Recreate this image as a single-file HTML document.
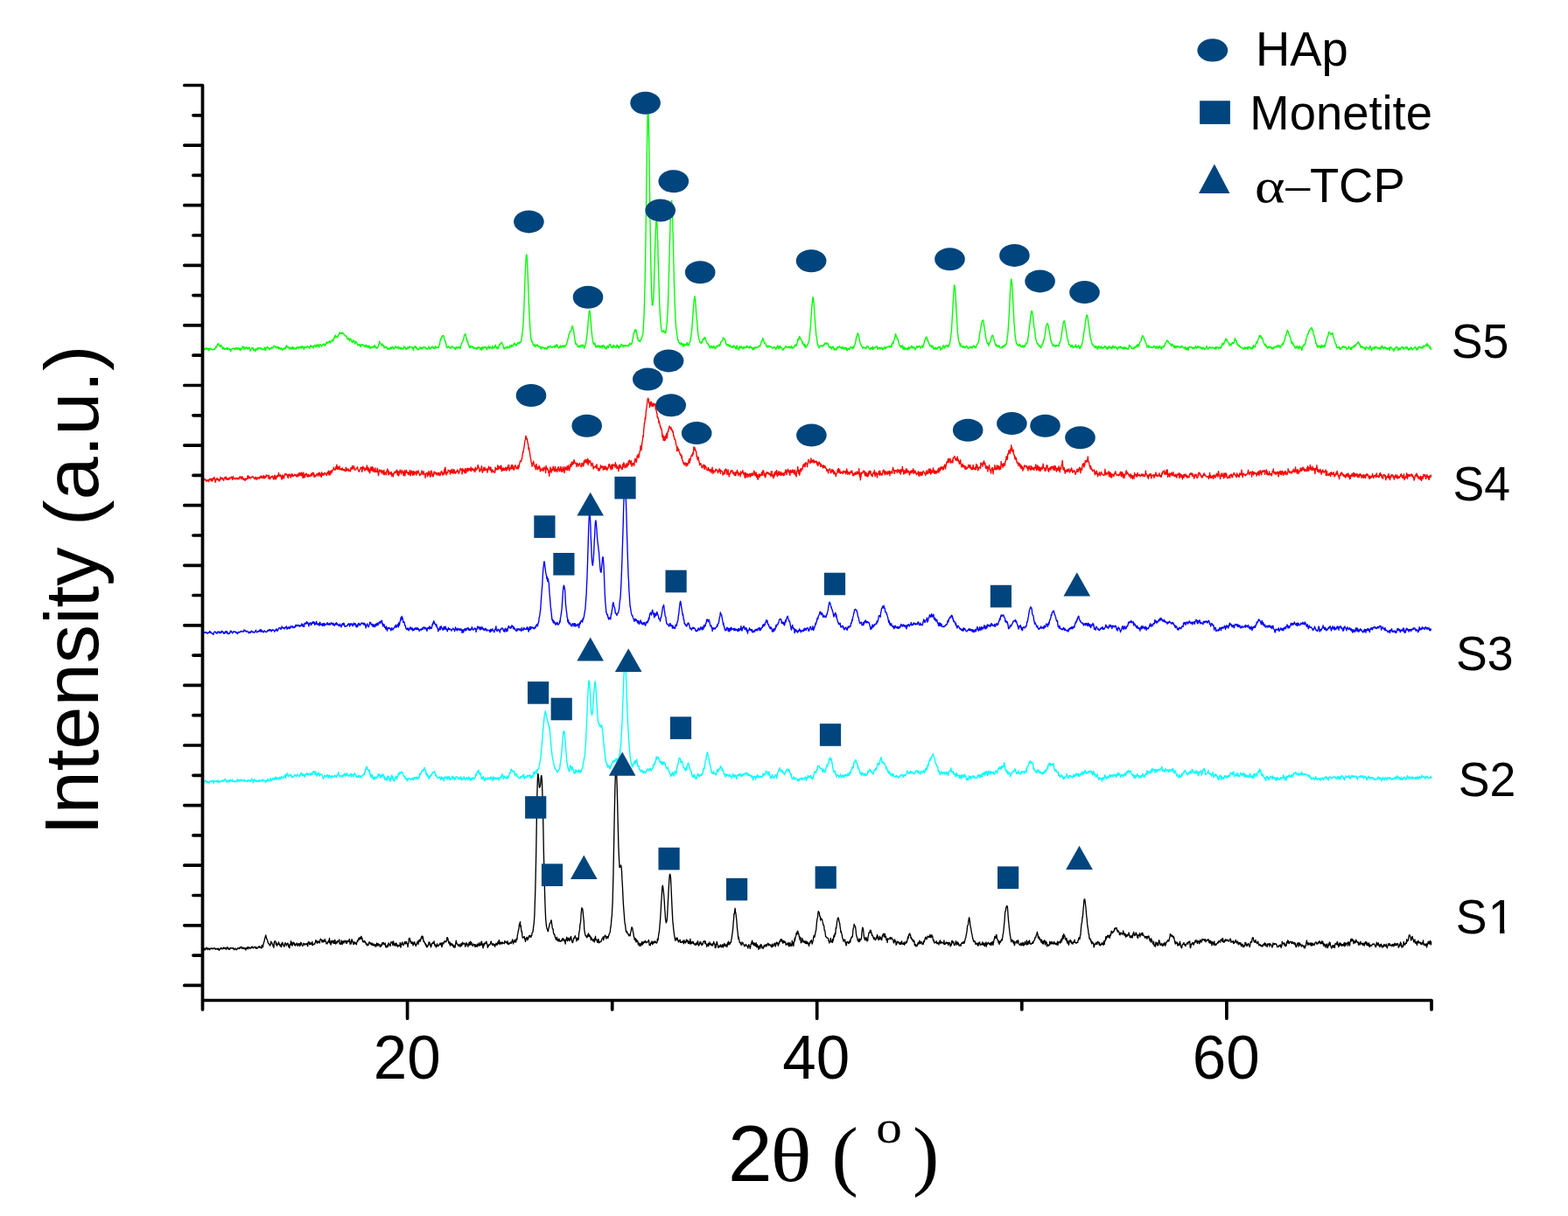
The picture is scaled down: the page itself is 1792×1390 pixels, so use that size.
<!DOCTYPE html>
<html lang="en">
<head>
<meta charset="utf-8">
<title>XRD patterns S1-S5</title>
<style>
html,body{margin:0;padding:0;background:#fff;}
body{width:1792px;height:1390px;overflow:hidden;}
svg{display:block;}
</style>
</head>
<body>
<svg width="1792" height="1390" viewBox="0 0 1792 1390">
<rect width="1792" height="1390" fill="#fff"/>
<path d="M231.7 399.7l.4-.9l.4 1.4l.4-2.3l.4 1l.4 1.2l.4-1.6l.4 .7l.4-.3l.4-.2l.4-1.5l.4 1.6l.4 0l.4 .7l.4-1.1l.4 .1l.4 1l.4 1.1l.4-2.1l.4 1.6l.4-1.1l.4-.8l.4 .2l.4-.5l.4 1.2l.4 .3l.4-.1l.4 .5l.4 0l.4-.2l.4 .3l.4-1.1l.4 .8l.4-.1l.4 0l.4-.6l.4-1.7l.4 .2l.4-1.5l.4 1.2l.4-.9l.4-1.1l.4-1.6l.4-.3l.4-.6l.4 .8l.4 1.4l.4-.1l.4-.3l.4 .9l.4 1.2l.4-1.1l.4-.8l.4 .1l.4 .2l.4 2.1l.4-.3l.4 2.4l.4-1.1l.4-.7l.4-.1l.4 1.4l.4 .7l.4-.6l.4 .5l.4-.5l.4-.2l.4 0l.4-.6l.4 1.5l.4-2.1l.4 2.1l.4-.2l.4-.9l.4 .2l.4-.3l.4 1.7l.4-.9l.4 .1l.4 1l.4 1.7l.4-1.4l.4-1.3l.4 .1l.4-.7l.4-.3l.4-.1l.4 .3l.4 .1l.4 .2l.4 .9l.4-1.6l.4 .5l.4-.1l.4-.4l.4 1.3l.4-1.4l.4-.4l.4 1.5l.4-.2l.4 .5l.4-.8l.4-1.1l.4 1.3l.4 .1l.4 .8l.4-1.4l.4 2.5l.4-2.4l.4 1.6l.4-.9l.4-.7l.4 .4l.4-1.7l.4-1.2l.4 .5l.4 1l.4 1.6l.4-2.5l.4 1l.4 1.8l.4-.8l.4-.4l.4-.7l.4-.5l.4 1.3l.4-.1l.4-.7l.4 .5l.4 1.3l.4-.4l.4-.9l.4-.8l.4-.1l.4 1.3l.4 1.4l.4 1.8l.4-1.2l.4-.7l.4-.9l.4-.7l.4-.5l.4 1l.4-.6l.4 0l.4 2.7l.4-1.3l.4 .4l.4-.3l.4 0l.4 2.4l.4-1.1l.4-1.9l.4 .5l.4-.4l.4 0l.4 1.4l.4-1.6l.4-1.4l.4 1.3l.4-.8l.4 .8l.4-.2l.4-.4l.4 .1l.4 .1l.4-.3l.4 1.2l.4-.8l.4 .3l.4 .9l.4-.3l.4 .9l.4-1.1l.4 .1l.4-.8l.4-.2l.4-.9l.4 3.4l.4-1.2l.4 .9l.4-2.1l.4-.9l.4-.3l.4-.5l.4 1.3l.4 .3l.4-.5l.4-.2l.4 .7l.4 .4l.4 1.3l.4-.4l.4-.8l.4-.6l.4 .4l.4-.8l.4-.5l.4 1.1l.4-.5l.4 .3l.4-1l.4-.2l.4-1.5l.4 .4l.4-.1l.4 .6l.4 .3l.4 .4l.4 1.1l.4-1.7l.4 .3l.4 .3l.4 1.3l.4-1l.4-.3l.4 .3l.4 1.7l.4-1.8l.4 .5l.4 .4l.4 .5l.4 .9l.4 .1l.4-1.6l.4 0l.4 .5l.4 1l.4 1.2l.4-.5l.4-.8l.4-1.2l.4 .3l.4 .4l.4-.7l.4 .8l.4-1.4l.4 .8l.4-2.4l.4-1l.4 .4l.4 1.9l.4-.1l.4-.9l.4 .9l.4-.4l.4 .3l.4 1.9l.4-.8l.4 1l.4-1.5l.4 .6l.4 .1l.4-.9l.4 1.7l.4-1l.4-1.3l.4 1.9l.4-2.3l.4 1.5l.4 1.3l.4-.4l.4-.1l.4-.8l.4 .7l.4 .2l.4 .2l.4 0l.4-1.9l.4 .3l.4 .5l.4-.5l.4-.9l.4 0l.4 2l.4-1.2l.4 .6l.4-.7l.4 .6l.4-1.6l.4 1.6l.4-1.4l.4 .8l.4 1.1l.4-2.7l.4 1.4l.4 .1l.4 0l.4-.5l.4 2.9l.4-2.2l.4 .3l.4-1.2l.4 .4l.4 .9l.4-1l.4 .8l.4-.6l.4-.2l.4-1.1l.4 .5l.4 .8l.4-.1l.4 .5l.4-.4l.4 1.4l.4-.4l.4-2.9l.4 0l.4 1.5l.4-1.3l.4 .5l.4-.1l.4 1.2l.4 .2l.4-.8l.4 2l.4-2.1l.4-.9l.4-.5l.4 .7l.4 .4l.4 .1l.4 .6l.4-2.4l.4 1.6l.4 .6l.4-.6l.4-1l.4-1l.4 1.9l.4-.3l.4 .3l.4 1.5l.4-3.1l.4 .5l.4-.7l.4 .3l.4 .7l.4 .2l.4 1.3l.4-1.5l.4 .1l.4-1.2l.4 .2l.4-.3l.4-.7l.4 1.5l.4-.1l.4 1l.4-1.8l.4 .8l.4-.4l.4-1.7l.4-1.1l.4 1.1l.4 .2l.4-.8l.4 .5l.4-1.1l.4 .1l.4-.5l.4-.9l.4 1.6l.4-.5l.4 1.1l.4-1.3l.4-1l.4-.2l.4 .7l.4-1.2l.4-.6l.4 1.9l.4-2.4l.4 .9l.4-1.3l.4-2.1l.4 .7l.4-1.7l.4-1.1l.4 1.1l.4 1.5l.4-.6l.4 .3l.4 .3l.4-1.4l.4 .7l.4-1.3l.4-1l.4-.2l.4-.4l.4-2.3l.4 1.4l.4-.3l.4-.3l.4 .3l.4 1l.4-1.6l.4 .6l.4 .3l.4-1l.4 .8l.4 .3l.4 0l.4 1.5l.4 0l.4 .4l.4 .3l.4 .7l.4-.1l.4 .8l.4-.8l.4 1.4l.4 1.7l.4 .6l.4-.6l.4 1.1l.4-2l.4 1.7l.4-.2l.4 2l.4-2.4l.4-.2l.4 .9l.4-.1l.4 1.2l.4 1.3l.4 .9l.4 0l.4-1l.4-1.6l.4 .4l.4 .7l.4-.5l.4 2l.4 1.7l.4-1.7l.4 .5l.4-1.7l.4 1.2l.4 .4l.4 .7l.4 1.4l.4 .9l.4 0l.4-.4l.4-.9l.4 .5l.4 .1l.4 1.6l.4 .1l.4-2l.4 2.6l.4-2.3l.4 .4l.4-.5l.4-.2l.4 .7l.4-.7l.4 1.3l.4 .3l.4 0l.4 .9l.4-1.3l.4 1.3l.4-1.7l.4 1.2l.4-1.5l.4 1.6l.4 .7l.4-.1l.4-1.1l.4 1.7l.4-2l.4 2l.4-.9l.4-.9l.4 2.8l.4-1.9l.4 .4l.4 1.5l.4-.5l.4-.8l.4 .5l.4-.7l.4 .1l.4-.5l.4 1.2l.4-.1l.4-1.7l.4 .7l.4-1.9l.4 1.8l.4-.4l.4 2.1l.4-1.5l.4 .9l.4 .8l.4-.3l.4 0l.4-.7l.4-1l.4-.3l.4-1.8l.4-1.1l.4-2.7l.4 1.6l.4 .5l.4 .2l.4 1.1l.4 .3l.4 1.1l.4-.2l.4-1.8l.4 1.7l.4-.1l.4 .7l.4-.7l.4 3l.4-1.3l.4 1.2l.4-.7l.4-.6l.4 1.1l.4-.8l.4 0l.4 1.5l.4 .5l.4 .4l.4 .6l.4-1.6l.4 .4l.4 .7l.4 .1l.4-.2l.4 .2l.4-1.8l.4-.5l.4 1.7l.4-.3l.4-1.2l.4 0l.4-.7l.4 .1l.4 2l.4 .1l.4 .5l.4-.3l.4-.8l.4-1l.4-1.2l.4 .3l.4 1.4l.4-.1l.4 .5l.4-.7l.4 .6l.4-.4l.4-1l.4 2.3l.4-2.3l.4 1.5l.4 0l.4 .5l.4 .6l.4-.8l.4-1.1l.4 2.2l.4-1.2l.4 .5l.4 .2l.4-.1l.4 .4l.4-.6l.4-.8l.4-2l.4 1.9l.4 .3l.4-.3l.4-.4l.4 1.9l.4-.6l.4 .9l.4 0l.4-1.3l.4-1.1l.4 1.5l.4-.5l.4-.7l.4 .8l.4-2l.4 1.5l.4-1.1l.4 .3l.4 0l.4-.2l.4 .1l.4-.2l.4 0l.4 1.9l.4-.8l.4 1l.4 2.2l.4-3.2l.4-1.2l.4 .1l.4 .3l.4-1l.4 1.1l.4 .9l.4-1.1l.4 1.9l.4-.6l.4 .9l.4 0l.4 1.3l.4-.9l.4 .1l.4 0l.4-.3l.4-1l.4-1.4l.4 1.3l.4 .7l.4-1.4l.4 .7l.4 0l.4 1l.4-.3l.4-1.6l.4 .2l.4-.4l.4 .7l.4-.5l.4 .4l.4-.6l.4 0l.4 1.8l.4-.3l.4 0l.4 .3l.4-.3l.4 1.2l.4-1l.4-.2l.4-.4l.4-1.9l.4 1.5l.4-.1l.4 1.6l.4-1l.4 .3l.4 .2l.4-1.7l.4 .5l.4-1.1l.4 1.2l.4-.7l.4-.5l.4 2l.4-1.1l.4 1.3l.4-.3l.4-.8l.4 .7l.4-2.5l.4 2.2l.4-.2l.4 .2l.4-.3l.4-.4l.4-.2l.4 0l.4 .8l.4-.6l.4-.9l.4-2.1l.4-.1l.4-3.1l.4-2.8l.4 .9l.4-1.4l.4-2.2l.4-.3l.4 .2l.4-1.6l.4 .3l.4-.3l.4 .1l.4 .9l.4 2.6l.4 1.6l.4 .1l.4 1.8l.4-.5l.4 2.6l.4 2.4l.4 2l.4-.1l.4 .5l.4-.8l.4-.3l.4-.9l.4 1.4l.4-.6l.4 .3l.4 .5l.4 1l.4 .2l.4 .1l.4-1.3l.4-.7l.4-.6l.4-.2l.4 .8l.4 .5l.4 0l.4 .9l.4 .1l.4-.2l.4 .4l.4-.9l.4 2.2l.4-1.1l.4-1.4l.4 .7l.4-.5l.4-.5l.4 1.4l.4-.4l.4-.5l.4 .3l.4-1l.4 1.4l.4-.2l.4-.9l.4 1.5l.4-2.4l.4-1.8l.4-.6l.4-1.5l.4-.3l.4-1.1l.4-.2l.4-1.3l.4-1.2l.4-1.2l.4-3l.4-.8l.4-.5l.4-.5l.4-.3l.4 3.5l.4 2.1l.4-.5l.4 3.3l.4 1l.4-.7l.4 1.4l.4 2.4l.4 .5l.4 .9l.4 1.9l.4-2l.4 0l.4 1.9l.4-1.8l.4 1.3l.4-.2l.4 0l.4-.4l.4-.5l.4 1.8l.4 .8l.4-.8l.4-.4l.4 .9l.4 0l.4-.2l.4 .2l.4 .5l.4-.7l.4 .6l.4 .7l.4-1.9l.4 1.7l.4-.5l.4-1.2l.4-.3l.4-.3l.4 .8l.4 .5l.4-.2l.4 1.9l.4-2l.4 .8l.4 1.4l.4-2.2l.4 2.3l.4-3.4l.4 .7l.4 1.3l.4-.5l.4-1.1l.4-.4l.4 .7l.4 .1l.4-.2l.4 .4l.4-1.3l.4 1.4l.4 1.1l.4 1.1l.4-1.8l.4-.4l.4-1.2l.4-.4l.4-.1l.4 2.2l.4 .5l.4-1.5l.4-1.2l.4 1l.4 .4l.4 .2l.4 .6l.4 .4l.4-.2l.4-2.7l.4 2l.4-1.2l.4 1.6l.4-.6l.4 .4l.4-1.5l.4-.1l.4-2.1l.4 2.8l.4-.8l.4 .2l.4 .8l.4 1.7l.4-1.4l.4-.5l.4 .8l.4 .6l.4-2.5l.4-1.2l.4-1.5l.4 .2l.4 1l.4-1.6l.4-.3l.4-.6l.4-.8l.4 1.4l.4 .5l.4 .6l.4 .6l.4 3.2l.4 .6l.4 1.1l.4-.2l.4-1.6l.4 .1l.4 .6l.4-.6l.4-.9l.4 1.2l.4 .3l.4-1.7l.4 1.6l.4-1.6l.4 .6l.4 .4l.4-.3l.4 .9l.4-.4l.4-2.8l.4 1.8l.4-.5l.4 .7l.4-2.2l.4 .3l.4 1.2l.4-.1l.4-.1l.4-1.6l.4-.2l.4 0l.4-1.7l.4 .7l.4 .2l.4 .7l.4-.6l.4 1.6l.4 .3l.4-.6l.4-.1l.4-1.6l.4-1.4l.4 .9l.4 .4l.4 .1l.4 0l.4-1.8l.4 .5l.4-.4l.4 .7l.4-.9l.4-1.3l.4-2.8l.4-2.5l.4-3l.4-2.8l.4-4.3l.4-5.9l.4-8.1l.4-9.3l.4-10.8l.4-12.4l.4-11.7l.4-8.8l.4-8.5l.4-5.8l.4-1.9l.4 1.1l.4 5.5l.4 8.4l.4 10.9l.4 10l.4 11.8l.4 10.1l.4 9.2l.4 8.3l.4 7.7l.4 4.4l.4 5.2l.4 4.1l.4 1.3l.4 1.4l.4-.4l.4 1.6l.4 0l.4 2.7l.4 .3l.4 .8l.4-.8l.4 0l.4-1.1l.4 2.7l.4-.4l.4-.1l.4 .1l.4-1.5l.4-.5l.4 .8l.4-.2l.4 1.5l.4 .6l.4-.2l.4-.3l.4 .3l.4 0l.4 1l.4 1.1l.4-1.9l.4 1.5l.4 .9l.4-1.7l.4-.6l.4 .5l.4 .3l.4-.2l.4 .7l.4-.4l.4 1.1l.4-.5l.4 .7l.4-1.3l.4 1.1l.4-1l.4 1.4l.4-.2l.4-.1l.4-1.3l.4-1.5l.4 .4l.4-.2l.4 1.2l.4-.5l.4 .1l.4-.8l.4-1l.4 1.3l.4 0l.4 .9l.4 0l.4 .1l.4-.4l.4-.4l.4-.2l.4-.1l.4-.4l.4 .4l.4 .9l.4 0l.4-2.5l.4 1.5l.4 .3l.4-.4l.4-2.5l.4 .7l.4 .4l.4 1.7l.4 0l.4 1.4l.4 .2l.4-.2l.4-.9l.4-1l.4 1l.4-2l.4 2.5l.4 0l.4-.8l.4-1.2l.4 .3l.4 .1l.4-.7l.4 1.1l.4 .7l.4-.8l.4-1.4l.4 1.1l.4 0l.4 .1l.4-.7l.4-1.2l.4 .1l.4-1.3l.4-1.6l.4-.8l.4-2l.4-2.2l.4 .2l.4-4.4l.4 0l.4-1.1l.4-2l.4-.1l.4 0l.4-.6l.4-1.3l.4-1.6l.4-1.3l.4-1.5l.4 .9l.4 2.6l.4 1.3l.4 1.1l.4 3.4l.4 2.9l.4 3.4l.4 1.4l.4 3.2l.4 1l.4-1l.4 .7l.4 .4l.4 .9l.4 1.5l.4-.7l.4 .5l.4 .9l.4-1.1l.4-.8l.4 1.8l.4-.9l.4 .6l.4-1.3l.4-.3l.4-.7l.4 0l.4 1.8l.4-1.3l.4-.5l.4 1.7l.4-1.1l.4 1.8l.4 1.6l.4-1.4l.4-.5l.4-1.4l.4-2.2l.4-.7l.4-3l.4-3.5l.4-3.2l.4-3l.4-4.4l.4-6.5l.4-3.6l.4-5.5l.4-2.8l.4-1.5l.4 1.3l.4 2.8l.4 5.3l.4 3.6l.4 5.7l.4 5.5l.4 3.1l.4 3.7l.4 2.2l.4 2.7l.4 1.9l.4-.8l.4 1.9l.4-.8l.4-1.1l.4 1.3l.4 2.9l.4-1.1l.4 1.9l.4-.8l.4-.1l.4-1l.4 1.6l.4-.9l.4 .3l.4-1.5l.4 1.4l.4-.6l.4 .8l.4 1.4l.4-1.8l.4 .2l.4 0l.4 .5l.4-1.2l.4 2.7l.4-1.7l.4-1.5l.4 .6l.4-.6l.4 1.4l.4 1l.4-.3l.4-.9l.4 1.1l.4 1.8l.4-.6l.4 .4l.4-.9l.4-1.9l.4 .5l.4-1l.4 1.6l.4 .5l.4-1.2l.4-1.6l.4-.4l.4-1l.4 .5l.4 .1l.4 2.1l.4 .8l.4-.3l.4 .7l.4 .5l.4-2.1l.4 .4l.4-1.4l.4 2.4l.4-2.2l.4 .9l.4 .6l.4-.1l.4 .2l.4 1.2l.4-.1l.4-1.4l.4-1.6l.4 1.3l.4-1.4l.4 1.4l.4 1.4l.4-1.2l.4 2.2l.4-1.6l.4-.3l.4-.5l.4 .7l.4-.7l.4-2.3l.4 1.2l.4-.8l.4 .8l.4 .6l.4-.9l.4 2.1l.4-.6l.4-.5l.4-.6l.4 .8l.4-.7l.4-.2l.4 1.1l.4-.5l.4-.3l.4-.4l.4 .9l.4-.1l.4 .4l.4-.3l.4-.4l.4 .3l.4-1.9l.4 1.4l.4-2.4l.4 .3l.4 .6l.4-.2l.4 .7l.4-1.6l.4 .3l.4-1.7l.4-2.7l.4-1.2l.4-2.3l.4-3.1l.4-1l.4 0l.4-3.3l.4 2l.4-1.6l.4-1l.4 .2l.4 1.7l.4 2.4l.4 2l.4 3.5l.4-.8l.4 3.8l.4-.3l.4 0l.4 .1l.4-.3l.4 1.5l.4-.1l.4-1.5l.4-.5l.4-.7l.4-1.1l.4-.6l.4-2.9l.4-.5l.4-2.1l.4-5.9l.4-7.5l.4-8.3l.4-12.9l.4-15.2l.4-17.5l.4-23.7l.4-25.4l.4-27.1l.4-30.5l.4-28.3l.4-24.4l.4-18.4l.4-8.2l.4 1.9l.4 12.7l.4 19.8l.4 26.8l.4 29.3l.4 29.9l.4 25l.4 24.5l.4 17.3l.4 15.6l.4 11.2l.4 7.4l.4 .4l.4-1.1l.4-3.6l.4-5.8l.4-8.8l.4-13.1l.4-13.7l.4-15.1l.4-11.5l.4-12.3l.4-8.3l.4-5.7l.4 1.6l.4 4.7l.4 10l.4 10.5l.4 16.6l.4 13.9l.4 13.6l.4 11.4l.4 12.8l.4 9.5l.4 7l.4 5.8l.4 4.3l.4 2.5l.4 3.4l.4 1.4l.4 .6l.4-1l.4-.1l.4 .8l.4-1.6l.4 .4l.4 1.8l.4 .2l.4 0l.4 .9l.4-1.2l.4-3l.4-2.8l.4-2.4l.4-7.2l.4-4.7l.4-8.6l.4-12.2l.4-13.3l.4-13.9l.4-14.1l.4-15.5l.4-14.8l.4-13.2l.4-14l.4-6.9l.4-2.8l.4-1l.4 8l.4 8.6l.4 13.7l.4 15.5l.4 17.6l.4 15.4l.4 15.7l.4 14.9l.4 11.4l.4 7.4l.4 9.8l.4 5.2l.4 3.6l.4 3.5l.4 3l.4 2.5l.4 3.1l.4-.2l.4 2l.4 1.3l.4 .1l.4 .2l.4 1.5l.4 0l.4-.9l.4 1.7l.4-2l.4 .6l.4 .9l.4-1l.4 1.9l.4 1.7l.4-2.1l.4-.7l.4 2.5l.4-2.5l.4 1.1l.4-.3l.4 .2l.4 0l.4 .2l.4-1.7l.4-.6l.4-.4l.4 1.8l.4 1.5l.4-2l.4 1.5l.4 .1l.4-1.3l.4-1.6l.4-1l.4-1.3l.4-3.1l.4-.7l.4-5.3l.4-1.7l.4-4.9l.4-5.2l.4-6.2l.4-5.2l.4-5.9l.4-4.8l.4-4.7l.4-1.8l.4-1.2l.4 2.9l.4 4.8l.4 5.8l.4 5.5l.4 5.5l.4 2.9l.4 5.3l.4 5l.4 4.9l.4 2.1l.4 2.9l.4 1.4l.4 .8l.4 1.3l.4 1.6l.4 .4l.4 .1l.4 .4l.4-1.8l.4 1.2l.4-1.2l.4-1.9l.4-1l.4 .5l.4-1.4l.4 .7l.4 .2l.4-2.3l.4 .5l.4 .3l.4 1.6l.4 1.3l.4 1.2l.4 .5l.4 1.7l.4-.1l.4 .7l.4-.2l.4 1.5l.4 0l.4 2l.4 .5l.4-1.1l.4 2l.4-1.4l.4-.1l.4 0l.4-1l.4 2.3l.4 .3l.4-.1l.4-1.2l.4 .3l.4-1.8l.4 2.4l.4 .1l.4-.7l.4 .9l.4 .9l.4-1.9l.4-.9l.4 .3l.4-1.1l.4 1.3l.4-1.2l.4 .2l.4-.4l.4 .2l.4-.7l.4-.8l.4 1.8l.4-.6l.4-1.3l.4-2.6l.4-.2l.4-.4l.4-.4l.4-.8l.4-.5l.4-1.6l.4-1.1l.4 .8l.4-.5l.4 1.8l.4-.4l.4 .2l.4 1l.4 1.7l.4 2.7l.4 0l.4 .2l.4 1.6l.4-.7l.4-.6l.4 .2l.4-.3l.4 1.9l.4-.1l.4 .6l.4-1.4l.4 .2l.4 .7l.4 1.2l.4-.1l.4-.4l.4 .9l.4-1.3l.4 1.1l.4 .4l.4-.9l.4-1.5l.4 .5l.4 .4l.4 .7l.4-.1l.4 1.8l.4 0l.4 .6l.4-2l.4-1.9l.4 1.8l.4 .3l.4 2.2l.4-.7l.4 .5l.4 .7l.4-3.3l.4 .3l.4-1.1l.4 1.7l.4-.4l.4 .6l.4-1.7l.4 .7l.4 1.1l.4 .3l.4 .5l.4 .3l.4-2.3l.4-.2l.4 .1l.4 1.6l.4-.7l.4-.3l.4 .2l.4-1.3l.4 1.5l.4-.2l.4-2l.4 1.5l.4-.3l.4 .9l.4-.4l.4 .4l.4-.8l.4 1.6l.4-2.1l.4-.2l.4 1.2l.4-.6l.4 .5l.4 .8l.4-.4l.4 1.4l.4-.4l.4 1.6l.4-2.4l.4 .4l.4 1.7l.4-2.6l.4 1.6l.4-1.3l.4-.5l.4 0l.4 1.1l.4-.2l.4-.7l.4 .3l.4 0l.4-.4l.4 .2l.4-1.7l.4 .2l.4-.1l.4 .1l.4 .4l.4-.9l.4-2l.4-.1l.4-2.6l.4 .3l.4-1.8l.4 .3l.4-2.7l.4 1.7l.4-.1l.4 2.4l.4 1.1l.4 .7l.4-.5l.4 .5l.4 .6l.4 1.7l.4 .5l.4 .9l.4 .7l.4-1.5l.4 1.7l.4-.1l.4-.8l.4-.8l.4 .7l.4-.1l.4 .5l.4 .5l.4-1l.4 .6l.4 0l.4 .2l.4 .7l.4 .7l.4-.3l.4 .4l.4-.2l.4-1.4l.4 .2l.4 .3l.4-.2l.4 1.1l.4 .7l.4 0l.4 1.1l.4-2.8l.4 .9l.4-1.5l.4-.3l.4-1l.4 2.6l.4 .6l.4-1.3l.4 1.7l.4-2.9l.4-.1l.4 .2l.4 1.5l.4-.2l.4 .2l.4 .6l.4-.2l.4 2l.4 0l.4 .7l.4-1.4l.4-.6l.4 .1l.4-.5l.4-.5l.4-.6l.4-1.2l.4 1l.4-.6l.4 .9l.4-.6l.4 .6l.4 .4l.4 0l.4-1.3l.4 .9l.4-.8l.4-.1l.4 1.7l.4 .2l.4-.6l.4-.2l.4-1.8l.4 1.7l.4 .6l.4-1.2l.4 1l.4 .7l.4-.6l.4 .2l.4-1.5l.4 0l.4-1.2l.4-.8l.4 1.4l.4-1.6l.4 .6l.4-.8l.4 1.1l.4-3.1l.4-.3l.4-3.6l.4 1.2l.4-.7l.4-2.3l.4 1.2l.4-3l.4 1l.4 1.8l.4-.3l.4 .7l.4 .6l.4 .8l.4 .6l.4 2.7l.4-1.5l.4 1.3l.4 1.8l.4 .7l.4 .5l.4-.5l.4-1.5l.4 4l.4-2.2l.4 2.5l.4-1.8l.4 .8l.4-1.4l.4-.3l.4-.1l.4-1.4l.4-.4l.4-2.3l.4-.4l.4-2.7l.4-3.7l.4-4l.4-3.7l.4-5.1l.4-7.5l.4-4.7l.4-7.6l.4-3l.4-4.4l.4-3.6l.4-.4l.4 2.9l.4 4.9l.4 5l.4 7.2l.4 5.5l.4 5.1l.4 4.3l.4 5.4l.4 4.1l.4 1.2l.4 3.3l.4 4.1l.4 .5l.4 2.5l.4 .1l.4 .8l.4 1.3l.4-2.2l.4-.1l.4 .2l.4-.6l.4 .4l.4-.7l.4 .3l.4-.1l.4 .6l.4 .4l.4-1.4l.4 .5l.4-1.2l.4 .4l.4-.4l.4-1.5l.4 .7l.4-1.4l.4 1.3l.4-.3l.4 .2l.4-1l.4 .3l.4 .5l.4 .8l.4-.8l.4 2.9l.4-.3l.4 1.7l.4-.8l.4 .7l.4-.6l.4 1l.4-.9l.4 2.3l.4 .3l.4-2.3l.4-.1l.4-.7l.4 1l.4-.4l.4 2l.4 1.5l.4-1.7l.4 1.1l.4-.2l.4-.1l.4 .9l.4-1.4l.4 .8l.4-2.3l.4-.4l.4 .9l.4-.7l.4-.2l.4 .9l.4-1.2l.4-.8l.4 .3l.4 .6l.4 .6l.4 .4l.4-.6l.4 1.5l.4-.4l.4-1.6l.4 1.5l.4-1.2l.4 .3l.4 1.7l.4-.5l.4 .3l.4 .2l.4-1.6l.4 1l.4 .7l.4-1.5l.4 .4l.4 2.8l.4-.8l.4 .4l.4-1.6l.4-.6l.4 .4l.4 1l.4-.9l.4 .7l.4-1.4l.4-1.2l.4-.2l.4 1l.4 .2l.4 0l.4-.5l.4 1.4l.4-1.6l.4-.4l.4-.3l.4 1.8l.4-2.2l.4-.7l.4-.6l.4-2.1l.4-1.5l.4-2.1l.4-2.7l.4-1.3l.4 .4l.4-3.3l.4-1l.4 .4l.4 1.2l.4 .5l.4 2.5l.4 1.9l.4 1.7l.4 2.2l.4 1.9l.4 .9l.4 .1l.4 .2l.4 1.8l.4 .3l.4 1.7l.4-.4l.4-.2l.4-.8l.4 0l.4 .7l.4 .1l.4 .2l.4 .5l.4 .3l.4-1.7l.4 1.1l.4-1.1l.4-1.1l.4 .4l.4-.6l.4 .4l.4 1.5l.4 .6l.4 .3l.4-.3l.4 .3l.4 1.5l.4-1.2l.4-1.1l.4 .1l.4-.4l.4 .5l.4 1.4l.4-3l.4 3l.4-.1l.4 0l.4-2l.4 .4l.4 0l.4-.4l.4 .3l.4-1.1l.4 0l.4-.5l.4-.1l.4 1.8l.4 1.4l.4 .5l.4-1.7l.4 .3l.4-.9l.4 .7l.4-.4l.4 1.8l.4-.9l.4 .1l.4-.9l.4-.3l.4-.2l.4 1.2l.4 1.6l.4-1.6l.4 .3l.4 .6l.4-.7l.4-1.7l.4 0l.4-.3l.4 2.1l.4-1.3l.4 1.1l.4-1l.4-.2l.4-.5l.4 .2l.4-.3l.4-.5l.4 .3l.4-.5l.4 .6l.4 .7l.4-1.4l.4 .1l.4 .9l.4 .1l.4-1.7l.4 1l.4-3.5l.4 .3l.4 .1l.4-2.2l.4 2.1l.4-2.7l.4-.7l.4-1.9l.4-2.1l.4 .3l.4-4l.4 .3l.4 1.5l.4 1.3l.4 .1l.4 2.4l.4-.8l.4 1.1l.4 1.2l.4 2.2l.4 1.2l.4 1.7l.4 1l.4 .8l.4-.9l.4 .6l.4 1.9l.4-.9l.4 .2l.4-1.4l.4-.6l.4 2.7l.4 1.9l.4-3l.4 2.6l.4-.6l.4-1.4l.4 2.8l.4-.8l.4-.6l.4 .6l.4-.9l.4 .5l.4 1.1l.4-1.4l.4 1.1l.4 .5l.4-2.9l.4 1.2l.4-1.3l.4 1.8l.4-.8l.4 .1l.4-.2l.4-.3l.4-1.1l.4-.9l.4-.1l.4 2.5l.4-.2l.4-.7l.4 .8l.4-1l.4 0l.4 .3l.4 1l.4 1.8l.4-1.5l.4 .4l.4-.6l.4-.5l.4-2l.4 .3l.4 1.4l.4-1.3l.4 .7l.4-.3l.4-.4l.4-.3l.4-.5l.4 1.9l.4 .5l.4-.6l.4 1l.4-1.3l.4-.4l.4-1.5l.4 .8l.4 1.7l.4-1l.4-1.8l.4-.6l.4-2l.4-2.7l.4 .2l.4-1.8l.4 .5l.4-2l.4-1.1l.4 .9l.4-.2l.4 1l.4 2.6l.4 .2l.4 1.5l.4 .4l.4 1.4l.4 .8l.4 .4l.4 1.9l.4-.5l.4-.7l.4 1.1l.4 1.1l.4-.7l.4 .3l.4-1.6l.4 1.2l.4 .9l.4 2.1l.4-1l.4 .6l.4-1l.4 .1l.4-.8l.4 2l.4 .3l.4-1.2l.4-.1l.4 1.1l.4-.9l.4-1l.4-.1l.4-.8l.4 .9l.4-.3l.4 1l.4-1.8l.4 .9l.4 3.2l.4-2l.4 .1l.4 .9l.4-.9l.4 .1l.4-2.4l.4 .3l.4 0l.4-1.6l.4 1.5l.4 2l.4-1.8l.4 .3l.4-.3l.4-.9l.4-1.1l.4 1.2l.4 0l.4-.4l.4 .9l.4-.9l.4-.9l.4 2.1l.4-1.5l.4-1l.4-.9l.4-2.3l.4-2.3l.4-2.7l.4-3.7l.4-2.4l.4-6.7l.4-7l.4-7.2l.4-7.5l.4-7l.4-7.7l.4-5.2l.4-5.3l.4 .5l.4 1.4l.4 5.2l.4 7l.4 6.3l.4 9.4l.4 5.2l.4 7.5l.4 5.7l.4 7.1l.4 1.8l.4 5.3l.4 1.4l.4 1l.4 1.4l.4 1.3l.4 2.3l.4-3.1l.4 1.8l.4 .8l.4 .7l.4 .4l.4-.4l.4 .5l.4-.8l.4 1.8l.4-1.5l.4 .3l.4 1.2l.4-.7l.4 1l.4-.9l.4-.8l.4-.3l.4-.3l.4-.2l.4 1.7l.4 .7l.4-.2l.4 1l.4-.2l.4 0l.4-1.1l.4-.1l.4-.9l.4 1l.4 .1l.4-.6l.4-.5l.4 .5l.4 1.4l.4-1l.4-.7l.4-.7l.4-.7l.4 .6l.4 1l.4-.9l.4 1.4l.4-.4l.4 1.1l.4-.4l.4-1.8l.4-1.1l.4-.6l.4-.2l.4-.8l.4-.9l.4-.6l.4-1.6l.4-2.1l.4-3.6l.4-2.8l.4-2.8l.4-1.4l.4-1.7l.4-3.3l.4-2.5l.4-1.7l.4-1.4l.4 .3l.4-.3l.4-.6l.4 2.8l.4 2.9l.4 2l.4 4.2l.4 .4l.4 4.1l.4 2.6l.4 2.3l.4 1.6l.4 2.2l.4 1l.4-.3l.4 1.5l.4-.9l.4 3.1l.4-1.1l.4-1.1l.4-1.1l.4-1.2l.4-.2l.4-.8l.4-2.4l.4-1.5l.4-.6l.4-1.9l.4-.2l.4 0l.4 1.2l.4 1.3l.4 1.1l.4 1.2l.4 2.5l.4 1l.4 1l.4 1.9l.4-.4l.4 1.3l.4-1.5l.4 2.3l.4-.2l.4 0l.4-.6l.4 1l.4-1.8l.4 1.1l.4-.3l.4 1.4l.4 .7l.4 .3l.4-.1l.4-.2l.4 .1l.4-1.3l.4-.4l.4 1.8l.4-1.3l.4 0l.4-1.4l.4 1l.4-.3l.4-.7l.4 .5l.4-2.4l.4 1.6l.4-1.5l.4 .1l.4-2l.4-2.3l.4-4.2l.4-2.3l.4-4.9l.4-6.3l.4-6.4l.4-5.7l.4-8.8l.4-9.2l.4-7.5l.4-6.4l.4-6.6l.4-1.8l.4 1.5l.4 3.4l.4 6.1l.4 6.7l.4 8l.4 7.1l.4 8.5l.4 8.2l.4 4.4l.4 5.9l.4 4.8l.4 2l.4 3.6l.4 1.7l.4 2.2l.4 .1l.4 .4l.4-.1l.4 1.6l.4 .2l.4 .2l.4-.7l.4 .1l.4-1.6l.4 1.5l.4-.3l.4 1.8l.4 .5l.4-1l.4 0l.4 .7l.4-1.5l.4 1.3l.4 .8l.4-.6l.4-1.1l.4-.5l.4 1.9l.4-.7l.4-1.5l.4-.1l.4-2.4l.4 .9l.4-.3l.4-.4l.4-.5l.4-1.7l.4-3.9l.4-2.3l.4-3.9l.4-2.8l.4-4.7l.4-1.4l.4-3.9l.4-4.5l.4-2.9l.4-2.2l.4-2l.4 .2l.4 .5l.4 3.8l.4 2l.4 2.4l.4 5.5l.4 3.4l.4 2.3l.4 2l.4 3.3l.4 4l.4 2.5l.4 1.5l.4 1.4l.4 1.2l.4 1.4l.4 0l.4-.4l.4 1.6l.4 .6l.4 1l.4-1.3l.4 1.4l.4 0l.4 .5l.4 1.1l.4 .1l.4-2.5l.4 0l.4 0l.4-2.3l.4-.1l.4-.4l.4-3.3l.4 .5l.4-1.7l.4-2l.4-2l.4-3.5l.4-1.5l.4-4.7l.4-1.6l.4-.5l.4-1.5l.4-.9l.4 .7l.4 .8l.4 1.1l.4 4.2l.4 .4l.4 2l.4 2.9l.4 2.4l.4 3.7l.4 1l.4 1.8l.4 .3l.4 1l.4 2l.4 .2l.4 1.7l.4-1.3l.4-.4l.4 1.2l.4 .3l.4-.1l.4-.9l.4 .8l.4 1l.4-1.9l.4 1l.4-1l.4 .8l.4 .4l.4-.5l.4 .4l.4-1.2l.4 1.2l.4-2l.4-1.7l.4-.3l.4-1.5l.4-1.3l.4-2l.4-2l.4-3l.4-3.4l.4-2l.4-3.2l.4-1.9l.4-2.5l.4-1.4l.4-.3l.4-.1l.4 2.3l.4 3.3l.4 1l.4 2.8l.4 2.6l.4 2.2l.4 2.7l.4 2.9l.4 .8l.4 1.8l.4 1.3l.4 2.8l.4 .4l.4 .7l.4-.2l.4 0l.4 1.1l.4 1.4l.4-1l.4-.8l.4-.6l.4 .8l.4 .7l.4 1.5l.4-1l.4 1.2l.4-1.1l.4-.1l.4-.5l.4 .6l.4-.7l.4-1.9l.4 2.8l.4 .4l.4-1.1l.4 1.3l.4-1.1l.4 0l.4-.5l.4-.8l.4 .2l.4 2.2l.4 1l.4-.8l.4 .8l.4-2.7l.4 0l.4 .2l.4-.3l.4-2.2l.4-1.7l.4-1.7l.4-2.1l.4-2.3l.4-3.4l.4-3.6l.4-1.8l.4-1.2l.4-4.3l.4-3.2l.4-3.2l.4-1.8l.4-2.5l.4-.6l.4 .9l.4 1.1l.4 3.6l.4 2.4l.4 3l.4 2.2l.4 2.6l.4 3.9l.4 3.1l.4 2.6l.4 2.3l.4 1l.4 2.1l.4 1.4l.4 1.1l.4 1l.4-.5l.4 .9l.4-.2l.4 1.8l.4 .3l.4 .6l.4 0l.4 .3l.4-2.3l.4 1.8l.4-.8l.4 1.1l.4 1.5l.4-2l.4 2.4l.4-.6l.4-2.7l.4 .4l.4 .3l.4-.5l.4 1.1l.4 1l.4-.3l.4 .3l.4-2.5l.4 1.5l.4 .4l.4 .1l.4 .9l.4-1.6l.4 1l.4-.4l.4-1.1l.4 .5l.4-.9l.4-.6l.4 1.6l.4-.3l.4 1.3l.4-.2l.4-1l.4 2.6l.4-1.4l.4 .4l.4-1.8l.4 1.5l.4-2.4l.4 1.7l.4-1l.4 .7l.4 .6l.4-.1l.4-.6l.4 1.6l.4-2.3l.4 .1l.4 1.6l.4-2.5l.4 .4l.4 .3l.4-.3l.4 2.2l.4-.4l.4-.7l.4-.1l.4-.9l.4 .4l.4 .7l.4 1.3l.4 .7l.4 .3l.4-2.3l.4 .4l.4 .1l.4-.8l.4 1.2l.4-1.6l.4 .7l.4-1l.4 1.8l.4 0l.4-1.7l.4 1.4l.4-.2l.4 .8l.4 .1l.4-1.2l.4 1l.4-1.1l.4 1.9l.4-.6l.4-.1l.4-1.5l.4 1.7l.4-1.1l.4 1.3l.4-1l.4 .7l.4 .3l.4 .5l.4-.3l.4 .4l.4-.5l.4-2.1l.4-2.1l.4 .8l.4-.4l.4 1.5l.4-.5l.4 .2l.4 1.2l.4 .2l.4 1.2l.4 0l.4-.2l.4-.3l.4 .3l.4-1.2l.4 1.2l.4-2l.4 .8l.4-.5l.4 .4l.4-1.4l.4 0l.4-.3l.4-1.4l.4 2.6l.4-1.4l.4-1.6l.4 1.2l.4 1l.4-1l.4-1.1l.4-2.5l.4-.3l.4-.5l.4-.2l.4-.9l.4-2.4l.4-.4l.4-2.5l.4-.4l.4 .7l.4-.1l.4 1.1l.4 1.1l.4 1.8l.4 .3l.4 .1l.4 2.3l.4 .7l.4 .4l.4 2.1l.4 .4l.4 2.5l.4-1.3l.4 .5l.4 .2l.4-1.9l.4 2.7l.4-1l.4-.3l.4 .6l.4 .3l.4-.1l.4-.6l.4 1.3l.4-.1l.4-.1l.4 0l.4-.8l.4 .9l.4-.8l.4-1l.4 .1l.4 .8l.4-.8l.4 .8l.4 1.4l.4-1.5l.4 1.7l.4-1.1l.4-1.1l.4 1.8l.4-1.1l.4-.6l.4 2.4l.4-2l.4-.3l.4 1.3l.4-.4l.4-1.7l.4 1.7l.4 1l.4 .7l.4 .5l.4-2.8l.4 1.2l.4-.2l.4-1.2l.4-.1l.4-.5l.4 1.3l.4-2.4l.4 .1l.4 0l.4-2.2l.4-.6l.4-.4l.4-.3l.4-1.1l.4-1.1l.4 .3l.4 .7l.4-.3l.4 1.9l.4 .2l.4 .5l.4 .1l.4 .5l.4 .8l.4-.4l.4 .2l.4 2.2l.4-2.1l.4 1.7l.4-2l.4 1.6l.4 .2l.4-.3l.4 1l.4 1.6l.4-1.8l.4-.3l.4 2.6l.4-2.1l.4 .9l.4 .9l.4-1.8l.4 .2l.4 .9l.4-1.4l.4 1l.4 .5l.4-.3l.4-.6l.4 .8l.4 0l.4 .7l.4-.9l.4 .8l.4-1.7l.4 .5l.4 .6l.4-1.5l.4 1l.4 .7l.4-.1l.4 .6l.4 .4l.4-.6l.4-.1l.4 1l.4 .8l.4-2.5l.4 2.5l.4 .5l.4-1.4l.4-.2l.4 1.7l.4-.7l.4-2.1l.4 3.6l.4-1.7l.4-1.8l.4 .3l.4-.1l.4-.7l.4 .3l.4-.2l.4 .1l.4 .3l.4 .8l.4-.3l.4 .3l.4 1l.4-1.1l.4-.7l.4 .5l.4 .2l.4 1l.4-1.3l.4-.4l.4-1.2l.4 1.7l.4 .5l.4 .5l.4-1.1l.4-1.3l.4 1.4l.4-1.2l.4-.4l.4 1.4l.4-.1l.4 .2l.4 .3l.4-1.1l.4 1.3l.4-.6l.4 1.4l.4-1l.4 1.5l.4-.1l.4-2.1l.4 0l.4 1l.4 .5l.4 .6l.4 .5l.4-.2l.4 0l.4-1.3l.4-.7l.4-.6l.4-1.2l.4 .9l.4 1.5l.4 1.3l.4-.1l.4-.1l.4-.5l.4-1.6l.4 .2l.4 .4l.4-.3l.4-.6l.4 .9l.4 .5l.4-.4l.4 0l.4-.4l.4-.5l.4 .8l.4 0l.4 .8l.4-.7l.4 .7l.4-.5l.4 .7l.4-1l.4-.8l.4 2.6l.4-2.3l.4 .3l.4-.7l.4 .4l.4 .3l.4-.2l.4 1.7l.4-.9l.4-.5l.4 .5l.4-1.3l.4 1.2l.4-.8l.4 1.1l.4-1.1l.4-1.6l.4-1.7l.4-1.4l.4 1.5l.4 .7l.4-1.7l.4 .4l.4-.3l.4-2.9l.4 .3l.4-.8l.4-1.2l.4-1.1l.4-.2l.4 2.1l.4-.8l.4 2l.4 .3l.4 .5l.4 .1l.4 .5l.4 1.2l.4 1.5l.4-1.2l.4 2.1l.4-.9l.4 0l.4-1.4l.4 1.4l.4-1.8l.4-.1l.4-.9l.4 .6l.4-.6l.4 1.1l.4-.7l.4-1.4l.4-2.2l.4-1.7l.4 2l.4-.3l.4 1.2l.4-.4l.4 2.3l.4 .9l.4 1.4l.4 .6l.4-.5l.4 1.6l.4-.6l.4-.2l.4 .2l.4 1.3l.4-.1l.4 .8l.4 .2l.4 .2l.4-.2l.4 0l.4 .1l.4 1.1l.4 .3l.4 .7l.4-1.2l.4-.6l.4 0l.4 1l.4-1.7l.4 1.7l.4 0l.4-1.1l.4 .5l.4-.4l.4-.7l.4 1.7l.4 1.1l.4-2.9l.4 1.4l.4-1.5l.4-.2l.4 .3l.4 .7l.4-.4l.4 1.6l.4-.4l.4-.3l.4 1l.4 0l.4-.9l.4-2.1l.4 1.7l.4-3.1l.4 .8l.4 .6l.4 .1l.4 1l.4-1.1l.4-1.6l.4-1.2l.4-2.1l.4 .2l.4 1.1l.4-.8l.4-1.8l.4-1.9l.4-.5l.4-.9l.4-1.2l.4-1.9l.4 .7l.4 1.1l.4 .3l.4-1.6l.4 1.5l.4 .1l.4 1.8l.4-.9l.4 .9l.4 1.8l.4 1.3l.4 1.1l.4 .9l.4 .6l.4 1.4l.4-.4l.4-.5l.4 2.7l.4-1.4l.4 .6l.4 1.4l.4 .8l.4 .6l.4-1.1l.4 .2l.4-.7l.4-.7l.4 1.7l.4-1.3l.4 .6l.4-.1l.4-.1l.4-.1l.4 1.7l.4-.8l.4 .1l.4 1.6l.4-.3l.4-1l.4-.9l.4 1.3l.4-1.3l.4 .5l.4-.5l.4-.6l.4-.4l.4 .7l.4 .4l.4 .1l.4-1.5l.4-.8l.4 1.1l.4-.4l.4-.1l.4-1l.4 .7l.4 2l.4-1.4l.4 .6l.4 .7l.4 0l.4-1.9l.4-.6l.4 .2l.4-1.7l.4-.8l.4 2l.4-.8l.4-1.2l.4-1.1l.4-1l.4-2l.4-.3l.4-3.6l.4-.4l.4-.4l.4-2.3l.4-1.2l.4-.7l.4-1.7l.4 1.4l.4 1.2l.4-.8l.4 3.1l.4 .2l.4 .3l.4 1.6l.4 .9l.4 1.2l.4 2l.4 3.4l.4-.5l.4 .9l.4-1.4l.4 1.6l.4 1.4l.4-1.2l.4 1.1l.4 1.7l.4 .3l.4 .3l.4 1.8l.4-.9l.4 .8l.4-1.5l.4 1l.4 .2l.4-2.1l.4 .8l.4-.2l.4 1.2l.4 1.3l.4-1.1l.4 1l.4-3.1l.4 1.6l.4-.3l.4 .7l.4-.5l.4 1.5l.4 2l.4-.9l.4-1.9l.4-2l.4-.1l.4-1.1l.4-.5l.4 1.1l.4-1.9l.4 .1l.4 .2l.4-2l.4-2.6l.4-1.1l.4-2l.4-.8l.4-1.8l.4-1.4l.4-.4l.4 .2l.4-2.6l.4 .1l.4-1.4l.4-1.2l.4 .3l.4 .2l.4-1.6l.4-.1l.4-.8l.4 .7l.4 1.9l.4 .5l.4 0l.4 4.2l.4 .7l.4 .8l.4 .9l.4 2.8l.4 .5l.4 1.7l.4 3.5l.4-.1l.4 .1l.4 2.9l.4-1.2l.4 2l.4 1.2l.4-1.2l.4-.2l.4-1.2l.4 1l.4-.4l.4 .2l.4 1.8l.4-.3l.4 .1l.4-3.1l.4 1.6l.4 1.4l.4-1.8l.4-.3l.4 0l.4 1.1l.4-.2l.4 .6l.4-2.3l.4 1.1l.4 .1l.4-2.8l.4-.8l.4-1.3l.4-2.7l.4-1.2l.4-1.1l.4-.5l.4-1.8l.4-.9l.4-2.6l.4-.5l.4 1.1l.4 .1l.4 .6l.4 .7l.4 .5l.4-.6l.4-.3l.4-.6l.4 1.1l.4-1.2l.4 2.4l.4 1.4l.4 1.2l.4 1l.4 1.9l.4 1.5l.4 1.3l.4 1.3l.4 .7l.4 .1l.4 2.1l.4 1.8l.4 .2l.4 0l.4-.4l.4-.4l.4 .9l.4-.3l.4-1.1l.4 1.5l.4 1.5l.4-1.9l.4 1.6l.4 .2l.4-1.1l.4-.2l.4-.9l.4-1l.4 1.2l.4-.9l.4 .1l.4-.7l.4 1l.4 .9l.4-1.1l.4 0l.4 .3l.4-.2l.4 1.1l.4 1.8l.4-.5l.4-.4l.4-.1l.4-.9l.4-.4l.4-1.4l.4 1.3l.4 .9l.4 .5l.4-.3l.4 1.2l.4-2l.4 .9l.4 1.3l.4-2.9l.4 .9l.4-.4l.4 .1l.4-1.5l.4 .7l.4 .1l.4-2l.4 .1l.4 1.3l.4-1.6l.4 .8l.4-1.7l.4 .2l.4-.9l.4-.4l.4 0l.4-1.2l.4 1.3l.4-1.6l.4 1.3l.4 .5l.4 .5l.4 1.3l.4-.2l.4 2.9l.4-.6l.4-.2l.4-.4l.4 .2l.4 1.6l.4-1.6l.4 .9l.4 .3l.4 .3l.4 .3l.4 .6l.4-1.1l.4 2.3l.4-.6l.4-.5l.4-2.4l.4 .8l.4 .3l.4 .1l.4 .4l.4-.2l.4 .1l.4 .7l.4 .5l.4-1l.4-1.2l.4-1.5l.4 1l.4 1.2l.4 .4l.4 2.9l.4-.3l.4-1.5l.4-.9l.4-.4l.4 .3l.4-.1l.4-.8l.4 1.9l.4-3l.4 1.6l.4 .3l.4-.9l.4-.6l.4 0l.4 .7l.4-.3l.4 1.6l.4-.3l.4 0l.4 .4l.4-1.4l.4 .8l.4 .8l.4-1l.4 1.2l.4 .3l.4-2.9l.4 .5l.4 .4l.4-2.3l.4 1.9l.4 1.3l.4-.8l.4-.2l.4 .5l.4 1.1l.4-2.1l.4 0l.4 .9l.4 .8l.4-1.1l.4 .3l.4 .9l.4 .4l.4 .7l.4-1.5l.4 .6l.4-.2l.4 .6l.4-1.6l.4 2l.4 1.1l.4-3.5l.4 .9l.4-1.6l.4 1.1l.4 .2l.4 .3l.4 .7l.4 .5l.4-.1l.4-.3l.4 2.2l.4 .4l.4-1.6l.4-1l.4 .3l.4-1.3l.4 .2l.4-.8l.4-.6l.4-.3l.4 1.4l.4-.3l.4 .6l.4 2.5l.4 .1l.4-.7l.4-2.3l.4 2.2l.4-.8l.4 .8l.4-1.6l.4 .1l.4-.4l.4-1.1l.4 .6l.4-.5l.4 .7l.4-.8l.4 1.1l.4 1.5l.4-1.2l.4-.3l.4 .2l.4-.2l.4-.5l.4-.7l.4 0l.4 2l.4-.3l.4-1.8l.4 1.6l.4 .7l.4 .1l.4 1.3l.4-1l.4-1.1l.4 1.5l.4-.4l.4 0l.4-.7l.4-1.8l.4 1l.4 .8l.4 .9l.4-.1l.4 .4l.4-1l.4-.6l.4-.1l.4-.6l.4 .2l.4-.6l.4-.3l.4-.2l.4 1.9l.4 .1l.4 1.7l.4-.9l.4-1.4l.4 1.1l.4 .3l.4-1.7l.4-1.2l.4 .4l.4-.7l.4 .1l.4 .4l.4 .8l.4-.8l.4 1.6l.4-.7l.4-.3l.4-.3l.4 .3l.4 1l.4-3l.4 1.1l.4-.3l.4-.5l.4 .4l.4-.8l.4-.1l.4-.2l.4 .3l.4-1.7l.4 2.1l.4-2.8l.4 1.2l.4 1.4l.4 .5l.4-1.5l.4 1.4l.4 .5l.4-.2l.4 1.9l.4-1.8l.4 2.6l.4 .8l.4-1" fill="none" stroke="#00ff00" stroke-width="1.35" stroke-linejoin="round"/>
<path d="M231.7 548.3l.4 .2l.4-1.7l.4 2l.4-.1l.4-1.4l.4 .8l.4 .8l.4-.2l.4-.6l.4 1.9l.4-.3l.4 .3l.4-.3l.4-1.3l.4 1.2l.4-1.2l.4 2.1l.4-1.2l.4-1.2l.4-.8l.4 1l.4 .1l.4-1.2l.4 2.6l.4-2l.4 2l.4-2.7l.4 2.7l.4-3l.4 .2l.4 .6l.4-.5l.4-1.8l.4 2.2l.4 2.5l.4 1.3l.4-1.4l.4-2.1l.4 .7l.4-1.7l.4 1.6l.4-1.6l.4 1.3l.4-.3l.4 1.2l.4-1.1l.4 2.1l.4-1.5l.4 .4l.4-.6l.4-3.2l.4 1.9l.4 .3l.4-.7l.4 .5l.4-1l.4 2l.4-.2l.4 .1l.4 1.3l.4-2.3l.4-.9l.4-.4l.4 .9l.4-1.3l.4 2.5l.4-2.6l.4 1.2l.4 1.8l.4-1l.4-.2l.4 1.2l.4-1.1l.4 1.1l.4-.9l.4-1.4l.4 1.6l.4-.1l.4-1.3l.4-.2l.4 0l.4-.9l.4 1.7l.4-.8l.4 2.5l.4-2.9l.4-1l.4 2.3l.4 .2l.4 .1l.4 .3l.4-.1l.4-1l.4 1.4l.4-.4l.4-.8l.4 .6l.4-1l.4 1.6l.4-.1l.4-.5l.4 .5l.4-1.4l.4 1.5l.4-2.2l.4 .2l.4-1.1l.4 1.3l.4-.2l.4 1.9l.4-.7l.4-2.2l.4 1.3l.4-.6l.4 2.4l.4 .7l.4-1.5l.4 1.1l.4-.8l.4 .9l.4 1.3l.4-2.3l.4-.3l.4 1.2l.4-.2l.4-.4l.4-.7l.4-1.8l.4-1.4l.4 3.6l.4-1.5l.4-.7l.4-.3l.4 2l.4-.6l.4-.1l.4 .9l.4-1.1l.4-.3l.4 0l.4-.4l.4 0l.4-.7l.4 1.3l.4-.3l.4 .9l.4 .4l.4 .6l.4 .5l.4-1.9l.4-.4l.4-.1l.4 1.6l.4 1.3l.4-1.9l.4 .9l.4-1.5l.4 .1l.4 .3l.4 .1l.4 1l.4-2.2l.4 .9l.4-.1l.4-1.4l.4 1.5l.4-2.1l.4 2.3l.4-.9l.4 0l.4 .4l.4 1l.4-2.9l.4 1.1l.4-1.2l.4 3.1l.4-.7l.4 .3l.4-2l.4 .5l.4 .4l.4-2.3l.4 .1l.4 .4l.4 .4l.4 .1l.4 .2l.4 2.8l.4-3.9l.4 1.6l.4 1.7l.4 1.3l.4-.8l.4-1.2l.4-.2l.4-.7l.4 .7l.4-1.1l.4-.4l.4 1.2l.4 .7l.4 1.9l.4 0l.4-2.9l.4-1.3l.4-.4l.4 4.6l.4-3l.4 .6l.4 1.9l.4-3.2l.4 1.1l.4-.6l.4-1.3l.4 1.6l.4-.6l.4-3.8l.4 3.4l.4-.8l.4 .9l.4 .7l.4-2l.4 1.3l.4 .1l.4 2.9l.4 1.2l.4-2.1l.4-3.1l.4 3.6l.4-2.7l.4 2.1l.4 .8l.4-1.9l.4-2.3l.4-.9l.4-.1l.4 .8l.4-1l.4 1.8l.4-.5l.4-.3l.4 .9l.4 2.2l.4 1l.4-4.1l.4 1.7l.4-1.8l.4-.2l.4 .3l.4 .9l.4 2.7l.4-2.2l.4-.8l.4-1.2l.4 2.6l.4-2.5l.4 1.7l.4 1.1l.4-1.1l.4 .2l.4-.8l.4 .5l.4-1.2l.4 .1l.4 1.1l.4-.8l.4 1.7l.4-.6l.4 1.2l.4-.6l.4-2.6l.4 .6l.4 1.9l.4-1.8l.4-1.6l.4 2.8l.4-3.2l.4 1.5l.4 1l.4 .3l.4-2.6l.4-.6l.4 3.9l.4-3.1l.4 2l.4 3.4l.4-3.7l.4-2.6l.4 5.9l.4-1.2l.4-1.7l.4 2.7l.4-3.7l.4 .8l.4-1l.4-.7l.4 1.5l.4 1.5l.4 .7l.4 .1l.4-2.7l.4 .7l.4 1.9l.4-1.5l.4-.2l.4 .9l.4 .6l.4-.6l.4-2.2l.4-.1l.4 1.4l.4 1l.4-3.9l.4 .4l.4 0l.4 2.1l.4-2.2l.4 4.8l.4-2.4l.4 .2l.4 1.8l.4-1.2l.4-.1l.4-.4l.4 .9l.4-2.6l.4 1.1l.4 .1l.4-1.4l.4 2.7l.4-.9l.4-3l.4 2.5l.4-2.2l.4 3.6l.4-2.5l.4 2.1l.4 1l.4 .7l.4-5.5l.4 1.7l.4-.3l.4 2.2l.4-2l.4 .2l.4 1.4l.4-.4l.4-2l.4-.3l.4 .5l.4 1l.4 .2l.4 1.1l.4 .5l.4-2.6l.4-1l.4 .6l.4 1.1l.4-3.1l.4-.4l.4 4.9l.4-2.9l.4-1.2l.4 1.9l.4 1.6l.4-3.4l.4-1.1l.4 .4l.4 1.8l.4-2.6l.4 .6l.4-.5l.4-.5l.4-3l.4 1.8l.4 .3l.4 .7l.4 .3l.4-.6l.4-2.9l.4 2.3l.4-2.1l.4-2.9l.4 3.6l.4 1.6l.4 .1l.4-2.8l.4 2.2l.4-.1l.4 .4l.4-3.1l.4 3.9l.4-.1l.4-.4l.4-.3l.4-.6l.4 1.6l.4 .3l.4-2.5l.4 1.1l.4 1l.4 .7l.4 0l.4-1.2l.4 .8l.4 .9l.4-.2l.4 .8l.4-4.6l.4 1.6l.4-.4l.4 2.7l.4-1l.4-.7l.4 .9l.4-1.4l.4 2.6l.4-.4l.4 0l.4-.9l.4 1.5l.4 .2l.4-4.1l.4 .4l.4 .3l.4 1l.4-3.9l.4 1.6l.4 .5l.4 1.1l.4-3.3l.4 .8l.4 1.3l.4 2.4l.4-.2l.4 .5l.4-.7l.4-.8l.4-.1l.4-.7l.4 .5l.4-1.8l.4 2.7l.4 .5l.4 1.7l.4 .3l.4 .2l.4-1.9l.4-.3l.4-.5l.4-1.8l.4-.4l.4 .3l.4-.1l.4 5l.4-5.3l.4 2.9l.4-3.9l.4 2.1l.4-.9l.4 .4l.4 2.5l.4 1l.4-1.9l.4 .4l.4-1.8l.4 .4l.4 1.5l.4-4.8l.4 3l.4-.4l.4 3.5l.4-3.8l.4 4.6l.4-2.7l.4 .6l.4 4.1l.4-1.3l.4-3.8l.4-1.8l.4 .6l.4 3.2l.4-2.1l.4-2.2l.4 3.9l.4 1.4l.4-4.4l.4 3.6l.4-1.6l.4 3.1l.4-.7l.4-2.3l.4-1.5l.4 4.7l.4-1.6l.4 .6l.4 .8l.4-1.1l.4-3.3l.4 2.6l.4 2.8l.4 3.1l.4-2.8l.4-2l.4-2l.4 1.3l.4 .7l.4-.2l.4 .2l.4-1.5l.4 3.7l.4-3.4l.4 2.2l.4-1.5l.4 1.9l.4 2l.4-3.5l.4-1.2l.4 5.1l.4-1.9l.4-.2l.4 .7l.4-1.2l.4 2.9l.4-2.9l.4-2l.4-.3l.4-1.7l.4 2.4l.4 4.5l.4-4.8l.4 1.8l.4 2.2l.4-1.9l.4 1.3l.4-.5l.4 1.1l.4-2.8l.4 .5l.4 4.5l.4-2.8l.4 .5l.4-.5l.4 3.3l.4-2.7l.4-.1l.4-2.5l.4 1.1l.4-1.1l.4 .5l.4 .3l.4-1.8l.4-.5l.4 1.7l.4-2.5l.4 4.9l.4 .9l.4-4.2l.4 5.1l.4-4.4l.4 3.5l.4-4l.4 .9l.4-2.9l.4 2.3l.4-.1l.4 2.6l.4-1.8l.4-2.5l.4 1.4l.4 0l.4 1.7l.4 2.1l.4 1l.4-3.3l.4-2.8l.4 2.8l.4 3.4l.4-3.1l.4-1.8l.4-1.5l.4 .3l.4 2.7l.4-1l.4 .3l.4 1.5l.4 1.4l.4-1.7l.4-1.3l.4 1.6l.4 1.5l.4-5.2l.4 .7l.4 5.4l.4-2.2l.4-.2l.4-3l.4 .9l.4 1.2l.4 3l.4-1.8l.4-3l.4 4.4l.4-.1l.4-.8l.4-2.9l.4 1.1l.4 .8l.4-.7l.4 2.8l.4-4.8l.4 .9l.4 2.4l.4-1.9l.4-.7l.4-1.1l.4 2l.4 .8l.4 1.4l.4 1.4l.4-1.2l.4-.3l.4 .6l.4-2l.4 .2l.4-3l.4 1.5l.4 2.2l.4 .7l.4 .3l.4-3.8l.4 2.5l.4-.1l.4 .5l.4 2l.4 2.6l.4-4l.4-.7l.4-1.1l.4 .5l.4 .1l.4 3.7l.4-1l.4-3.4l.4-1.1l.4 3.7l.4-4.1l.4 3.3l.4-.5l.4 3.7l.4-1.3l.4-5.9l.4 2.2l.4-2l.4 2.2l.4 3.8l.4-2.4l.4 3l.4-2.4l.4 .8l.4-4.2l.4 2l.4-1.6l.4 1.6l.4-1l.4 .2l.4 1.7l.4 .9l.4-2l.4 .9l.4-1.1l.4 .6l.4 1.9l.4-2.7l.4-.2l.4 2.6l.4-1.7l.4 2.5l.4-1l.4-1.8l.4-1.5l.4-.8l.4 .3l.4 2.2l.4 1.7l.4-2.1l.4 2.1l.4-.4l.4-3.4l.4-2.3l.4 4.9l.4-6l.4-1.5l.4 2.1l.4 4.3l.4 2.5l.4-3.1l.4 .3l.4-.4l.4 1.1l.4-3.7l.4 1.2l.4-.3l.4 .2l.4-.7l.4 2l.4 2.4l.4-3.8l.4 2.4l.4-2.9l.4-1.2l.4 3.7l.4-1.4l.4-.4l.4 2.7l.4-4.8l.4 2.2l.4 2.2l.4-3.4l.4 1.8l.4 1.5l.4 .6l.4-1.4l.4 .6l.4-1.9l.4 0l.4 .4l.4-2.1l.4 1.5l.4 1.1l.4 1.9l.4-.6l.4-.6l.4-2.6l.4 .5l.4-2.7l.4 1.7l.4-.7l.4 .8l.4-1l.4 5.8l.4-2.7l.4-3.6l.4 1.6l.4 1.3l.4-1.3l.4 2.1l.4-.9l.4 2.5l.4-5.5l.4 5.2l.4-1.2l.4 .8l.4-4l.4-.2l.4-.8l.4 3.2l.4 .2l.4-3.2l.4 1.8l.4 .1l.4-1.6l.4 .8l.4 1l.4-1.1l.4-2.4l.4 4.7l.4-2.2l.4-.2l.4-1l.4 1.7l.4-1l.4 1.3l.4 .5l.4 .4l.4-2l.4 .2l.4 3.2l.4-5.4l.4 2.1l.4-.1l.4 1.2l.4-1l.4-1.6l.4 .9l.4-4.1l.4 .4l.4 2.7l.4 .5l.4-.3l.4 4.3l.4-2.4l.4 1.6l.4-1.6l.4-1.1l.4-1.3l.4-1.8l.4 5.7l.4 1.9l.4-1.3l.4-.5l.4-2.4l.4-1.7l.4 1.2l.4 2.4l.4-3.7l.4 2.6l.4 .4l.4-.8l.4 .7l.4 .4l.4-1.7l.4 4.2l.4-.5l.4-2.8l.4-.9l.4-2.6l.4 1.7l.4 1.6l.4-2l.4 1.5l.4 1.6l.4-3.7l.4 3.3l.4 2.7l.4-.1l.4-2.3l.4-.7l.4 1l.4 .7l.4 1.6l.4-1l.4 .4l.4-.9l.4 1.6l.4-6.1l.4 3.4l.4-1.6l.4 0l.4-.3l.4 1.2l.4-1.5l.4-3.6l.4 5l.4-3.5l.4 2.5l.4-1.8l.4 .3l.4 1.1l.4-2.6l.4 3.4l.4-.8l.4-3.2l.4 6.5l.4-1.8l.4-.1l.4-1.4l.4 2.4l.4-2.7l.4 1.3l.4 1.5l.4-2.1l.4 .9l.4 .5l.4-2.8l.4 1.8l.4-1.2l.4 3.2l.4-3l.4-.9l.4 2.3l.4-2.9l.4-1.9l.4 3.1l.4-3.1l.4 6.3l.4-2.1l.4 .2l.4-.1l.4-1.9l.4 1.7l.4-4.1l.4 3.8l.4-.6l.4-3.4l.4 3.5l.4 1.6l.4-2.7l.4 3.3l.4-.6l.4-3.1l.4-1.5l.4 1.6l.4-1.6l.4 1.5l.4 1.9l.4-.9l.4 1.5l.4-1.4l.4-.5l.4-2.3l.4 4.1l.4-1.6l.4-1.4l.4-2.5l.4-1.7l.4-1.7l.4-.1l.4 .1l.4 .7l.4-2.6l.4-.4l.4-3.3l.4-2.3l.4-2.9l.4 .5l.4-3.2l.4-1.7l.4-3.2l.4-3.7l.4-1.6l.4-1l.4-4l.4 .7l.4 1.4l.4 2l.4-.7l.4 3.6l.4 1.4l.4 1.3l.4 5.9l.4-2.4l.4 2.6l.4 2.7l.4 2.1l.4 3.7l.4 1.4l.4 3l.4 2.1l.4 0l.4 4.1l.4-.8l.4-2l.4-1.5l.4-1.8l.4 2.5l.4 1.5l.4 2l.4 .9l.4-1.3l.4 4.1l.4-5.2l.4-1.1l.4 2.8l.4 .9l.4 2.7l.4-2.9l.4 1.3l.4 .6l.4-.2l.4-3.6l.4 3.4l.4-1.8l.4 5.1l.4-2.7l.4-.2l.4 2l.4-.6l.4-.3l.4 .5l.4-2l.4-.5l.4 3.5l.4-2.4l.4 0l.4-2.3l.4 1.8l.4-.5l.4 2l.4 3.4l.4-8l.4 2.3l.4 1.1l.4 .3l.4-1.1l.4 2.4l.4-.6l.4 3.5l.4-2.1l.4 5.9l.4-4.4l.4-.9l.4-4.9l.4 1.6l.4 1l.4 3.6l.4-4.1l.4 2.2l.4-1.4l.4 .3l.4-4.1l.4 .9l.4 2.3l.4 1.7l.4 .5l.4-2.5l.4-2.6l.4 5.7l.4-2.2l.4-.5l.4 1l.4-.9l.4 3l.4-3.5l.4-1.8l.4 .8l.4-1.3l.4 4.3l.4-2.4l.4 3.2l.4-2l.4-.5l.4-3l.4 1.8l.4 4.1l.4 .2l.4-2.6l.4 1.9l.4-4.5l.4-.4l.4 4.2l.4-2.1l.4 4.7l.4-1.7l.4-5.3l.4 1.4l.4-.2l.4 2l.4-.2l.4-.4l.4-3.4l.4 4.6l.4-2l.4-1.4l.4-2l.4 2.9l.4 2.9l.4-2.7l.4 .9l.4-5.4l.4 2.5l.4-1.9l.4 2.2l.4-5.4l.4 2.2l.4 1.2l.4-2.7l.4-.4l.4 2l.4-3.6l.4-1.1l.4 1.2l.4 2.7l.4-.5l.4 .9l.4-.6l.4 .1l.4 4.1l.4-3.7l.4-.4l.4 1.3l.4 0l.4 2.5l.4-2l.4-.6l.4 .3l.4-1.7l.4 1.9l.4 1.2l.4 .7l.4 .7l.4-.2l.4-4l.4 2.1l.4-.2l.4-1.6l.4 3l.4-.7l.4-5.3l.4 3l.4-1.7l.4-.8l.4-2.2l.4 3.5l.4-1.5l.4 1l.4-2.7l.4 4.1l.4-1.2l.4-4l.4 7.2l.4-5.6l.4 3.2l.4-2.3l.4 0l.4 1.5l.4-1.5l.4 2.4l.4 .3l.4 3.3l.4-1.4l.4-.6l.4-1.5l.4 .7l.4 3.2l.4 2.8l.4-.6l.4-2.3l.4 1.1l.4-.2l.4-.1l.4 .1l.4-1.6l.4-.4l.4 3.2l.4-4.5l.4 3.9l.4 .6l.4 .2l.4 2.4l.4-2.6l.4 .6l.4 2.2l.4-.4l.4-2.4l.4-.2l.4-3.2l.4 3.3l.4-1.9l.4-.2l.4 1l.4 0l.4-1.1l.4 4.2l.4-3.6l.4 .8l.4 2.4l.4-1.7l.4-2.4l.4 3.5l.4 .4l.4-2.9l.4 .5l.4 1.4l.4 1.8l.4-.6l.4-2.1l.4 .7l.4-1.7l.4-2.6l.4 .8l.4-1.3l.4 2.7l.4 1.7l.4-1.1l.4 3l.4-4.9l.4 .6l.4-1.3l.4 5.1l.4-1.2l.4-4.3l.4 1l.4 .5l.4-.7l.4 .2l.4-.7l.4 3.3l.4-5.7l.4 4.1l.4-1.9l.4 .5l.4 4.3l.4-2.6l.4 2l.4-.8l.4 .1l.4 4.4l.4-7l.4 3.5l.4-.2l.4-4l.4 2.4l.4-1.1l.4 1.1l.4 1.9l.4-.2l.4 1.5l.4-.6l.4-5.4l.4 3.4l.4-3.1l.4-2.2l.4 1.4l.4 1.4l.4 3.2l.4-.8l.4 .4l.4-3.1l.4 1.6l.4-3.3l.4 4.3l.4-2.5l.4 .9l.4-.7l.4-4.1l.4 3.8l.4-4.4l.4-.9l.4 .5l.4 1.4l.4 2l.4 .8l.4-4.1l.4 2.7l.4 3.9l.4-1.6l.4-.7l.4-1.4l.4-.2l.4 .8l.4 2.2l.4-1l.4-4.8l.4-2.2l.4 2.1l.4-2l.4 3.4l.4 .6l.4-3.1l.4-4.3l.4 0l.4 1.6l.4-3.5l.4 4l.4-.3l.4-2.3l.4-2.6l.4-2.6l.4-.6l.4-5.3l.4 3.9l.4 1.4l.4-2.4l.4-5.9l.4-2.1l.4-1.8l.4-4.5l.4 1.2l.4-8.3l.4-3.1l.4-4.7l.4 .3l.4-6.1l.4 1.8l.4-5.2l.4-6l.4-.4l.4-5.2l.4-.9l.4-4.5l.4-1.8l.4 1l.4 .1l.4 4.3l.4-.5l.4 5.6l.4-3.1l.4 .7l.4-4l.4 3.6l.4-3l.4 4.7l.4-1.3l.4 1l.4-3l.4 0l.4 3.1l.4-1l.4-2l.4 1.4l.4-.5l.4-.2l.4 6l.4-5.6l.4 6.4l.4 3.4l.4 .3l.4 4.8l.4-.9l.4 2.2l.4 0l.4 4.8l.4-1.9l.4 2.1l.4 1.5l.4 3.4l.4-1l.4 2.3l.4 1.1l.4-.5l.4 3.1l.4 6.2l.4-3.4l.4 1.5l.4 5.5l.4-4.6l.4 3.2l.4 1.8l.4-4.3l.4 3.8l.4-1.3l.4-4.5l.4 1.6l.4-3.5l.4 5.6l.4-1l.4-5.2l.4-2.1l.4 .9l.4-3.8l.4 .1l.4-2.9l.4 .6l.4 .6l.4 0l.4 2.1l.4-2l.4 3.1l.4 0l.4-.5l.4 2.9l.4-.3l.4-.4l.4 4.9l.4-.2l.4 3l.4 1.3l.4-.4l.4 1l.4 1.3l.4 3.5l.4 1.7l.4 .7l.4 5.7l.4-1l.4-3.9l.4 4l.4-1.7l.4 .6l.4 2.2l.4 1.1l.4 1l.4 1.8l.4 .8l.4-1.4l.4 1.5l.4 2.8l.4-2.4l.4 4.9l.4 .9l.4-.3l.4 3l.4-.5l.4 .7l.4 1.7l.4-1.3l.4-1.4l.4 1.5l.4-.9l.4 3.5l.4-3l.4-.1l.4-.2l.4 2.6l.4-2.2l.4 .1l.4-2.1l.4-2.3l.4-1.3l.4 4.8l.4-3l.4 .4l.4-3.3l.4-1.4l.4-.9l.4-1.1l.4 .4l.4 1l.4-3.6l.4 1.8l.4-3.7l.4-4.8l.4 3.2l.4-2.8l.4 .6l.4 1.6l.4 1.9l.4-.3l.4 .9l.4 5.6l.4-.6l.4 2.9l.4 1.5l.4-2.6l.4-.5l.4 4.2l.4 .2l.4 2.3l.4 2.6l.4-1.9l.4-.2l.4 .3l.4 2l.4 .5l.4 2l.4 .5l.4-.2l.4-2.2l.4-1.2l.4 1l.4-.8l.4 4.6l.4 .1l.4-4.4l.4 2.5l.4-1l.4 .2l.4 2.6l.4 .2l.4 1.4l.4 0l.4-.6l.4-2.7l.4 3l.4-1.7l.4 2.6l.4-.2l.4-.9l.4 1.6l.4-2.1l.4-.3l.4 4.1l.4-3.2l.4-.2l.4-3l.4 4.3l.4 3.1l.4-3.7l.4 .4l.4 1.3l.4-.9l.4 1.3l.4-1.3l.4-1.6l.4-.7l.4 .8l.4 .8l.4-.5l.4-.2l.4 .7l.4 2.8l.4-2.1l.4 .4l.4 0l.4-3.4l.4 3l.4-1.7l.4 4.4l.4-3l.4-.3l.4-.1l.4 .6l.4 .1l.4 1l.4 3.5l.4-1.7l.4 .9l.4-2.2l.4 .3l.4-3l.4 4l.4-3.4l.4-2l.4 .5l.4 .5l.4 1.8l.4 3.7l.4-4l.4 1.7l.4-3.4l.4 5.4l.4-.7l.4 3.3l.4-3.6l.4 .6l.4-.6l.4-2.4l.4 .8l.4-2l.4 .2l.4-.1l.4-.1l.4 3.6l.4-1.9l.4 0l.4 1.3l.4 2l.4-1.3l.4 2l.4-3.3l.4 .1l.4 3.7l.4-4.3l.4 1.5l.4-.5l.4-3.2l.4 1.6l.4 2.1l.4 2.6l.4-3.1l.4 1.9l.4-1l.4 .5l.4-.4l.4 3.2l.4-5.7l.4 2.8l.4-1l.4-.2l.4-.3l.4-2.1l.4-.4l.4 2l.4 1.7l.4 1.2l.4-2.2l.4 3.1l.4 2.6l.4-5.2l.4-.8l.4 2.5l.4 3.1l.4-4.2l.4 .2l.4-.2l.4 1.1l.4 2.7l.4-2l.4-.9l.4 .1l.4-1.2l.4 3.2l.4-1.8l.4 2.3l.4-3.8l.4 2.1l.4 .1l.4-.3l.4-2.5l.4 2.7l.4-1l.4 .4l.4-1.1l.4-3.5l.4 2.1l.4-.5l.4 4.2l.4-1.2l.4-1.3l.4-1.6l.4 5.5l.4-.4l.4-2.7l.4 5.5l.4-3.7l.4 3.9l.4-5.1l.4 .8l.4-2l.4 3.8l.4-1.4l.4-.4l.4-1.3l.4 .8l.4 .2l.4-3.6l.4 3.5l.4-.1l.4-4.4l.4-1.1l.4 .4l.4 1.5l.4 4.1l.4 .3l.4-2.9l.4 4.7l.4-2.3l.4 .6l.4-2.8l.4-1.6l.4 1.1l.4-1l.4 1.5l.4 0l.4-1.2l.4 2.1l.4-1.2l.4 .9l.4 .7l.4-.8l.4 1.4l.4 1.5l.4-5.7l.4 1l.4-1.3l.4 5l.4-.8l.4 2.2l.4 1.5l.4-4.1l.4 3l.4-4.7l.4 3l.4-2.3l.4-2.6l.4 1.4l.4 1.8l.4-2.9l.4-1.6l.4 5.6l.4 1.4l.4-3.6l.4 2.1l.4-3.4l.4-1l.4 3.7l.4-1.4l.4 2l.4-1.8l.4-1.9l.4 4l.4-3.1l.4 .8l.4 1.8l.4-1l.4 .5l.4-1.7l.4 3.1l.4-.9l.4-1.9l.4 2.2l.4-3.1l.4 .4l.4-3.1l.4 2l.4-2.1l.4 5.4l.4-1.8l.4-1.9l.4-1l.4-1.7l.4 1.9l.4 .7l.4 1.8l.4-2.4l.4 1.6l.4 3.5l.4-5.8l.4 2.4l.4-1.9l.4 2.4l.4-.4l.4-1.1l.4-2l.4 1.3l.4 2.1l.4-2.5l.4 1.7l.4 2.5l.4-4.2l.4-.7l.4 3.6l.4 2.3l.4 .9l.4 1.1l.4-6.2l.4-.3l.4 0l.4-5l.4 3l.4 4.8l.4-.4l.4-3.3l.4 5.5l.4-2.1l.4-3.3l.4-2l.4 2.4l.4 .5l.4-1.4l.4-2.1l.4 1.3l.4-1l.4-3.7l.4 .3l.4-1.4l.4 2.5l.4-3.2l.4 1.2l.4 2.5l.4-3.4l.4-1.8l.4 1.1l.4 .3l.4 .2l.4 3.7l.4-3.3l.4-.6l.4-4.3l.4 .9l.4-.4l.4 .6l.4 2.3l.4 .8l.4-.9l.4 0l.4-5l.4 2.5l.4 2.2l.4-.2l.4-1.9l.4 1.2l.4-2l.4 1.1l.4 2.5l.4-3l.4 1.5l.4 .7l.4-.6l.4-.2l.4 .9l.4-1.5l.4 1.4l.4 2.6l.4-2.5l.4 1l.4 3l.4-3.3l.4 1.7l.4-3l.4 1.3l.4 .7l.4-.2l.4 3.8l.4-1.9l.4-1l.4 2l.4-.2l.4 .7l.4-1l.4 2.9l.4-2.9l.4-.1l.4 2l.4 .4l.4-1.2l.4-.6l.4 2.3l.4 .4l.4 0l.4 .6l.4 2.7l.4-1.7l.4 .1l.4 .2l.4 3.7l.4-3.7l.4 0l.4-.8l.4-.3l.4-.1l.4 1.3l.4 3.4l.4-2.4l.4 1.6l.4-.7l.4-2.8l.4 1.2l.4 1.6l.4 .6l.4-2.4l.4 4.5l.4-2.9l.4 1.6l.4 .7l.4-1.1l.4 2.3l.4 2.1l.4-2.8l.4-.4l.4-.6l.4-.7l.4-3.8l.4 3.1l.4-2.6l.4-1.3l.4 4.8l.4-.8l.4-2.6l.4 3.9l.4-1.1l.4 1.5l.4-1.6l.4-.3l.4 1.2l.4 .3l.4-1.2l.4 1.7l.4-3.2l.4 1.5l.4-.6l.4 1l.4-.6l.4-.9l.4 1.4l.4 1l.4 1l.4-3.7l.4-2.3l.4 4.1l.4-1.5l.4 3.9l.4-1.5l.4-1.1l.4 .5l.4-.4l.4 2.6l.4-2.6l.4 .7l.4-1.1l.4-1.1l.4 2l.4-.9l.4-1.5l.4 2.3l.4 2.8l.4 .6l.4-2.2l.4 2.2l.4-1.4l.4-1.3l.4 .8l.4-1.9l.4 2.7l.4-.9l.4 .5l.4-2.2l.4-1.1l.4 1.8l.4 1.2l.4-1.9l.4 .3l.4 .9l.4-5.6l.4 6.5l.4 2.7l.4-4.4l.4 8.3l.4-2.5l.4-2.4l.4-3.6l.4 1.3l.4-1.4l.4 .6l.4-.9l.4-1.6l.4 .1l.4 1.3l.4-1.5l.4 3.5l.4 2.1l.4-4.1l.4 1.7l.4 2.8l.4-3.5l.4 3.1l.4-2.2l.4 3.2l.4 .2l.4-.7l.4-5.1l.4 3.7l.4-2.9l.4-1.8l.4 2.9l.4-1.9l.4-.6l.4 2.9l.4 1.8l.4-1.1l.4 1.5l.4 1.3l.4-2l.4-2.1l.4-.8l.4 .9l.4 .5l.4-3.9l.4 5l.4 2.1l.4-3.2l.4-.2l.4-1.4l.4 3l.4-1.7l.4 4.9l.4-3.7l.4-.9l.4 .2l.4-1l.4-2.2l.4 3.6l.4 1.3l.4-5.2l.4 2.9l.4 .2l.4 1.4l.4-1.3l.4 2l.4-1.7l.4 1.2l.4-3.7l.4-1.5l.4-.6l.4 .8l.4 2.8l.4 0l.4 2.1l.4-4.3l.4 2l.4-.7l.4 2.1l.4 .1l.4-.9l.4-1.8l.4 2.9l.4-3.1l.4 2.2l.4 .1l.4-.2l.4-2.9l.4 5.5l.4-3.4l.4 1.1l.4-2.2l.4-.3l.4 1.2l.4 .4l.4 .5l.4-4.2l.4-2.5l.4 2.7l.4-.5l.4 1.3l.4 3.6l.4-1.1l.4-2.7l.4 .3l.4 .4l.4-.1l.4-.4l.4 .6l.4 2.1l.4-2l.4-2.1l.4 2.3l.4-.7l.4-.2l.4 2.8l.4-3.6l.4 1.4l.4-.1l.4 3.9l.4-5.4l.4 .5l.4 1.8l.4-1.8l.4-3.8l.4 4.6l.4-1.5l.4 3l.4 2.5l.4-1.4l.4-1l.4-2.3l.4 2.1l.4 1.6l.4-1.5l.4-3.9l.4 3.7l.4-3.2l.4 4.1l.4-2.3l.4 1.5l.4 .1l.4-1.3l.4 1l.4 3.7l.4-.9l.4-1.3l.4-2.1l.4-.2l.4 2.1l.4-2.5l.4-.5l.4 2.4l.4-1.3l.4-1l.4-1.9l.4 5.6l.4-.9l.4-2.6l.4 2.1l.4 .1l.4-1.9l.4 2.6l.4 .5l.4 1.6l.4-2.1l.4 .9l.4-.6l.4-.6l.4-1.7l.4 4.5l.4-3.3l.4 4.3l.4-3.5l.4-.4l.4-1l.4 2.8l.4 1.5l.4-2.6l.4-1.2l.4 1.2l.4 2l.4-3.6l.4 .4l.4-1.6l.4 1.5l.4-.1l.4 .8l.4 1.1l.4-.5l.4 2.4l.4-1.3l.4-3.8l.4 3.4l.4-3.8l.4 2.8l.4-1l.4 1.7l.4-1.3l.4-3.9l.4 3.5l.4-3.6l.4 3.9l.4 .3l.4-4.2l.4 5.8l.4-.8l.4-3.5l.4 2.7l.4-.9l.4-.1l.4-2.1l.4-2.4l.4 5.3l.4-2.1l.4 2.7l.4-3.1l.4 3.7l.4-1.1l.4-1.6l.4 .3l.4 2.1l.4-.4l.4-2.6l.4 .5l.4 1.3l.4-3.2l.4-1.4l.4 4.8l.4-3.4l.4 1.1l.4-3l.4 3.2l.4-1.4l.4-2.9l.4 2l.4-.5l.4-.2l.4-1.4l.4 3.4l.4-2.5l.4 2.2l.4-1.1l.4-2.9l.4 .7l.4-2.4l.4 1.6l.4 3.4l.4-2.7l.4-1.4l.4-3.4l.4 .2l.4-1.1l.4 1.1l.4-3l.4-1.5l.4 4.5l.4-.4l.4-2.1l.4-1.8l.4-.2l.4 .9l.4 4.1l.4-.4l.4-1.5l.4 .8l.4 .2l.4-2.5l.4 3.2l.4-5.6l.4-.3l.4-.1l.4 .2l.4-1.9l.4 2.1l.4 1.5l.4 1l.4-2l.4 2.6l.4-1.6l.4 .4l.4-3.4l.4 4.7l.4-2.1l.4 2.7l.4-.6l.4 2.8l.4 1l.4-2.9l.4 1.2l.4-3l.4 4.7l.4 .8l.4 2.8l.4-1.2l.4-1.3l.4-1.4l.4 3.7l.4-1.8l.4 .9l.4 .9l.4-1.6l.4 1.7l.4 2.1l.4-2.9l.4 2.8l.4 .5l.4-2.2l.4 1.9l.4-1.5l.4 .2l.4-.3l.4-1.9l.4-1.3l.4 2.6l.4-.9l.4 1.6l.4-3.2l.4 .7l.4 3.6l.4-1.4l.4 .2l.4 2.3l.4-1.5l.4 1.2l.4-2.6l.4-2.5l.4 2.9l.4 1.9l.4-.8l.4 1.2l.4-1.5l.4 1.6l.4-3.2l.4 3.1l.4-6.2l.4 3.7l.4 .2l.4-2.5l.4 4.5l.4 1.5l.4-3.4l.4 2.3l.4-2.2l.4 0l.4-.8l.4-.3l.4 2l.4-6.5l.4 .9l.4 1.2l.4-.2l.4-.7l.4 3.2l.4-4.6l.4-.3l.4 2l.4-3.6l.4 4.1l.4-.2l.4-1.6l.4 3.2l.4 2.6l.4 .8l.4-.4l.4-2.6l.4 1.4l.4-.8l.4 5.8l.4-4.7l.4 1.3l.4-.2l.4-3.9l.4 3.8l.4 1.7l.4 1.1l.4 .4l.4 2.5l.4-3.1l.4-2.9l.4 1.9l.4-2.6l.4 .4l.4 7l.4-3.5l.4-1.8l.4 .1l.4-.7l.4-4.3l.4 4.7l.4-1.1l.4 .9l.4 1l.4-1.9l.4-3.2l.4 .2l.4 4.1l.4-2.1l.4-.6l.4-1l.4 2.6l.4 1.7l.4-.1l.4-3.1l.4-.8l.4 3.1l.4-8.5l.4 4.5l.4-.3l.4-1.3l.4 1.8l.4 2.2l.4-1.4l.4-3.4l.4 .2l.4 2.4l.4-.2l.4 0l.4-4.9l.4 .3l.4-2.8l.4-2.9l.4 3.5l.4-2.3l.4 2.3l.4-6.3l.4 .6l.4-1.2l.4-3.1l.4-.7l.4 3.3l.4-1.9l.4 2.3l.4-5.6l.4 2.4l.4-6.2l.4 5.9l.4-3.2l.4 2.6l.4 2.4l.4 .3l.4-2.5l.4 5.3l.4 .3l.4 .7l.4 3.6l.4-2.3l.4 3.1l.4 .4l.4-2.1l.4 2.8l.4 2.8l.4-.1l.4 .9l.4-1.4l.4 3.8l.4-.9l.4 .2l.4-1.9l.4 3.6l.4-1l.4-1.1l.4 4.1l.4-2.1l.4-.8l.4 3.4l.4-2.1l.4 .1l.4 4.6l.4-2.6l.4 .8l.4-.9l.4-3.5l.4 1.1l.4-.2l.4-.7l.4 .7l.4 1l.4-1l.4-.4l.4 1.3l.4 2l.4-1.1l.4 3.3l.4-4.4l.4-.2l.4-.7l.4 3l.4 0l.4 1.2l.4 .4l.4-4.9l.4 3.1l.4 1.3l.4-3.1l.4 1.7l.4 1.2l.4-1.2l.4-.8l.4 .3l.4 2.4l.4-2.4l.4-.1l.4-1.2l.4 1.7l.4-4.4l.4 2.7l.4 4l.4-2.1l.4-.7l.4-2.9l.4 4.9l.4-3.8l.4 1.5l.4 3.4l.4-3.4l.4-.6l.4 1.6l.4 3.1l.4-3.8l.4 .4l.4 1.5l.4-.3l.4-2.6l.4 2.3l.4-2.6l.4-3.4l.4 4.2l.4 0l.4 1l.4 .8l.4 2.2l.4-3.2l.4 .1l.4 2.6l.4-3.8l.4-2.1l.4 1l.4-1l.4 4l.4 2l.4-2.5l.4 3.8l.4-3.4l.4 .8l.4 .2l.4-2.6l.4 1.2l.4 1.8l.4-3.4l.4 1.7l.4-2.4l.4 .2l.4 1.4l.4-1.2l.4 3.6l.4-.6l.4-2l.4-2.1l.4 5.2l.4-3l.4-1.8l.4 2.8l.4-.7l.4 4.2l.4-1.9l.4-2.1l.4 0l.4 2.5l.4-.7l.4-2.9l.4-1.1l.4 5.4l.4-2.8l.4 4.3l.4-5.2l.4-.1l.4 1.7l.4-3.2l.4-1.7l.4-.6l.4-4.3l.4 4l.4 5.1l.4 1.6l.4-2.7l.4 0l.4 3l.4 1.9l.4 1.9l.4-3.8l.4 0l.4 1.9l.4-.8l.4-.5l.4-1.5l.4 2.8l.4-.6l.4-2.3l.4 .5l.4-1l.4 2.5l.4 1.6l.4-1.1l.4-.2l.4-2l.4 1.2l.4-2.9l.4 1l.4 2.4l.4 1.8l.4-2.2l.4 1.6l.4-.3l.4-.7l.4-.8l.4 .9l.4 1.1l.4 2.6l.4-.5l.4-2.5l.4 .1l.4-.3l.4-3l.4 3l.4-.3l.4-2.5l.4 2.6l.4-.8l.4-2.6l.4-1.3l.4 .9l.4-.2l.4 5.8l.4-5.4l.4 .7l.4 1.2l.4-.2l.4-4.7l.4-1.7l.4 1.4l.4-2.4l.4-.1l.4 4.6l.4-2.7l.4 .3l.4-4.6l.4-.8l.4 .9l.4 1l.4-1.2l.4-.3l.4-2.2l.4 3.2l.4-5.9l.4 5.3l.4 .4l.4 1l.4 2l.4 2.6l.4 .4l.4 2.3l.4-3.4l.4 3.5l.4-.9l.4 1.7l.4-.3l.4 2.1l.4-1l.4 0l.4 0l.4 .8l.4-1.4l.4 3.7l.4 1.8l.4-3.3l.4 2.8l.4-2.5l.4 1.4l.4-2.8l.4 3.8l.4-1l.4 3.9l.4-1.5l.4-1.2l.4 .4l.4-1.9l.4-.8l.4 3.2l.4 .8l.4-1.5l.4-.4l.4-2.6l.4 2.3l.4-.5l.4 .6l.4 1.1l.4 .1l.4 0l.4 .5l.4 .2l.4-.9l.4-2.5l.4-4l.4 6.4l.4-2.8l.4 1.6l.4-.8l.4 2l.4-1l.4-1.2l.4 .1l.4 1l.4-2.9l.4 5.7l.4-3.5l.4-.3l.4-.7l.4 5.9l.4-5.1l.4 2.5l.4-1.5l.4 4.4l.4-3.3l.4-.4l.4-.2l.4 .8l.4 1.3l.4 .1l.4-1.5l.4-1.9l.4 .9l.4-2.5l.4-.4l.4 1.9l.4 1.6l.4 .9l.4 .1l.4-.4l.4 0l.4-.3l.4-.4l.4 1.4l.4-.8l.4-.6l.4 .6l.4-2.8l.4-.5l.4-.4l.4 5.4l.4-2.1l.4 .8l.4-3.6l.4 1.7l.4 4.6l.4-2.3l.4-1.8l.4 2.9l.4 1.6l.4-3.8l.4 1.1l.4-2.2l.4-.3l.4-2.5l.4-.8l.4 4.2l.4-1.7l.4-.4l.4 1.2l.4-.1l.4 1.3l.4 .8l.4 1.5l.4-2.3l.4 .6l.4 1.8l.4-3l.4 4.8l.4-3.3l.4 1.9l.4-1.9l.4 1.8l.4 2.3l.4-3.6l.4 .5l.4 .3l.4 2.4l.4-6.6l.4 1.6l.4 .2l.4 .2l.4 2l.4 0l.4-2.3l.4 3l.4-2l.4-2.6l.4 3.2l.4-.1l.4-.3l.4-.5l.4-.6l.4 .9l.4 1.6l.4-.6l.4-.4l.4-.4l.4-1.4l.4 1.9l.4-1.6l.4 .2l.4 1.7l.4-1.9l.4 1.6l.4 .6l.4 .1l.4-1.9l.4 1.8l.4-1.7l.4-4.6l.4 3.3l.4 .6l.4 0l.4 1.2l.4 2.5l.4-1.8l.4 0l.4 3.3l.4-4.2l.4 1.3l.4-1.7l.4-1l.4 2.1l.4 .2l.4-2.2l.4 5.1l.4-2.4l.4-.5l.4 .1l.4-.9l.4 .7l.4-1l.4 1.3l.4 2.3l.4-3.7l.4 1.7l.4-.8l.4-.2l.4-3.5l.4 3.2l.4 .8l.4-1.1l.4 .7l.4 1.1l.4-.6l.4 .1l.4-1.3l.4 .2l.4-2.2l.4 3.6l.4-1.3l.4 .4l.4 1.7l.4-1.3l.4 1.2l.4-3.5l.4-1.4l.4 1.7l.4-2.9l.4 .4l.4 .2l.4-1.2l.4-.6l.4 4.2l.4-1.6l.4 2l.4-2.5l.4 1.9l.4-4.3l.4 4.5l.4-.5l.4-4.7l.4 8.6l.4-1.3l.4-1.1l.4-.6l.4-1.4l.4 4l.4-.1l.4-3.5l.4 1.7l.4-.6l.4-.4l.4-2.1l.4 2.6l.4 1.1l.4-2.1l.4 1.5l.4-3.5l.4 3.6l.4 1l.4-.1l.4 .2l.4-1.3l.4-.9l.4 2.7l.4-1.6l.4 0l.4 2.9l.4-4.2l.4 1.4l.4-.6l.4-.8l.4 .7l.4-1.8l.4 5.6l.4-5.2l.4 1.1l.4-.6l.4 3.5l.4-.9l.4 .9l.4-2.5l.4 1.2l.4 3.8l.4-3.3l.4-.1l.4-1.4l.4 3.2l.4-3.7l.4 2l.4-.4l.4 0l.4-2.2l.4 2.5l.4-.7l.4 1.8l.4-2.1l.4 2.9l.4-1.3l.4-.4l.4 1.1l.4-.4l.4 .7l.4-3.3l.4-.2l.4-1.1l.4 1.2l.4-1.7l.4 1.3l.4 .4l.4-1.5l.4 3.4l.4-2.7l.4 1l.4 0l.4 1.9l.4 2.4l.4-1l.4-.9l.4-3l.4 1.7l.4-.3l.4-1.3l.4 1.8l.4 1.8l.4 .6l.4-.7l.4 .1l.4-4.3l.4 2.3l.4-3.9l.4 1.2l.4 .6l.4-.8l.4 .8l.4 1.3l.4 1.7l.4 0l.4 .7l.4 .7l.4-2.8l.4 1.9l.4-2l.4 .2l.4-1.5l.4-1.1l.4 2.6l.4-.9l.4 .5l.4 .7l.4 .2l.4 1.1l.4-.4l.4 .5l.4 0l.4 .1l.4 .2l.4-1.1l.4 3.1l.4-3.3l.4 .6l.4-4.2l.4 5.4l.4-2.4l.4 1.5l.4 1.2l.4 .2l.4-2.2l.4 .8l.4 .6l.4-1.8l.4 3.4l.4-1.2l.4-3.1l.4 1.7l.4-1.5l.4 1.5l.4 1.5l.4-1.3l.4-.6l.4-2l.4-1.1l.4 1.8l.4 1.2l.4 1l.4-2.8l.4-3.7l.4 3.2l.4 1.4l.4 1.2l.4 0l.4 2.9l.4-2.7l.4-2.8l.4 1.7l.4 .8l.4-3.3l.4 .9l.4 2.3l.4-1.1l.4 1.1l.4 2.4l.4-5.8l.4 2.8l.4 2l.4-4.2l.4-.5l.4-.1l.4 3.5l.4-2.5l.4 4.2l.4-.4l.4 .3l.4 .8l.4-1.6l.4 .9l.4-2.1l.4 .4l.4-.5l.4 2.7l.4-3.7l.4 .4l.4-1.2l.4 .3l.4 2.5l.4-.6l.4 1.5l.4-2.8l.4-.3l.4-.1l.4-2l.4 .7l.4 1.2l.4 .4l.4 .6l.4-.1l.4 1.7l.4-2.2l.4 2.8l.4-4.8l.4 2.9l.4-.6l.4 .9l.4 .8l.4-1.9l.4 2.6l.4-3.3l.4-1.4l.4 .9l.4 .6l.4 .8l.4-1.1l.4-4.8l.4 3.3l.4 .6l.4 4.6l.4-2.8l.4-1l.4-.9l.4 .9l.4 .8l.4 .4l.4-.5l.4 1.3l.4-.5l.4-.7l.4-.7l.4 .4l.4-.5l.4-.8l.4-.8l.4-3.1l.4 3.6l.4-.1l.4 1.9l.4-.6l.4-2.3l.4 .3l.4-.8l.4 .9l.4 .8l.4 4.1l.4-4l.4-2.3l.4 .8l.4 2.3l.4 1.1l.4-3.3l.4 1.2l.4-.6l.4 1.4l.4-.8l.4 .6l.4-.6l.4 .7l.4 2.6l.4-1.3l.4-.9l.4-2.3l.4 .3l.4 2.3l.4-3.4l.4 4.7l.4-3.9l.4 1.9l.4-3.9l.4 3.3l.4-.6l.4-.6l.4 3.1l.4-4.7l.4 .9l.4-1.1l.4 1.8l.4-.3l.4-1.3l.4 0l.4-.7l.4 1.4l.4 3.5l.4-3.7l.4 .9l.4-.1l.4-2.6l.4 5.3l.4-3.4l.4 2.2l.4 1.6l.4-.7l.4 1l.4-.5l.4-3.4l.4 3.6l.4-1l.4 .1l.4 1.3l.4-1.5l.4 .2l.4 2.3l.4-1.9l.4-3.2l.4-.7l.4 .9l.4-3.1l.4 4.8l.4-.2l.4-.6l.4 1.7l.4-1.4l.4-.7l.4 2.9l.4-.1l.4-1.4l.4-1l.4 .8l.4-1.5l.4 1.6l.4 4l.4-.7l.4-4.5l.4 1.4l.4-.5l.4-2.2l.4 3.9l.4-3.7l.4 1.6l.4 2.4l.4-3.2l.4 .6l.4-1.6l.4 2.6l.4 2.4l.4-1l.4-2.4l.4 .4l.4 .6l.4-2.2l.4 3.7l.4-4l.4 1.5l.4 .3l.4 1.2l.4 1.3l.4-1.5l.4-.7l.4-4.7l.4 2.6l.4-.1l.4 .4l.4 1.7l.4-1.6l.4 .5l.4 .3l.4 .9l.4 .7l.4-.2l.4-2.6l.4 .4l.4 .8l.4 .1l.4-3.6l.4 2.6l.4 .1l.4-1.3l.4 2.4l.4-1.1l.4-4.9l.4 4.6l.4 0l.4-1.1l.4 3.8l.4-3.7l.4-.8l.4 .2l.4 4.6l.4-2.7l.4 1.5l.4-.6l.4-2.2l.4 .5l.4-3.1l.4 2.7l.4 1l.4-2.3l.4 1.9l.4-3.4l.4 2l.4-2.9l.4 3.2l.4-1.4l.4-.5l.4 1.8l.4 1.6l.4-2.1l.4 2.1l.4-.9l.4-.2l.4-.7l.4 1.5l.4-3.5l.4 3.4l.4-5.3l.4 .8l.4 1.1l.4 3.5l.4-3.1l.4-.5l.4 .8l.4-4l.4 5.2l.4-3.1l.4 1.7l.4 1.7l.4 .4l.4 .2l.4-4.5l.4 2l.4 1.5l.4 .6l.4-1l.4-.8l.4 4l.4 2.1l.4-5.3l.4-1.1l.4 1.6l.4-.3l.4-4.6l.4 4.8l.4 2.3l.4-2.6l.4 3l.4-2.2l.4 .9l.4 2l.4-2.9l.4 1.1l.4-1.9l.4 2.3l.4 2.7l.4 .8l.4-3.8l.4 1.6l.4 0l.4-2.9l.4 2.4l.4-1.1l.4 1.8l.4 0l.4-.9l.4 .2l.4-1.3l.4-1.2l.4 6.4l.4-1.5l.4 1.7l.4-4.8l.4 3.4l.4 .9l.4 .1l.4-.4l.4 .9l.4-2.5l.4 1.5l.4-.2l.4-1.8l.4 4l.4-3.9l.4-1.1l.4 1.8l.4 .8l.4 .5l.4-2l.4-.1l.4 1.6l.4-2.6l.4 2.9l.4 2.3l.4-1.6l.4 1.3l.4-2.6l.4 .7l.4-2.2l.4-.3l.4 2l.4-3.7l.4 2.6l.4 .1l.4 2.7l.4 .8l.4 .1l.4 2.8l.4-4.4l.4 .8l.4-2.2l.4 1.6l.4-2.6l.4-.4l.4-.4l.4 1.1l.4 1.7l.4-1.2l.4 2.4l.4 0l.4-1.2l.4 2.1l.4-1.3l.4-.4l.4 1.1l.4 1.8l.4-1.5l.4-2.3l.4 .2l.4-.4l.4 2.7l.4-3l.4-.6l.4 .1l.4 4.1l.4-1.8l.4 .5l.4 3.7l.4-4.5l.4 3.8l.4-3.5l.4 1l.4-.1l.4-2.8l.4 .9l.4 1.6l.4-1.3l.4-2.1l.4 4.1l.4-4.4l.4 1.4l.4 3.2l.4-1.6l.4-1.8l.4 2.3l.4-.4l.4 .2l.4-1.7l.4-.4l.4 3.8l.4-2.4l.4 .6l.4 1.9l.4-2.9l.4 2.7l.4-3.4l.4 1l.4-1.1l.4 1.9l.4-1.6l.4 2.7l.4 1.4l.4-2.6l.4 1.1l.4-.6l.4-1.3l.4 3.5l.4 0l.4-3.6l.4 3l.4-1.3l.4-.5l.4 2.5l.4-3.6l.4 1.2l.4-2.3l.4 .7l.4 .8l.4-1.2l.4 .7l.4 2.5l.4-.7l.4 .2l.4 2.6l.4-3.5l.4 .5l.4 2.4l.4-2l.4 1.3l.4-1.6l.4 1l.4-1l.4-2.9l.4 2.2l.4 0l.4 2.7l.4-1l.4-1.4l.4-.3l.4 0l.4 .5l.4-1.7l.4 3.1l.4-1.1l.4-3.6l.4 3.8l.4 0l.4-.6l.4 .2l.4 1.4l.4-1.9l.4 1.6l.4-3.8l.4 1.6l.4-2.7l.4 3l.4-.9l.4 1.8l.4-2.1l.4 3.9l.4-1.2l.4 1.3l.4 .8l.4-3.7l.4-1l.4 .9l.4-.6l.4 1.3l.4 .9l.4-1.5l.4 5.3l.4-1.6l.4-2l.4 .5l.4-.6l.4-.9l.4 1.7l.4-3.3l.4-1l.4 5.1l.4-2.1l.4 1.6l.4 2.4l.4-4.1l.4-.3l.4 1.4l.4-3l.4 1.5l.4-.1l.4-.9l.4-.2l.4 2.5l.4 .4l.4-1.2l.4 3.7l.4-2.7l.4-.8l.4-.5l.4-1.6l.4 3.1l.4-1.4l.4 1.9l.4-2.3l.4-.7l.4 3.9l.4-1.6l.4 .6l.4-1.1l.4 1.3l.4-.1l.4-1.8l.4 .3l.4-1.9l.4 1.1l.4-2.2l.4 2.8l.4 .1l.4 1.5l.4-2.4l.4 2.8l.4-1.2l.4 .1l.4-3.4l.4 6.5l.4-2.1l.4-.5l.4 .7l.4-2.3l.4 .7l.4 .3l.4-4.5l.4 5.3l.4 1.1l.4-4.8l.4 2.3l.4-2l.4 1.6l.4-1.9l.4 2l.4-1l.4 .7l.4-.9l.4-.8l.4-.6l.4 .7l.4 2.1l.4-2l.4 2.8l.4-.7l.4 .7l.4 1.4l.4 2.3l.4-1.7l.4-2l.4-2.2l.4 1.3l.4-.1l.4-2.8l.4-.6l.4 1.7l.4 2.2l.4-1.5l.4 1.5l.4 2.3l.4-2.2l.4 1.4l.4 .5l.4 .3l.4-2.2l.4 3.3l.4-4l.4 1.4l.4 3.7l.4-3.5l.4 .4l.4-1.5l.4 2.5l.4-1.5l.4-3.6l.4 .1l.4 1.9l.4 .2l.4-1l.4-.8l.4 4.7l.4 0l.4-2.2l.4-.3l.4-2.2l.4 3l.4-1.1l.4 1.5l.4-1.3l.4 3.7l.4-.4l.4-4.1l.4 .3l.4 .9l.4 .5l.4-2.5l.4-.4" fill="none" stroke="#ff0000" stroke-width="1.35" stroke-linejoin="round"/>
<path d="M231.7 724.5l.4-.6l.4-.6l.4-1l.4 .7l.4-.1l.4 .4l.4-.4l.4 .2l.4-.5l.4-.2l.4 1l.4 0l.4 .9l.4-.6l.4-.5l.4 .2l.4-.5l.4 .5l.4-1.2l.4-.8l.4 .7l.4 1.1l.4-.3l.4 .1l.4 .2l.4 .9l.4 .2l.4-.1l.4 .9l.4 .1l.4 0l.4-2.2l.4-.6l.4 0l.4-.4l.4 .3l.4 .1l.4 1.4l.4-.4l.4-.1l.4 .9l.4-.5l.4-1.7l.4 .2l.4 0l.4 .3l.4 1l.4-1.5l.4 1.6l.4-.2l.4-.1l.4 .3l.4-1.7l.4 .7l.4-1.5l.4 1.5l.4-.5l.4 .6l.4-.1l.4 1.5l.4 .3l.4-1.2l.4 .6l.4-1.9l.4 .5l.4 .3l.4-1l.4 .7l.4 1.3l.4-1.7l.4 2l.4 0l.4 .6l.4-.6l.4 .1l.4 .2l.4-.5l.4-1.5l.4 .6l.4-1.9l.4 .5l.4 1l.4-.3l.4 .7l.4 1l.4-.8l.4-.4l.4-.9l.4 .2l.4 .1l.4-.1l.4 0l.4 .9l.4-.8l.4 .9l.4 .3l.4-.3l.4 1.1l.4 .6l.4-.6l.4-1.5l.4-.2l.4 .5l.4 .1l.4-.5l.4-.1l.4-.3l.4 .3l.4-.1l.4-1l.4 .3l.4 0l.4 .2l.4 0l.4 .5l.4-.2l.4-.8l.4-1.4l.4 1.1l.4-.7l.4 1.1l.4 0l.4-.3l.4 1.1l.4-.3l.4-.4l.4-.1l.4 .2l.4 .7l.4 .2l.4 1.3l.4-.7l.4-1l.4 1.2l.4-.5l.4-.3l.4 .9l.4-1.3l.4-1l.4 .2l.4 .7l.4 .4l.4 .4l.4-.7l.4 .7l.4 0l.4 .2l.4 .2l.4-1l.4-1l.4 .4l.4-1.5l.4 2l.4 0l.4 .9l.4-.7l.4-.2l.4-.6l.4 .5l.4-.8l.4 .3l.4-.1l.4-1.4l.4 1.8l.4-1.6l.4-.7l.4 2.7l.4-1.9l.4 1.4l.4 0l.4-.2l.4 1.1l.4-.1l.4 .4l.4-1.7l.4-.3l.4 .2l.4 .8l.4 0l.4 .5l.4 .2l.4-.1l.4-.3l.4-1l.4 0l.4-1l.4 .9l.4-.3l.4-.4l.4 .7l.4-1.7l.4 1.2l.4-.7l.4 .2l.4 0l.4 1.7l.4 .1l.4-1.8l.4-.3l.4 .4l.4-.2l.4 .4l.4 .1l.4 .5l.4 1.2l.4-.4l.4-.8l.4-.4l.4-1.3l.4-.3l.4 1.4l.4-1.1l.4 2.3l.4-1.3l.4-.1l.4-.6l.4-1.4l.4-.4l.4-.1l.4 .3l.4-.2l.4 .4l.4 1.1l.4-1.2l.4 .9l.4-3.1l.4 1.2l.4 .1l.4 .2l.4 .5l.4 .4l.4-.6l.4 0l.4 1.3l.4-1.3l.4-.3l.4-.6l.4 .7l.4-1.5l.4 1.3l.4 2l.4-1l.4-.9l.4 .6l.4-.4l.4-1l.4 1.9l.4-.7l.4-.2l.4 .6l.4-2.6l.4 1.1l.4 .1l.4-.3l.4 .2l.4-1l.4 .2l.4 1.8l.4-.9l.4 .3l.4 .3l.4-.6l.4 .5l.4-1.8l.4 .9l.4-2.2l.4 .7l.4 .6l.4-.9l.4 1.1l.4-1.1l.4 .3l.4-.5l.4 .7l.4-.1l.4 1.2l.4-1.3l.4 1l.4-1l.4 .6l.4-.7l.4-.2l.4-1.6l.4 2l.4 .6l.4-1.9l.4 2.4l.4-.7l.4 .2l.4 .7l.4-4.1l.4 .8l.4 .4l.4-.7l.4-1l.4 1.1l.4-2.2l.4 2.1l.4 0l.4-1.2l.4 1.3l.4 .5l.4 2.6l.4-1.7l.4-1.7l.4 .2l.4-.6l.4-.4l.4 3l.4-.9l.4-.2l.4-1.3l.4-.7l.4 .7l.4-1.6l.4 2l.4-1.8l.4 .9l.4-.6l.4 3.2l.4-1.1l.4 0l.4-.2l.4-2.2l.4-.5l.4 2.9l.4 .7l.4-.7l.4 .3l.4 .3l.4-1.2l.4 1.4l.4 1.2l.4-2.3l.4-1.8l.4 2l.4 .7l.4 .6l.4-.3l.4 .3l.4-1.9l.4 2.1l.4 .9l.4-.9l.4-1.9l.4 1.5l.4-1.9l.4 2.9l.4-1.1l.4-.7l.4 .2l.4 .1l.4 .2l.4-1.2l.4 .8l.4-1.9l.4 .9l.4 1.5l.4-.4l.4-.4l.4 1l.4-1.8l.4 1.1l.4 .5l.4-.7l.4-.3l.4-1.5l.4 1.3l.4-.4l.4 .8l.4-.4l.4 1.4l.4-2.2l.4 2.3l.4-.4l.4 1.2l.4-.2l.4-1.3l.4-.9l.4-.4l.4 1.5l.4-2.2l.4 2.1l.4-.5l.4-.3l.4 1l.4 1l.4-.8l.4 .6l.4 .5l.4-.3l.4-1.9l.4 1.9l.4 0l.4 1.4l.4 .4l.4-2.2l.4-.7l.4-1.2l.4 .6l.4 1.3l.4-.4l.4-2l.4 .7l.4 1.2l.4 2.2l.4-.7l.4 .5l.4 0l.4-.2l.4-.2l.4-.4l.4-.9l.4 .5l.4-1l.4-.9l.4 .9l.4-1.1l.4 1.3l.4 1.9l.4-1l.4-2.1l.4 1.1l.4-.9l.4-.1l.4 0l.4 1.8l.4 .9l.4-2.2l.4 1.7l.4-1.6l.4-1.5l.4 .7l.4 .3l.4 1.3l.4-1.8l.4 1.3l.4 2.3l.4 .6l.4-.2l.4-2.2l.4 2.3l.4-1.9l.4-1.8l.4 1.6l.4-2.3l.4 1.2l.4 .3l.4 1.3l.4-1.7l.4 .5l.4-1l.4-.2l.4-.8l.4 .9l.4-.5l.4 .1l.4 .8l.4-1l.4 .6l.4 1.8l.4-2.2l.4 .8l.4 .2l.4 1l.4 3.4l.4-1.4l.4-1.7l.4 .1l.4-1.9l.4 1.6l.4 .9l.4 .9l.4 .4l.4-1l.4-1.7l.4-1.4l.4-1.4l.4 1.6l.4-1.1l.4 1.6l.4 .5l.4 1l.4-.1l.4-1.3l.4 3l.4-.9l.4-1.7l.4 1.7l.4 .9l.4-1.8l.4 2l.4-2.2l.4-1.3l.4 2.3l.4-.7l.4-1.7l.4 1.6l.4-2.5l.4 2.6l.4-1.5l.4 .9l.4-2.4l.4 .1l.4 .1l.4-1.6l.4 2.2l.4-.4l.4-2l.4 .3l.4-1.2l.4 .7l.4 3.5l.4-.5l.4 3l.4-.1l.4-1.6l.4-.7l.4 1.7l.4 2.1l.4 0l.4-.1l.4 2l.4-3.3l.4 1l.4 1.9l.4 2.4l.4-1.8l.4-1.6l.4 .1l.4-.4l.4 .9l.4-.8l.4 .5l.4 .4l.4 .7l.4 .8l.4 .9l.4-2.8l.4-.5l.4 1.3l.4 .1l.4 1l.4-.8l.4-.8l.4-.2l.4-.8l.4-.4l.4-1.2l.4 1.1l.4-.9l.4-1.8l.4 3l.4-.8l.4-.9l.4 0l.4-1.5l.4-.5l.4 3.4l.4-4.9l.4 2.2l.4 .5l.4-2.9l.4-2.1l.4-.1l.4-3.8l.4 1.6l.4 .9l.4-3.8l.4 1.5l.4 .3l.4 2.4l.4 2.8l.4-.4l.4-.4l.4 .7l.4 2.4l.4 1.5l.4-.2l.4 2.5l.4 .7l.4 1.1l.4-.2l.4 .6l.4-1.8l.4 .3l.4-.4l.4 2.4l.4 .6l.4-2.1l.4 .1l.4-.2l.4-1.9l.4 2.2l.4-1.8l.4 2.3l.4 .1l.4-.1l.4-1.5l.4 2.8l.4-1.4l.4 .8l.4 .4l.4-2.1l.4 1.3l.4-.4l.4-1.2l.4-.5l.4 .2l.4 1.5l.4 .2l.4-.3l.4-1.9l.4 1.7l.4 .3l.4-1l.4 1.8l.4 .6l.4 .5l.4-1.3l.4-.8l.4 .2l.4 0l.4 .9l.4-.3l.4-1.7l.4 .8l.4-1.2l.4 1.7l.4-2.5l.4 .7l.4-.9l.4 .6l.4-.4l.4 2.1l.4-1.5l.4-.1l.4 .4l.4 1l.4 2.1l.4 0l.4-2.7l.4-.7l.4 .2l.4 .4l.4-1.4l.4 1.6l.4 .6l.4-3.3l.4 1.7l.4 .3l.4 .5l.4-1.1l.4 1.1l.4-1.9l.4-3l.4 1.1l.4-2.8l.4 .9l.4-2.8l.4 2.5l.4-1.3l.4 2.5l.4 .1l.4-.2l.4 1l.4 1.8l.4-2.4l.4 3.2l.4 .2l.4 .6l.4 2.5l.4 1.4l.4-2.6l.4 1.3l.4-2.3l.4 1.1l.4-2.7l.4 3.2l.4-2.6l.4-1.4l.4 1l.4 .8l.4 1.4l.4 .1l.4 1.3l.4-1.7l.4-.8l.4-1.3l.4 2.1l.4 1.1l.4-1.1l.4-2.5l.4 .1l.4 3l.4-.6l.4 .6l.4 1.5l.4 1l.4-2.3l.4 .1l.4-2l.4 1.4l.4 .8l.4-1l.4 .3l.4 0l.4 .8l.4-.1l.4 1.2l.4 .2l.4-1.1l.4-1l.4-.3l.4-.5l.4 .4l.4 .8l.4 .7l.4-.2l.4 1.6l.4-2.1l.4-2.4l.4 1.8l.4 .2l.4 .9l.4-1.2l.4 2.2l.4-2.7l.4 1.2l.4 .3l.4-.5l.4 .1l.4-.9l.4 2.1l.4-.3l.4-.1l.4 .2l.4-1.7l.4 1.6l.4-.1l.4 3.3l.4-.8l.4-2.9l.4 1.1l.4 2l.4-2.8l.4 .7l.4-1.1l.4-1.2l.4 2.1l.4 .4l.4-1.9l.4 1.5l.4-2.2l.4-.2l.4 .6l.4-.3l.4-.7l.4 2.3l.4-1.5l.4 1.8l.4-1l.4 1l.4 .3l.4-1l.4-1l.4 1.1l.4-.2l.4-2.9l.4 1l.4 1.3l.4 .4l.4 .9l.4-.3l.4-.7l.4-.4l.4-.9l.4 0l.4 1.3l.4-.7l.4 3.9l.4-2.5l.4-.4l.4-.4l.4-2.4l.4-.8l.4 .8l.4-.1l.4 2l.4-1.2l.4 .3l.4 2l.4-2.9l.4 2.1l.4 .8l.4-2.5l.4 .5l.4-1.1l.4 2.4l.4-1l.4 1.1l.4 .6l.4-1.1l.4 2.1l.4-1.3l.4 .6l.4-1l.4-.6l.4 .1l.4 2.4l.4-1l.4 .3l.4 .8l.4-.8l.4 0l.4 .1l.4 .3l.4 0l.4 .2l.4 1.2l.4 .7l.4-3.4l.4 .3l.4 2.1l.4-.9l.4-1l.4 1.1l.4-2.3l.4 1.5l.4 .4l.4 .8l.4 .5l.4 .9l.4-1.4l.4-2.1l.4 .4l.4-1.7l.4-2l.4 4.4l.4 .4l.4 1l.4-1.5l.4-.3l.4-.8l.4 .9l.4 .6l.4 .7l.4-.6l.4 2.1l.4-3.3l.4-.1l.4-.5l.4 .8l.4-1.5l.4-.2l.4-.1l.4 .4l.4 .3l.4 2.3l.4 .4l.4 .6l.4-2l.4 2.3l.4-3.6l.4-.4l.4 1.4l.4 1.4l.4 .9l.4-2.9l.4 1.9l.4 .2l.4-3.6l.4-.4l.4-1.7l.4 1.5l.4 .7l.4-.2l.4-.5l.4 1.4l.4-1.7l.4 1.2l.4-1.3l.4-1.5l.4 1.2l.4-.9l.4 .6l.4 2.8l.4-.8l.4-1.2l.4 1.3l.4 1.5l.4-1.1l.4 1.5l.4 .5l.4 .4l.4 .7l.4-1.2l.4-1.8l.4 2.3l.4-.9l.4-.2l.4-.9l.4 .9l.4 .2l.4 .3l.4-1.5l.4 .7l.4 .6l.4 .4l.4 1l.4-2.6l.4-1.3l.4 2.3l.4 .6l.4-.5l.4 .1l.4-.4l.4-2.3l.4 1.5l.4 0l.4 .6l.4 .1l.4-.4l.4-.1l.4 .3l.4-2.3l.4 2.2l.4-2.2l.4 1.5l.4 1.9l.4 1.7l.4-2.9l.4-.5l.4-2l.4 3.3l.4-2.8l.4 2.2l.4-3.3l.4 1.3l.4 .6l.4-.3l.4-.4l.4-.4l.4 .3l.4 1.3l.4 .2l.4-.4l.4 .2l.4-1.9l.4 1.3l.4-.5l.4-2.5l.4 .6l.4-.4l.4-1.4l.4 2.2l.4-.8l.4-2.3l.4-1.1l.4-.8l.4-4.7l.4-.9l.4-2.4l.4-3.6l.4-2.2l.4-5.5l.4-6.9l.4-5.2l.4-5.2l.4-5.3l.4-6.9l.4-7.7l.4-5.1l.4-3l.4-4.1l.4-.3l.4 1.8l.4 4.8l.4 2.4l.4 3.5l.4 1.8l.4 1.8l.4 3.5l.4-2l.4 5l.4-2.8l.4-.2l.4 3.8l.4 .9l.4 7.4l.4 5.6l.4 3.9l.4 5.8l.4 5.1l.4 2.5l.4 4.1l.4 3.6l.4 4.4l.4-.5l.4 1.5l.4 1.6l.4-2.2l.4 3.2l.4-1.8l.4 .3l.4 1.9l.4-.7l.4 2.3l.4-.9l.4 .6l.4-1.7l.4-.7l.4-.1l.4 2.1l.4 .7l.4-.5l.4 .1l.4-1.2l.4 0l.4-3l.4 1.6l.4-5.1l.4-1.2l.4-3l.4-2.8l.4-3.1l.4-6.3l.4-5.7l.4-6.4l.4-4.6l.4-2.9l.4-1l.4 1.7l.4 1.9l.4 2.6l.4 8.8l.4 7.1l.4 2.5l.4 4.4l.4 2.2l.4 5.3l.4 .5l.4 4.8l.4-2.6l.4 1.9l.4 2.8l.4-1.1l.4-.2l.4 1.9l.4-1l.4 .8l.4 1.7l.4 .3l.4-.3l.4 1l.4-2.8l.4-.4l.4-.3l.4 1.8l.4-.8l.4 2.2l.4-3.2l.4 1l.4-.7l.4 3.1l.4-.8l.4-.9l.4-.2l.4 1.4l.4-1.5l.4-.3l.4-.1l.4-.3l.4 2.6l.4 1.6l.4-4.7l.4 1.5l.4-3l.4 1.5l.4-1.6l.4-1.7l.4-.3l.4 .9l.4 .3l.4 .7l.4-4l.4 1.3l.4-1.9l.4-1l.4-2.6l.4-2.3l.4-2.9l.4-1.3l.4-6.7l.4-5.3l.4-4.9l.4-10.3l.4-7.2l.4-11.7l.4-13.1l.4-12.7l.4-14.4l.4-12.5l.4-6.7l.4-4.5l.4 .3l.4 6.3l.4 8.1l.4 13.7l.4 6.9l.4 11.1l.4 7.8l.4 3.7l.4 2l.4-2.3l.4-3.8l.4-5.7l.4-8.5l.4-8.6l.4-5.9l.4-10.4l.4-4.8l.4-1.4l.4 2.4l.4 5l.4 4.7l.4 7.5l.4 3.7l.4 3.4l.4 2.6l.4 4.3l.4 2.7l.4 5.6l.4 4.5l.4 5.9l.4 4.5l.4 2.1l.4 .5l.4-2.6l.4-4.5l.4-3.6l.4-5.3l.4-1.7l.4 1l.4 4.7l.4 5.7l.4 11.3l.4 10.5l.4 10l.4 7l.4 4.7l.4 4l.4 5l.4 0l.4 2.1l.4 .5l.4-.1l.4 3.1l.4 0l.4 2l.4-2.1l.4 .5l.4 .4l.4-1l.4 2l.4-3.2l.4-3.3l.4 .4l.4-4.2l.4-.9l.4-4.8l.4-2.3l.4-1l.4 1.6l.4 3.2l.4 .3l.4 1.2l.4 2.4l.4 3.5l.4 .3l.4 .8l.4-.4l.4 2l.4-1.3l.4-1.1l.4-.2l.4 0l.4-2l.4-1.6l.4-2l.4-6.1l.4-2.7l.4-2.7l.4-4.9l.4-8.6l.4-8.3l.4-10.6l.4-10.9l.4-12.6l.4-12.4l.4-13.2l.4-15.1l.4-13.2l.4-11.8l.4-8.3l.4-2.8l.4 2.8l.4 6.2l.4 9.8l.4 11.7l.4 12.4l.4 15.5l.4 13.1l.4 13.1l.4 11.9l.4 10.9l.4 6.3l.4 10.4l.4 5.8l.4 6.2l.4 5.8l.4 1.5l.4 2.8l.4 2.6l.4 1.8l.4 1.1l.4 1.3l.4-.2l.4 1.5l.4 1.2l.4 1.2l.4 .6l.4 1.9l.4-2.5l.4 1.7l.4-.7l.4-1.4l.4 1.9l.4-.9l.4 1.1l.4 .6l.4 1.7l.4-.6l.4-1.8l.4 1.8l.4 1.9l.4-1l.4 1.2l.4-3.6l.4 .8l.4-1.5l.4 1.5l.4 2l.4-1.4l.4 2.3l.4 .2l.4 .2l.4-1.7l.4-.1l.4 1.6l.4-2.2l.4 1.9l.4 .6l.4 .1l.4 1.3l.4-4.1l.4 1.6l.4-1.8l.4-.2l.4 .6l.4 .4l.4-2.6l.4 .8l.4-3.5l.4 1.5l.4-1.8l.4-3.7l.4-1.3l.4-.4l.4-.6l.4 2.4l.4 .5l.4-2.5l.4-2.2l.4-1.2l.4 2.4l.4 .7l.4 2.2l.4 .2l.4 3.1l.4-4.9l.4 2.3l.4 1.5l.4-2.2l.4-.7l.4 1.5l.4-3.7l.4 .1l.4 1.4l.4 1.5l.4 1l.4 .9l.4 2.9l.4-.2l.4 .4l.4 .7l.4 1.8l.4-2.9l.4-1.7l.4 .1l.4-2.4l.4-2.5l.4-3.1l.4-3.1l.4-1.4l.4 .2l.4-1.9l.4 2.2l.4 4.9l.4 .7l.4 4.5l.4 1l.4 .6l.4 3.5l.4 3l.4 1.5l.4 .3l.4-.2l.4 .6l.4 .3l.4 .1l.4 1.6l.4-1l.4-1.3l.4-1.1l.4 .3l.4 2.5l.4-1.3l.4 1.1l.4-.1l.4 1.6l.4 1.5l.4-3.2l.4 2.7l.4-1.3l.4 1.1l.4 .7l.4-.9l.4 1l.4-.2l.4-4l.4 .7l.4 0l.4 .4l.4-2.7l.4-1.6l.4-.5l.4-2l.4-4.6l.4-1.3l.4-4.6l.4-3.6l.4-3.4l.4-2.9l.4-.7l.4 1.7l.4 3.3l.4 2.4l.4 2.7l.4 1.9l.4 3.7l.4-1l.4 3.2l.4 3l.4 0l.4 4.4l.4 .6l.4-.3l.4 1.6l.4-.7l.4 1.4l.4 .9l.4-1.5l.4 .9l.4-2.5l.4 .4l.4-1.5l.4 1.5l.4-.6l.4 1.5l.4 2.1l.4 1.3l.4 1.3l.4-.9l.4 .2l.4 .5l.4 1.2l.4-1.4l.4-1.2l.4-.1l.4 .8l.4 .3l.4-1.1l.4 .2l.4 .9l.4 .1l.4 .6l.4 1.9l.4 .1l.4 .3l.4 .3l.4-1.6l.4 1l.4-.1l.4-1.1l.4-2l.4 .5l.4 .7l.4 1.2l.4-1.2l.4 .6l.4-2.5l.4-.4l.4 .8l.4 .7l.4 1.4l.4 .2l.4-3.1l.4 2.1l.4 .6l.4-2.7l.4-2.1l.4 2.5l.4-2.7l.4 .7l.4 .4l.4-2.3l.4-.9l.4-1.8l.4-2.3l.4-.4l.4 1l.4 .3l.4 1.7l.4-1.8l.4-.9l.4 1.5l.4 .9l.4 2.6l.4 2l.4 .6l.4 0l.4-.9l.4 2.9l.4-.2l.4 3.9l.4-3.7l.4 .3l.4 1.1l.4-1.6l.4 1.2l.4-.6l.4 .1l.4 .7l.4-1l.4-.8l.4-.3l.4-.7l.4 .4l.4-2.7l.4 1.8l.4-2.6l.4-.3l.4-.5l.4-2.2l.4-3.3l.4-1.6l.4-.9l.4-4.4l.4 2.2l.4 0l.4 .4l.4 1.9l.4 2.4l.4 2.4l.4 1.5l.4 3.5l.4-1.8l.4 3.2l.4 .8l.4 2.8l.4 0l.4 1.6l.4-1.4l.4 1.1l.4-.1l.4-2.8l.4-.4l.4 1.1l.4-.7l.4 3.5l.4-.1l.4-2.3l.4 3.3l.4-1.4l.4-2.6l.4 2.6l.4 .1l.4-2.4l.4-1.1l.4 2.5l.4-1.5l.4 1.1l.4-.2l.4 0l.4-.1l.4-.6l.4 2.3l.4-2.2l.4 1.4l.4 .7l.4 .1l.4-1.9l.4 .6l.4 .7l.4-.5l.4 .8l.4 1.1l.4-1.6l.4-1.3l.4 2.8l.4-1.3l.4-1.4l.4 1.8l.4-1.2l.4 .6l.4-.8l.4-3.5l.4 3.2l.4 2.1l.4 0l.4-2.3l.4-1.3l.4 .5l.4-1.8l.4 .8l.4-.9l.4 2.3l.4 1.3l.4-.1l.4-1.4l.4 .2l.4-.5l.4 3.7l.4-1.9l.4 2.7l.4 1.8l.4-3.2l.4-.2l.4-.1l.4-1.1l.4-1.6l.4 1l.4 1.5l.4-.6l.4 .2l.4 .3l.4 1l.4-1.8l.4 3.3l.4 .2l.4-1.7l.4 .3l.4 1l.4-1l.4-.8l.4 1.3l.4-1.6l.4-.8l.4 1l.4-1.5l.4 1.4l.4-.1l.4-1.1l.4 1.6l.4-1.8l.4-.8l.4-.3l.4-.2l.4 1l.4 1.8l.4-2.9l.4 2.9l.4-1.2l.4 .3l.4-1.5l.4-.4l.4-.9l.4 .5l.4-2.9l.4 1.5l.4-.7l.4-1.9l.4 2.2l.4-1.6l.4 .3l.4-1.9l.4-.9l.4-.7l.4-2l.4 1.5l.4 .8l.4-2l.4 3.4l.4 1.2l.4 .5l.4-.5l.4 2.8l.4-.3l.4 .8l.4 1.7l.4-.9l.4-1l.4 1.7l.4-.8l.4 1.9l.4 2.4l.4-1.4l.4 1.4l.4-2.7l.4 2.1l.4 .1l.4-3.2l.4 1.9l.4-.2l.4-1.4l.4-1.5l.4-2.6l.4 2.2l.4-2.3l.4-.2l.4-.6l.4 .4l.4-2l.4 0l.4-1l.4-2.1l.4-.9l.4 0l.4-.5l.4 .8l.4-.5l.4 1l.4 3.6l.4-.8l.4-.6l.4 1.1l.4 1l.4-1.4l.4-.3l.4 3l.4 .5l.4-1.9l.4-2.5l.4-1.8l.4 2.3l.4-2l.4-1.7l.4-1.9l.4 .5l.4-1.7l.4 1.1l.4 1.9l.4 1l.4 1.6l.4 .5l.4-.1l.4 2.1l.4 2.7l.4 1.2l.4 3l.4 .9l.4-1.9l.4-2.3l.4-1.5l.4 3l.4-.1l.4 1.5l.4-.4l.4 0l.4 5.2l.4-2.8l.4-.6l.4-.8l.4 2.1l.4-1.1l.4 1.6l.4 .2l.4-.3l.4 1.2l.4-2.3l.4 1l.4-1.4l.4 0l.4-1.6l.4 2.4l.4-1.1l.4 .8l.4 1.9l.4-1.5l.4-.4l.4 .5l.4-.6l.4-.3l.4 .7l.4-1.2l.4 1.5l.4-2l.4-1.3l.4 2.2l.4-1.6l.4-.3l.4 1.1l.4 .8l.4-2.3l.4 .4l.4-.5l.4 0l.4-.2l.4 1.3l.4 2.3l.4-.9l.4 .1l.4-1.7l.4-1.6l.4-.7l.4-.3l.4 1.2l.4 2.4l.4 0l.4-1.2l.4 .7l.4-3.7l.4 4.3l.4 .6l.4-3.1l.4 1l.4-1.9l.4-.6l.4-2.2l.4-1.4l.4 1.3l.4-3l.4 0l.4-2.6l.4-1.7l.4 1.4l.4-.8l.4-2.8l.4-.6l.4-.8l.4-.8l.4-2.4l.4 1l.4-1.5l.4 2.6l.4 1l.4-.2l.4-1.9l.4 .8l.4 1l.4 2.8l.4-.4l.4 .4l.4-1.7l.4 1.3l.4 .2l.4-.5l.4 1l.4-1.3l.4 1.3l.4-2.9l.4 .1l.4-1.4l.4-1.6l.4-1.5l.4-1.8l.4-4l.4-1.3l.4-2.6l.4-.3l.4 1.8l.4-.3l.4 2.7l.4 1.4l.4-.2l.4 2.6l.4 .2l.4 1.7l.4 1.1l.4 1.7l.4 2.5l.4 1.7l.4-2.3l.4-.7l.4 .4l.4-2l.4 .2l.4 4.3l.4-2.5l.4 2.5l.4 2.6l.4 .5l.4 1.8l.4 2l.4 .1l.4 1.5l.4-1.2l.4 1.1l.4 .4l.4-1.7l.4 2.2l.4 2.7l.4-.5l.4 0l.4 .2l.4-1.4l.4 .7l.4 .9l.4-1.1l.4 2.6l.4 1.1l.4 .4l.4-2l.4 .3l.4-.5l.4-.4l.4 0l.4 2.3l.4-.2l.4 .9l.4-2.5l.4 .7l.4-2.5l.4 .3l.4 1l.4-.4l.4-.9l.4-.3l.4 .7l.4-1.4l.4-2.8l.4 .4l.4-1.5l.4-2.8l.4 1.2l.4-2.9l.4-1.7l.4-1.5l.4-2.7l.4-.3l.4-3l.4-.1l.4-.9l.4-.1l.4 1l.4 .2l.4-.1l.4 2.1l.4 .3l.4 2.7l.4 2.3l.4 .8l.4 1l.4 2.3l.4 1.9l.4 .5l.4 1.5l.4-1.1l.4-.3l.4 .3l.4-.4l.4 3.2l.4 .1l.4-.2l.4 .4l.4-3.1l.4 2.6l.4-3l.4 1.4l.4-2.1l.4-.8l.4 1.2l.4-2l.4 2.3l.4 .7l.4-1.4l.4-.2l.4 1.1l.4-.5l.4-.1l.4 1l.4-.1l.4 .3l.4 1.5l.4 1.9l.4 .9l.4 3.1l.4-2.2l.4 .1l.4 1.5l.4-2.7l.4-1.9l.4 2.7l.4-2.8l.4 2.4l.4-.8l.4-.5l.4-.3l.4-1.5l.4 0l.4 .2l.4-.3l.4-.8l.4 .8l.4-3.4l.4-.2l.4 1.7l.4-2.4l.4-.4l.4-3.8l.4-1.2l.4 0l.4 .2l.4 1l.4 .5l.4-4.2l.4-1.9l.4-2.5l.4-1.5l.4-.5l.4-1.4l.4-.4l.4 2l.4-2l.4-.8l.4 1.6l.4 1.7l.4 .2l.4 3.7l.4 .6l.4-.2l.4 .1l.4 2.5l.4-.3l.4 1.8l.4 1.5l.4 1.6l.4 2.7l.4 1.8l.4-2.2l.4 1.8l.4 2.8l.4 .6l.4 .4l.4-2.5l.4 1.9l.4-.9l.4 2.1l.4 .5l.4-.2l.4 .6l.4 .9l.4-1.5l.4 2.8l.4-2.8l.4 .5l.4 1.4l.4-2.5l.4 1.3l.4 .1l.4 .7l.4 .4l.4 .2l.4-1.7l.4 2.2l.4-1l.4 1l.4-1.8l.4 1.2l.4-1.9l.4 1.7l.4-1.7l.4 0l.4-2.4l.4 1l.4-.2l.4 .5l.4 1.4l.4-.7l.4-1.5l.4 .1l.4 .3l.4 1.7l.4-.7l.4-.6l.4 1.3l.4-.9l.4 2.3l.4-2.1l.4 3.5l.4-3.9l.4-.5l.4 1.3l.4-1.5l.4-.5l.4-.1l.4 .5l.4 1.8l.4-1.4l.4-.2l.4-.6l.4-.6l.4-1.7l.4 2.4l.4 1.2l.4-1.4l.4 .6l.4-.2l.4-.7l.4-1.6l.4 .7l.4 1.4l.4-1.5l.4 .7l.4-.3l.4 1.2l.4-.9l.4 .4l.4-.6l.4 .4l.4 .4l.4-1.9l.4-1l.4 .9l.4 .5l.4 2.2l.4 .3l.4-1.1l.4 .8l.4-2.3l.4 1.9l.4 .6l.4-.3l.4-.1l.4 .4l.4-1.4l.4-2.4l.4-.5l.4-2.3l.4 .9l.4 2.5l.4-.3l.4 .1l.4-2l.4-.3l.4-.4l.4-.1l.4-2.2l.4 4.9l.4-.7l.4-.2l.4-2l.4-2.3l.4 .4l.4-2.2l.4-1.3l.4 .8l.4 .2l.4 1.7l.4-1.6l.4-2.1l.4 .2l.4 3l.4-1.7l.4 1.4l.4-1.2l.4-1.2l.4 4.9l.4-.4l.4 1.5l.4-2.2l.4 1.6l.4 2.2l.4-1.8l.4 1.7l.4-1.4l.4 .4l.4 3l.4 .4l.4-.3l.4 3.4l.4-.3l.4 0l.4-3.1l.4 1.6l.4 2l.4-3l.4 1.5l.4 .8l.4-1.1l.4 2.7l.4-.1l.4 0l.4 .1l.4-.5l.4 .8l.4-.6l.4-.3l.4 .1l.4-.7l.4 .2l.4-1.2l.4-.6l.4 .5l.4 0l.4-1.5l.4-2.2l.4-1.2l.4 2l.4-1.5l.4-2.4l.4-.1l.4-.8l.4-1.2l.4-.1l.4 .7l.4 .2l.4-2.7l.4 .5l.4-.1l.4 1l.4 2.9l.4-.4l.4 3.2l.4 .2l.4-.1l.4-.3l.4 2l.4-.3l.4 2.3l.4-1.9l.4 3.4l.4-.4l.4 2.6l.4-.4l.4-1.8l.4-.5l.4 .6l.4 .7l.4 .7l.4 1l.4-.2l.4 1.2l.4-.6l.4 .3l.4 .8l.4 1l.4 0l.4-1.4l.4 1.5l.4-1.8l.4 2.3l.4-3.6l.4 1.2l.4 .5l.4-.9l.4 .4l.4 1.8l.4 .2l.4 .5l.4 .3l.4 .3l.4-.9l.4-.8l.4-.1l.4 .1l.4-1.2l.4 1.4l.4-2.1l.4 2l.4-1l.4 1l.4 .5l.4-1.6l.4 1.6l.4-.7l.4-.3l.4 2.3l.4-2.4l.4 .3l.4 .8l.4 1.8l.4-1.9l.4 1.4l.4-.8l.4-1.9l.4 1.7l.4 .6l.4-1.9l.4-.1l.4-2l.4-1.4l.4 3l.4-1.7l.4 3.5l.4-1.2l.4 .1l.4 0l.4-3.5l.4 2.7l.4-.4l.4 1.8l.4-2.6l.4-1.5l.4 .7l.4 1.8l.4-1.8l.4 1.4l.4 .1l.4-2.1l.4 .2l.4-2.3l.4 1.4l.4 2.5l.4-.5l.4-1.8l.4 2.6l.4-3.6l.4 .2l.4 2.1l.4-2.6l.4-1.1l.4 1.9l.4-1.1l.4 .6l.4 .5l.4-.4l.4-1l.4 2l.4-1.8l.4 .4l.4-2.1l.4 0l.4 2.1l.4-1.1l.4 .9l.4 .6l.4 .1l.4-.1l.4 .3l.4-2.2l.4 2l.4 1l.4-1.3l.4-1.4l.4-.5l.4-.6l.4 1.4l.4 .7l.4-1.5l.4 .9l.4-1.7l.4-1.2l.4-1.2l.4-1.1l.4-2l.4 1.8l.4-2.5l.4-2.4l.4-.2l.4-.6l.4 1.5l.4-1.3l.4 .5l.4-.1l.4-.5l.4-.1l.4 2.3l.4-.1l.4 1.1l.4 .8l.4 3.5l.4 .4l.4-1.5l.4 .9l.4 .6l.4 1l.4-1.1l.4 2.6l.4 1.3l.4 4l.4-1.4l.4 .3l.4 .4l.4-2.1l.4-1.4l.4 .9l.4 .5l.4-1.2l.4-.4l.4-1.1l.4-.2l.4-1.4l.4-.3l.4-1.6l.4 .4l.4 0l.4-.7l.4-.2l.4 .7l.4-1.6l.4 2.6l.4-1.2l.4 1l.4 1.9l.4 .5l.4 1.8l.4-.1l.4 3.5l.4 .7l.4-1.5l.4-1.9l.4 .7l.4 .1l.4-2l.4 2.9l.4-1.2l.4 3.6l.4-2.2l.4 0l.4 3.1l.4-2.8l.4-.4l.4-.9l.4 .4l.4 .4l.4 .4l.4 0l.4-1.5l.4 .2l.4-.9l.4 .5l.4-2.8l.4-2.5l.4 .3l.4-1.8l.4-2.9l.4-.7l.4-4.2l.4-1.7l.4-2.7l.4-.4l.4-1.6l.4-1.3l.4 1.2l.4-.7l.4 1l.4 1.8l.4 4.6l.4 1.2l.4 .2l.4 .7l.4 2.6l.4 3.5l.4 .4l.4 3.1l.4-1.8l.4 .7l.4 1.4l.4 .5l.4 1.8l.4 .2l.4 .9l.4-1.5l.4 1.9l.4 1.4l.4-.3l.4 .8l.4-.3l.4-1.1l.4-.6l.4 .9l.4-.8l.4-1.5l.4 1l.4 .9l.4 .4l.4-1.1l.4 .3l.4-.7l.4 .1l.4 1.6l.4-3.4l.4 2.4l.4-1.3l.4 0l.4 .6l.4-2.6l.4-.9l.4-.3l.4 .9l.4 1l.4 1.4l.4-2.8l.4 1.2l.4-3.3l.4 2l.4-3.1l.4-1.7l.4 .1l.4-1.6l.4-1.1l.4-3.4l.4 1.1l.4-1.9l.4-2.2l.4-.5l.4 .5l.4 .1l.4-1.7l.4 1.1l.4 2.7l.4 .5l.4 .6l.4 1.5l.4 1.2l.4 2l.4 1.5l.4 .8l.4 .5l.4-.8l.4 4.9l.4 2.1l.4 .1l.4-.3l.4 1.8l.4-3.1l.4 2.9l.4-.1l.4 .7l.4 .6l.4-.5l.4 .1l.4 .1l.4 1.2l.4-.9l.4 .2l.4-2l.4 0l.4 1.4l.4 1.6l.4-1.2l.4-.3l.4 1.3l.4-.1l.4 .2l.4 .8l.4-.5l.4 0l.4 .7l.4-1.4l.4 2.1l.4-2.8l.4 1.2l.4-2.3l.4 .3l.4 .7l.4-1.4l.4 .5l.4-1.1l.4 1.4l.4-2.1l.4 1.2l.4 1.2l.4-2l.4 1l.4-1.6l.4 0l.4 1.2l.4-2.2l.4-1.3l.4-1.9l.4 .7l.4-2.5l.4 .8l.4-.3l.4-3.1l.4 .9l.4-2.6l.4-.2l.4-1.5l.4 .4l.4 2.3l.4 1.1l.4 1l.4 1.3l.4-.4l.4 1.6l.4 .3l.4 .1l.4 .4l.4-.3l.4 1.1l.4-.8l.4 1.9l.4 .8l.4-1.8l.4 .6l.4-.6l.4-.6l.4 2.3l.4-1.3l.4-1.2l.4 .5l.4 1.3l.4-1.3l.4 2.7l.4-1.3l.4-2.2l.4 1.2l.4 1.8l.4-1.4l.4 2.4l.4-2.4l.4 1.3l.4 2.5l.4-.5l.4-2.6l.4 .8l.4-1.6l.4 .5l.4-1.7l.4 2.7l.4-1.5l.4 1.8l.4 3.8l.4 .1l.4-.2l.4-1l.4 2.1l.4-3.9l.4 .6l.4-.4l.4 .6l.4 1.3l.4 1l.4 .1l.4-.7l.4 .4l.4 1.5l.4-.6l.4 0l.4-.3l.4-1.6l.4 .3l.4-.9l.4 1l.4-.8l.4-.8l.4-.4l.4 2.7l.4 .1l.4-.9l.4 .1l.4 .4l.4-1.2l.4-.6l.4-1.3l.4-1.8l.4 .7l.4 1.5l.4 1l.4-.5l.4-.5l.4 1.2l.4 1.1l.4-1.8l.4-.9l.4-1.3l.4 1l.4 1.1l.4-2.4l.4 1.5l.4-1l.4 1.3l.4 .9l.4 1.5l.4-2.9l.4-.5l.4 1.3l.4-.9l.4 .9l.4 .1l.4-1.1l.4 1.4l.4-1.5l.4-.1l.4 .5l.4 1.3l.4 3l.4-1.4l.4 .8l.4 1.6l.4-2.6l.4-1.4l.4 .8l.4 .4l.4-.1l.4 2l.4 .5l.4 2l.4-1.3l.4-.9l.4-1.1l.4-1.1l.4-2l.4 2.2l.4-2.8l.4 2l.4 1.9l.4-2.9l.4 1.3l.4-2l.4 .1l.4 3l.4-1l.4 .5l.4-1.2l.4-1.1l.4-.8l.4 .5l.4-.9l.4-2l.4-1.8l.4 .8l.4 0l.4-1.1l.4-.3l.4 .6l.4 .3l.4-2l.4 .7l.4-.1l.4 1.8l.4-.1l.4-.4l.4-.4l.4-.2l.4 4.3l.4-1l.4-1.3l.4 .7l.4 .5l.4 1.5l.4 .8l.4-.5l.4 1.7l.4-2.3l.4 .5l.4 2.7l.4-1.2l.4 .9l.4-.4l.4 .1l.4 1.4l.4-.2l.4 2.2l.4-3.7l.4 .9l.4-1.3l.4-1.4l.4 3.2l.4-.7l.4-1l.4-1.6l.4 2.1l.4-.4l.4 .3l.4-.6l.4 2.1l.4-2.6l.4 1.8l.4-2l.4 .9l.4 3.3l.4-3l.4 .7l.4 0l.4 .6l.4 0l.4-.3l.4-1.5l.4-.2l.4-2.1l.4 .6l.4-2.5l.4 2.9l.4 .3l.4-2l.4 0l.4 .8l.4 1.1l.4-1.7l.4-.1l.4-1.4l.4 .6l.4-.9l.4 .6l.4-4.4l.4 3l.4-1.9l.4-.3l.4 2.1l.4 .5l.4 0l.4-1.5l.4 .7l.4-1.1l.4-.8l.4 .4l.4-1.5l.4 1.6l.4-2.3l.4 .5l.4-1.5l.4 2.4l.4-.8l.4-1.2l.4 1.7l.4-.5l.4 1.8l.4 .1l.4 .1l.4-.2l.4-1.7l.4 1.7l.4 1.1l.4-1.3l.4 .8l.4 .8l.4-.7l.4 1l.4 .5l.4-.3l.4 1.5l.4-1.5l.4-.8l.4 1.3l.4-.9l.4-.6l.4-.6l.4 1.2l.4 .2l.4-.2l.4 .5l.4 1.2l.4-1.2l.4 1l.4-.3l.4-1.2l.4 .6l.4 1.2l.4-.2l.4 1.5l.4 .2l.4 1.3l.4-.8l.4 2.4l.4-2.1l.4 .6l.4 .2l.4 .3l.4 2.4l.4 .5l.4-1.2l.4 1.7l.4-1.2l.4 .4l.4-2l.4 .6l.4-.3l.4 .5l.4 .8l.4-.1l.4-.7l.4-1.8l.4-.3l.4 .3l.4-.7l.4 1l.4-4.2l.4 1.3l.4-1.9l.4 .8l.4-.4l.4-.6l.4 3l.4-1.9l.4-.6l.4-.2l.4-.9l.4 .7l.4 1.4l.4-.1l.4-1l.4-1.1l.4-.1l.4-.9l.4 1.7l.4-.4l.4 1.1l.4 .7l.4-.3l.4 0l.4-1.6l.4 1.4l.4 1.5l.4-1.8l.4-.3l.4-.8l.4 1l.4-1.6l.4 3l.4-2.1l.4-1l.4-.1l.4-1.9l.4 .3l.4 .8l.4 2.3l.4 1.2l.4-3.6l.4 3l.4-2.2l.4 .8l.4 .2l.4-2.5l.4 1.4l.4 3l.4-1.2l.4 .5l.4-.7l.4 .3l.4 .9l.4 0l.4 .4l.4 .5l.4-3.4l.4 1l.4-.9l.4 1.3l.4-1.3l.4 .9l.4-1.2l.4 .9l.4-1.1l.4 1.2l.4-.7l.4 1.7l.4-.7l.4-1.1l.4 .4l.4-1.5l.4 1.7l.4-.2l.4 3l.4-.7l.4 .3l.4 2.7l.4-2.4l.4-.9l.4 .1l.4 .3l.4 1.1l.4 .9l.4-.7l.4 .3l.4 2.9l.4 2.6l.4-1.5l.4-1l.4 0l.4-.2l.4 4l.4-1.2l.4 .1l.4 .7l.4-.7l.4-.1l.4-.6l.4 1.3l.4-1.2l.4 .6l.4-2.7l.4 .5l.4-.2l.4-.2l.4 2.9l.4-1.4l.4-2.2l.4 1l.4-1.1l.4 0l.4 1.3l.4-.6l.4-.2l.4-.3l.4-2l.4 1.1l.4 1.1l.4 2l.4-1.8l.4-2.4l.4 2.2l.4-2.4l.4 .3l.4 1l.4 .3l.4 1.5l.4-2.3l.4-1.5l.4 1.3l.4-3.5l.4 1.3l.4 .7l.4-.9l.4 .1l.4 1.5l.4 .8l.4 1.2l.4-2l.4 .7l.4 0l.4-.7l.4 2.8l.4 0l.4-2.3l.4-1.7l.4-.2l.4 .7l.4-.5l.4 1.2l.4-.8l.4 1.4l.4-1.7l.4 2.6l.4-1.9l.4 .3l.4 1.6l.4-1.5l.4 1.6l.4-1.5l.4 2.8l.4-.1l.4-.4l.4 .5l.4-.9l.4-1.3l.4 1.6l.4-.3l.4 .3l.4 .1l.4-.5l.4 0l.4-1.2l.4 .1l.4-.1l.4 1.7l.4-2.7l.4 .7l.4 .4l.4 .1l.4 1l.4-1.3l.4-.5l.4-.4l.4 2.7l.4-.6l.4 1l.4 .8l.4-2.2l.4 3.2l.4-1.8l.4 .6l.4 .2l.4-2.3l.4 4.5l.4-2.5l.4 .8l.4-1.3l.4-1.3l.4 .5l.4 .6l.4-.9l.4-1.2l.4 2.1l.4-2.3l.4-.8l.4 0l.4-2.9l.4-.4l.4 1l.4-.8l.4-.4l.4-1.9l.4-1l.4 1.3l.4-.7l.4 .9l.4 .3l.4 1.4l.4 1l.4 1.3l.4 .3l.4-4.2l.4 1.1l.4 .7l.4 2.9l.4-2.3l.4 1.5l.4 1.6l.4 .7l.4-1l.4-.7l.4 2.9l.4 .1l.4-.6l.4-.1l.4-.7l.4-.3l.4 1.1l.4 .9l.4-.8l.4-1.3l.4 .6l.4-.1l.4-.8l.4 2.1l.4-1.2l.4 .1l.4 1.3l.4-.9l.4 2.2l.4-.7l.4-2.5l.4 .8l.4-.7l.4 3.6l.4 .2l.4 .5l.4 .1l.4 2.9l.4 .2l.4-2.2l.4-1.5l.4-.2l.4 .7l.4 .5l.4 .1l.4-.7l.4-.6l.4 0l.4-1.2l.4 3.7l.4-1l.4 .3l.4-1.1l.4-.6l.4-1.3l.4 1.3l.4 .6l.4-1l.4 1.8l.4-.2l.4-1.8l.4 .8l.4 1.4l.4-3.1l.4 .7l.4 .1l.4-.9l.4-1l.4 2.5l.4-2.1l.4-.7l.4-.4l.4-1.9l.4 2.1l.4 1l.4 1.2l.4-2.7l.4 1.2l.4 .1l.4 .8l.4-1.9l.4-.5l.4-.6l.4-2.1l.4 0l.4 2l.4-.5l.4-1.6l.4 1.9l.4-1l.4 .7l.4-1.6l.4 .4l.4-1.8l.4 1.5l.4 .8l.4 .5l.4-.7l.4 1.8l.4-2.4l.4-.3l.4 .9l.4 2.5l.4-1.9l.4-1.6l.4 .8l.4 1.3l.4 .3l.4 .3l.4-.4l.4-.1l.4-2.1l.4 .3l.4 .5l.4-.1l.4 .6l.4-1.5l.4-.7l.4 1.5l.4 .5l.4-.9l.4 1.5l.4-.3l.4-2.7l.4 2.1l.4-.7l.4 1.9l.4 1.1l.4 1l.4-.6l.4-2.1l.4 2.8l.4 .4l.4 2l.4-1.9l.4-1.9l.4 1.3l.4 .9l.4 0l.4 .1l.4-.8l.4 1l.4 .3l.4 .1l.4 1.1l.4-.2l.4 1.9l.4-.6l.4-.9l.4-.1l.4-1.9l.4-1.1l.4 1.8l.4 .6l.4 1l.4 1.2l.4-.1l.4-.1l.4 1.1l.4-.2l.4-1.3l.4-1.7l.4-2.3l.4 .1l.4 2l.4 3.8l.4-2l.4-.6l.4 1l.4 .5l.4-1l.4-.6l.4-.9l.4-1.3l.4-.5l.4-1.8l.4 2.9l.4 .4l.4 .5l.4 .9l.4-2.6l.4 1l.4 2l.4-1.7l.4 2.6l.4-1.5l.4 .8l.4-.8l.4 .4l.4-1.8l.4 .7l.4-1.1l.4-.8l.4 .5l.4 .9l.4-2.4l.4 2l.4 0l.4 3.3l.4-.8l.4-2.7l.4 .2l.4-1.9l.4 2.1l.4 1.2l.4-1.3l.4 .1l.4-1.8l.4 4l.4-2.5l.4 1.7l.4-.4l.4 .4l.4-1.9l.4 .5l.4-1.9l.4 2.1l.4-2l.4 2.1l.4 .8l.4 1.2l.4-3.6l.4-.1l.4-.6l.4 .9l.4-1l.4 2.2l.4-1.1l.4 .9l.4 .8l.4 .6l.4 .7l.4 1.5l.4-3.9l.4 2.8l.4-2.1l.4-1.7l.4-.5l.4 1.1l.4 .8l.4 .6l.4 .4l.4 2l.4-3.3l.4-.2l.4-.5l.4 1.5l.4 .2l.4 1l.4-.6l.4 .4l.4-2l.4 1.2l.4 .2l.4 1.7l.4-1.3l.4-.3l.4 2.6l.4-1.2l.4 2.8l.4-3.3l.4 .7l.4 1.3l.4-1.9l.4 2l.4 .6l.4-1.1l.4 .3l.4-3.8l.4 2.9l.4-.3l.4-2.6l.4 3.2l.4-2.8l.4 .4l.4 3.6l.4-1l.4-1.1l.4 1.7l.4-1.9l.4 .4l.4-1.6l.4 1.7l.4 .2l.4-1.4l.4 1.1l.4 1.3l.4 .2l.4 .2l.4 .9l.4-.9l.4-1.4l.4-.7l.4 2.1l.4-2.8l.4 1.8l.4-1.1l.4 3.1l.4-3.3l.4 .8l.4-.2l.4-1.5l.4 1.6l.4 0l.4-2l.4 2.1l.4-.9l.4 1.6l.4 1.3l.4-3.5l.4 .6l.4-.4l.4-1.7l.4 .3l.4 1.5l.4-1.4l.4 1.8l.4-2.2l.4 .2l.4-.9l.4 .3l.4 .5l.4-.9l.4-.3l.4 1.4l.4 .1l.4 .6l.4-.9l.4-.3l.4 1.1l.4-1.7l.4-.5l.4 .5l.4 .1l.4 1.2l.4-1.5l.4-1l.4 .4l.4-.7l.4 1.1l.4-.7l.4 4.4l.4-1.9l.4 .3l.4-1.4l.4-.3l.4 .3l.4 1.3l.4 .3l.4 .7l.4-1.1l.4 2l.4-2.6l.4 1.6l.4 1.4l.4-.5l.4 .4l.4-.3l.4 1.1l.4 0l.4 1.5l.4-.6l.4-.6l.4 .3l.4-1.5l.4 2l.4 1l.4-2.3l.4-1.3l.4 .2l.4 1.3l.4-2.7l.4 2.8l.4-.5l.4 1.4l.4-1.1l.4 1.2l.4-1.4l.4 .5l.4 .5l.4-1.1l.4 2l.4-1.1l.4 .5l.4 1l.4-1.8l.4-.9l.4-2.2l.4 1.3l.4 .7l.4-1.7l.4 .2l.4 1.6l.4-.9l.4 1l.4 1.6l.4 .3l.4-2.7l.4 .6l.4 .3l.4-.2l.4-.7l.4 1.1l.4-2.7l.4-.2l.4 3.2l.4-3.1l.4 4.7l.4 .4l.4-2.1l.4 1.8l.4-.9l.4-3l.4-.3l.4-.7l.4 1.9l.4-1l.4 .7l.4 1.1l.4-1.1l.4 2.4l.4-2.5l.4-.1l.4 1l.4 .1l.4-1.1l.4 2l.4-1.8l.4-.3l.4 .5l.4-1l.4 .7l.4-1.5l.4 1.2l.4-1.5l.4 .1l.4 0l.4 0l.4 2l.4-.7l.4 2l.4-1.3l.4 .7l.4-.2l.4-.4l.4 .9l.4 1.8l.4-2.2l.4 1.3l.4-3.2l.4-1.9l.4 3.3l.4-.3l.4-1.4l.4 .5l.4 .8l.4-1.5l.4 1.4l.4-2.6l.4-.2l.4 .8l.4 .6l.4 .5l.4 .4l.4-1l.4-.4l.4 1.6l.4-2.3l.4-.3l.4 .6l.4 .5l.4 1.2l.4 .5l.4-1.1l.4-1l.4 1l.4 .3l.4 .7l.4-1.4l.4 2.7l.4 0l.4-1.3l.4 1.4l.4-1.6l.4-.4" fill="none" stroke="#0000ff" stroke-width="1.35" stroke-linejoin="round"/>
<path d="M231.7 893.3l.4 .2l.4-.5l.4 2.4l.4-2.2l.4 .3l.4-.5l.4-.6l.4-.2l.4-.1l.4 1.5l.4 1.3l.4-1.2l.4-.3l.4 .9l.4-1.2l.4 1.4l.4 .3l.4-.5l.4 .4l.4-1.6l.4 .3l.4-.4l.4-.4l.4 .7l.4 .6l.4-.4l.4-.9l.4-.3l.4 .7l.4 .2l.4 2l.4-3l.4 .9l.4 .2l.4 0l.4 .1l.4-.6l.4 .1l.4 .8l.4-1.1l.4 1.2l.4-2l.4 1.8l.4 .5l.4-1.6l.4 1.8l.4-.3l.4-1l.4 .5l.4 .4l.4-.6l.4-.3l.4 .2l.4-.6l.4 .1l.4-.8l.4 1.1l.4 .6l.4-1.7l.4 .6l.4-.5l.4-.4l.4 .2l.4-1.5l.4 1.6l.4 .1l.4-.2l.4 1.6l.4 .8l.4-1.5l.4 .9l.4-1.3l.4-.4l.4 .3l.4 1.6l.4-1.8l.4 1.2l.4-.1l.4-1.7l.4 1l.4-.1l.4 .4l.4 .2l.4-1.2l.4-.6l.4 2.2l.4 .1l.4-.8l.4 .3l.4 .1l.4 .7l.4-.1l.4 .3l.4-1.3l.4 .8l.4-1l.4 .4l.4-.5l.4-1.7l.4 2.9l.4-.7l.4-1.1l.4 .6l.4-.6l.4 1.3l.4 .2l.4-1.1l.4-1.2l.4 1.2l.4-.1l.4 .4l.4-.3l.4-.8l.4 .9l.4-.3l.4 .4l.4-.3l.4 1.3l.4-2.2l.4 0l.4 1.7l.4 0l.4-.1l.4 .4l.4 .3l.4-.5l.4-.6l.4 1.2l.4-1.8l.4 1l.4-.2l.4-.6l.4 .9l.4-.7l.4 .9l.4-1l.4 1.3l.4-1.1l.4-.9l.4-1.2l.4 .6l.4 .7l.4 .7l.4 2.7l.4-1l.4-.5l.4-2.3l.4 .1l.4 .5l.4 .8l.4 .3l.4 .6l.4-1.7l.4 2l.4-.4l.4 0l.4-.6l.4 .6l.4-1l.4-.4l.4 1.9l.4-1.1l.4-.6l.4 .9l.4-.5l.4-.1l.4-.3l.4 1l.4-.3l.4 .3l.4-2.3l.4 1.2l.4 .5l.4-.4l.4 0l.4 1.1l.4-.7l.4-.2l.4 1.3l.4 .5l.4 0l.4-1.3l.4-.5l.4 .4l.4-1.5l.4-.8l.4 1.8l.4-.2l.4 .8l.4 .1l.4-.9l.4-1.7l.4 .1l.4-.4l.4 2.5l.4-.7l.4-.2l.4 .3l.4-1.2l.4-1.1l.4 .9l.4-.5l.4 1.3l.4 0l.4-1.7l.4 1.6l.4-1.2l.4-1.8l.4 1.6l.4-1.1l.4 2.6l.4-.1l.4-2.1l.4 .8l.4 .2l.4-.4l.4 1.5l.4-.5l.4-2.2l.4 .2l.4 1.8l.4-1l.4 .6l.4-.2l.4-2.3l.4 1.3l.4-.8l.4 .9l.4 .5l.4-.2l.4-.3l.4-.5l.4-1.1l.4-.8l.4 .6l.4-1.7l.4 4l.4-3.4l.4 1.1l.4-.9l.4-2.5l.4 2.2l.4 .1l.4 0l.4 1.7l.4-1.5l.4 .6l.4-1l.4-.8l.4 .3l.4 .5l.4 1.4l.4-.2l.4-.6l.4 2.4l.4-.9l.4 .5l.4-.6l.4 .2l.4-.7l.4-.1l.4-1.4l.4 .6l.4-.3l.4-.3l.4 1.5l.4-.7l.4 .8l.4-1.5l.4-.7l.4-.1l.4 .4l.4 .8l.4 .6l.4 .3l.4 .3l.4-.5l.4-1.3l.4-.6l.4 .9l.4-2.8l.4 .1l.4 2l.4 .2l.4 .9l.4-.1l.4-1.8l.4 .6l.4 1.9l.4 .1l.4-1.1l.4 2.2l.4-3.1l.4 .3l.4 .2l.4-1.4l.4 .5l.4-.9l.4-.1l.4 2l.4 .1l.4-.8l.4 .3l.4-.1l.4-.7l.4-.4l.4 1.9l.4-.7l.4-1l.4 1.4l.4-2.4l.4 .2l.4 1.9l.4-2l.4-.9l.4 .4l.4-1.3l.4 1.3l.4-1.1l.4 .4l.4 3.2l.4-2.3l.4-.9l.4 3.6l.4 .1l.4 1.5l.4-2.3l.4-1.2l.4 1.3l.4-1.5l.4-.7l.4 2.5l.4-.8l.4 2.4l.4-2.3l.4 .6l.4-.2l.4-.1l.4 .4l.4 .1l.4 .4l.4 1.2l.4 1.2l.4 1.8l.4-1.3l.4-.3l.4 .1l.4-2.2l.4 .6l.4-.1l.4 .1l.4 .6l.4-.8l.4 .4l.4-1.6l.4 .5l.4 1.3l.4-1.7l.4 3.6l.4-.6l.4-2.3l.4 1.5l.4-1l.4 .6l.4-.3l.4 1.4l.4 .5l.4-2.1l.4-.5l.4 1.4l.4-.7l.4 .5l.4-.1l.4 .4l.4-.5l.4-.1l.4-1.3l.4 .6l.4 .8l.4-.6l.4 0l.4 1.4l.4-.8l.4-1.8l.4-.4l.4-.1l.4-1.2l.4-1.3l.4 2.9l.4 1.4l.4-.5l.4 .4l.4 .9l.4-.6l.4-.4l.4-.2l.4 .3l.4 .9l.4-.2l.4-1.6l.4 1.8l.4-2.1l.4-.5l.4 .9l.4-2.2l.4 1l.4 1.1l.4 1l.4-2.1l.4 1.7l.4-3l.4 1.6l.4-.9l.4 2.1l.4 .1l.4 1l.4-.5l.4-.7l.4-.3l.4 .1l.4-1.6l.4 .5l.4 1.1l.4 1.8l.4-3.2l.4-.3l.4 1.6l.4 0l.4 1.2l.4 .6l.4-1.5l.4-2.1l.4 1.4l.4-1.1l.4-.6l.4 1.4l.4-.3l.4 3l.4-1.2l.4 .4l.4 1.1l.4-1.2l.4 1.6l.4-.6l.4-1.5l.4 1.7l.4-1.8l.4 .6l.4 .3l.4 1.6l.4-2.1l.4 .5l.4 .8l.4-.3l.4-.9l.4-.6l.4-.3l.4 .5l.4-1l.4-.6l.4-1.2l.4 1.5l.4-3.4l.4 .9l.4-3.2l.4-1l.4-2.2l.4 2.7l.4-.1l.4-2.4l.4 2.6l.4 .1l.4 .6l.4 1.1l.4 .9l.4-1.8l.4 .8l.4 4l.4 1.6l.4 1.5l.4-3l.4 .3l.4 3.3l.4-3.1l.4 3.7l.4 .6l.4-.2l.4-.8l.4 2.1l.4-3.1l.4 .3l.4 .8l.4 1.1l.4-1.9l.4 1.4l.4-1.1l.4-.2l.4 .1l.4 .7l.4-1.1l.4-2.8l.4 1.8l.4-1.2l.4-1.2l.4 2l.4-.1l.4 2.7l.4-1.6l.4-1.6l.4 1.9l.4-1.6l.4 1.4l.4-.7l.4-2.1l.4 1.4l.4-.8l.4 1.7l.4 1.7l.4-1.1l.4 3.3l.4-1.5l.4-.1l.4 2l.4 .1l.4-1.6l.4 1.8l.4-3.3l.4 2.1l.4-3.4l.4 .7l.4-.6l.4 1.3l.4 2.5l.4-.2l.4 .1l.4 2.5l.4-4.3l.4 1l.4-1.8l.4-2.3l.4 4.1l.4-2.8l.4 1.3l.4 2l.4 1.2l.4-.4l.4 1.6l.4-2l.4-2l.4 1.2l.4-1.2l.4-1.5l.4-.6l.4 1.1l.4 2.5l.4-2.6l.4-.3l.4-.9l.4-2.9l.4 1l.4 .6l.4-1.6l.4-1.2l.4 .5l.4 1.1l.4-.6l.4-.6l.4-.8l.4 .3l.4 .6l.4-.2l.4 1.9l.4 .8l.4 1.4l.4 .4l.4 0l.4 .5l.4-.3l.4 2.6l.4 .3l.4-.9l.4 .4l.4-.1l.4 2.8l.4-2.7l.4 1.8l.4-1.3l.4-1l.4 .6l.4-.5l.4 .2l.4 .2l.4 1l.4-.4l.4 .7l.4 0l.4 .1l.4-.1l.4-2.5l.4 1.9l.4-.5l.4 .9l.4-1.3l.4-.5l.4-.9l.4 .9l.4 .9l.4-.4l.4-1.1l.4-.7l.4 1l.4-.1l.4 1.5l.4-.7l.4-1.5l.4 1.5l.4-.2l.4-.7l.4-.7l.4-3.6l.4 .4l.4 .5l.4-1.8l.4 .4l.4-2.2l.4-.2l.4 .2l.4-.5l.4-1.5l.4 1.1l.4-.6l.4-.5l.4-2.4l.4 .2l.4 1.7l.4 .6l.4 1l.4 3.9l.4-1.5l.4 2.7l.4-1.8l.4 2.9l.4 0l.4-.7l.4 1.8l.4 2.2l.4-2.6l.4-.8l.4 1.8l.4-1.6l.4-.8l.4-1l.4 1.4l.4-1.3l.4 0l.4-2.5l.4-.4l.4-.1l.4 .5l.4 .4l.4-.2l.4-1.6l.4 1.1l.4 1.3l.4 2.6l.4-1.2l.4 .4l.4 1.3l.4 .3l.4 1.7l.4 0l.4-.5l.4 0l.4 .2l.4 .2l.4-.3l.4-.8l.4 1.3l.4 1l.4 1.1l.4-1.3l.4-2.1l.4 2.1l.4-1.5l.4 1.9l.4-1.4l.4 .6l.4-.3l.4 3.2l.4-2.8l.4-.2l.4-1.7l.4 0l.4 1.5l.4-.5l.4-.3l.4 1.3l.4-2.1l.4 2.2l.4 .9l.4-3l.4 1.3l.4-1.2l.4-.3l.4 2.6l.4 .7l.4 .6l.4-1.7l.4-.6l.4 1.1l.4-.5l.4-.1l.4-2.7l.4 1.3l.4-.7l.4 2.4l.4-1.3l.4 0l.4 1l.4 1.6l.4-.3l.4-2.2l.4-.5l.4-.5l.4-.1l.4 0l.4 1.1l.4-.1l.4 .1l.4 1.4l.4-1.3l.4 1.7l.4-1.7l.4 .7l.4 .7l.4-2.4l.4 2l.4 .5l.4-1.8l.4 3.2l.4-1.8l.4 1.1l.4-1l.4-.1l.4 .2l.4-2.3l.4 .3l.4 .8l.4 1.6l.4 0l.4 .8l.4-1.1l.4-1.2l.4-.1l.4-.2l.4 .6l.4 2.2l.4-1.3l.4-.2l.4-2l.4 1.8l.4-.2l.4-.9l.4 3.5l.4-.6l.4-.5l.4-1.9l.4 2.2l.4-1.3l.4 .2l.4-1.3l.4-.3l.4 1.7l.4-1.3l.4 1.5l.4-.5l.4-1.1l.4-.4l.4-.6l.4-2.8l.4-.3l.4 1.2l.4-3.2l.4-.1l.4-1l.4 1.3l.4-2.8l.4 0l.4 .7l.4 3l.4 .7l.4-1.2l.4 1.6l.4-1.5l.4 2.4l.4 3.9l.4 .3l.4-.2l.4-1.3l.4 .9l.4-1.9l.4-.3l.4 3.3l.4 1l.4-.3l.4 1.1l.4-3.6l.4 1.9l.4-1.9l.4 .9l.4 .6l.4 .2l.4 .1l.4-1.6l.4-.4l.4 .4l.4 .9l.4-.7l.4-.1l.4-.2l.4 1.4l.4-.9l.4-1.7l.4 1.9l.4-.6l.4-.3l.4 3.1l.4-1.9l.4 1.7l.4-3.9l.4 2l.4-.4l.4 1.3l.4-2.3l.4 .9l.4 .5l.4-.3l.4-.7l.4 1.7l.4-.8l.4 .8l.4 0l.4-2.1l.4 .9l.4 1.7l.4-1.1l.4 1.6l.4-2.1l.4-1.3l.4 .5l.4-.4l.4 .7l.4-2.3l.4 1.9l.4-2.5l.4-1.6l.4 1.2l.4 .8l.4 2.5l.4 1.5l.4-1.9l.4-1.5l.4 1.5l.4-.5l.4 .1l.4 .3l.4 1.1l.4-.5l.4 1l.4-1.3l.4-1.7l.4 0l.4 2.1l.4-1.2l.4-1.7l.4-1.3l.4-1.8l.4 .8l.4-1l.4-1.2l.4-2.8l.4 .4l.4 1l.4 1.1l.4 .9l.4-1.4l.4 .1l.4 .5l.4-.5l.4 2l.4 1.6l.4-.9l.4 2.9l.4-1.7l.4 .2l.4-.1l.4-.4l.4 2.7l.4-.3l.4 .6l.4 .7l.4 .4l.4 .6l.4 .2l.4 .1l.4 0l.4-.4l.4-2l.4 1.4l.4-.1l.4-.1l.4-1l.4-.3l.4-1.2l.4 .9l.4 1.1l.4-2.9l.4 3.6l.4 1.6l.4-1.6l.4-1.1l.4 .2l.4 .9l.4-.1l.4 .3l.4-.7l.4-1.9l.4 .5l.4 .2l.4-.6l.4 .6l.4-.2l.4-.4l.4-.4l.4-.2l.4 3.5l.4-2.4l.4 1.6l.4-1.3l.4 1.9l.4-2.5l.4 .3l.4-.6l.4 1.7l.4-5.1l.4 1.4l.4-1.9l.4 2.6l.4-1.8l.4-.1l.4-2l.4 .3l.4 1.4l.4 1.2l.4-4.3l.4 1.8l.4-2l.4-.6l.4 0l.4-.4l.4-2.3l.4-1.9l.4-2.9l.4-1.3l.4-1.6l.4-5.2l.4-3.8l.4-3.4l.4-5.2l.4-3.7l.4-4.8l.4-8l.4-1.9l.4-5.5l.4-4l.4-4.3l.4-2l.4-2.3l.4-1.7l.4 1.7l.4 1.5l.4 3l.4 1.9l.4 .8l.4 1.8l.4 1.7l.4 1.3l.4 2.3l.4-.4l.4 3.8l.4-.7l.4 4.9l.4 6.3l.4 3l.4 4.7l.4 5.1l.4 3.1l.4 3.7l.4 3.9l.4 1l.4 2.4l.4 1.4l.4 2.6l.4 1.2l.4 2.3l.4 .5l.4 1.1l.4 1.2l.4-.4l.4 .7l.4 .7l.4 .5l.4 1.6l.4-1.4l.4-.7l.4 .5l.4-1.2l.4-.6l.4-.6l.4-.4l.4-5.1l.4-1.4l.4-3.3l.4-3.2l.4-3.6l.4-4.3l.4-4.1l.4-6.1l.4-4.8l.4-3.9l.4-3.2l.4 2.3l.4-1.4l.4 3.1l.4 5.4l.4 2l.4 7.2l.4 4.8l.4 6.1l.4 5.2l.4 1.4l.4 1.8l.4 3.4l.4 2.8l.4-.3l.4 1.4l.4 1.2l.4-3.1l.4-3.3l.4-.2l.4-.5l.4 2.2l.4 1l.4 2.2l.4-3.7l.4 .2l.4 1.3l.4 1.3l.4-.1l.4 2.5l.4 2.2l.4-.4l.4 .2l.4-.5l.4-3.2l.4 2.6l.4-1.1l.4-1l.4 1.4l.4-.4l.4 .6l.4-.1l.4-1.1l.4-1l.4 2.9l.4-1.5l.4 1.8l.4-1.9l.4 1.7l.4-2.5l.4 1.9l.4-1.5l.4-1l.4-1.8l.4-1l.4-.1l.4-5.4l.4 .3l.4-3.3l.4-2.1l.4-1.3l.4-3.7l.4-5.3l.4-4.5l.4-8.6l.4-8.4l.4-7.6l.4-9.1l.4-9.8l.4-10.3l.4-8.3l.4-5.5l.4-5.9l.4 .3l.4 1.9l.4 7.1l.4 5.2l.4 8.2l.4 8.3l.4 4l.4 2.5l.4 1.8l.4-2.2l.4-1.4l.4-5.6l.4-6.4l.4-6.4l.4-6.7l.4-1.9l.4-5.5l.4-2.6l.4 2.7l.4 4l.4 5.9l.4 7.5l.4 6.8l.4 5.1l.4 7.1l.4 5.2l.4 2l.4 1.8l.4-.2l.4 2l.4 1.6l.4-.4l.4-.5l.4 1.6l.4-2l.4-.3l.4 1.1l.4 1.5l.4 2.9l.4 3.9l.4 3.3l.4 6.5l.4 2l.4 5.4l.4 2.9l.4 3.6l.4 3l.4 4.8l.4 1.8l.4 .2l.4 .4l.4 1.8l.4 2.1l.4-1.6l.4 3l.4-2.1l.4-.1l.4 .9l.4 .5l.4 2l.4 0l.4-1.4l.4-1.8l.4 .6l.4-2.1l.4-1.2l.4-.2l.4-2.3l.4 .5l.4-.6l.4 1.4l.4-2.3l.4 1l.4 .1l.4-.7l.4 .1l.4-1.9l.4 2.7l.4-3l.4 1.4l.4-1.5l.4 1.3l.4 .7l.4-.1l.4-2.4l.4 .1l.4-1.9l.4-2.4l.4-.3l.4-6.7l.4-3l.4-3.4l.4-8.3l.4-6.7l.4-6.3l.4-11.1l.4-11.4l.4-9.2l.4-10.6l.4-12.1l.4-7.4l.4-5.4l.4-2.8l.4 1.6l.4 4l.4 6.3l.4 8.5l.4 9.8l.4 12.3l.4 12l.4 9.1l.4 8.4l.4 6.5l.4 8.9l.4 3.1l.4 7.4l.4 4.5l.4 3.8l.4 3.4l.4 2.6l.4 2.1l.4 .3l.4 2.3l.4 2.1l.4-.7l.4-2.4l.4-.1l.4-.7l.4 .9l.4-3.1l.4 1.4l.4-2.4l.4 2.8l.4-.3l.4-2.9l.4-.5l.4-.7l.4 3l.4 2.1l.4 2.5l.4 .5l.4-1l.4 .6l.4 3.6l.4-.3l.4 .2l.4 1.5l.4-.2l.4 1.3l.4-1.4l.4 .8l.4-1.2l.4 2.5l.4-1.1l.4 .3l.4 1.6l.4-1.4l.4-.5l.4 1l.4 .5l.4 .4l.4-.2l.4-1.5l.4 .7l.4-1.1l.4-1.1l.4-1.1l.4 .5l.4-.2l.4-.4l.4 2l.4-1.1l.4 .4l.4-1.6l.4 1.2l.4-1.7l.4 1.7l.4 1.1l.4-2l.4 .4l.4-.3l.4-.6l.4-.6l.4-3.7l.4 .3l.4 .3l.4-2.6l.4 1.4l.4 .1l.4-3.5l.4 .9l.4-2.9l.4-3.4l.4 .9l.4 1.7l.4-1.7l.4 .2l.4 .5l.4-1l.4 2l.4 .7l.4 1.8l.4 .5l.4 1.2l.4-1.1l.4-.6l.4 1.9l.4 1.1l.4 1.1l.4-3.4l.4 1.5l.4-.2l.4 1.6l.4-2.1l.4-.7l.4 1.2l.4 .9l.4-.1l.4 2.1l.4 .7l.4 1.9l.4 .6l.4-1.1l.4 2.2l.4-1.8l.4-.2l.4 2.2l.4 .8l.4 1.3l.4 .5l.4 2.1l.4 .3l.4 .4l.4 2.9l.4-1.9l.4 .7l.4-1.9l.4-.7l.4 1.5l.4-2.8l.4 3.1l.4 .2l.4 1.3l.4-2.6l.4-.5l.4-1.6l.4-1.2l.4 1.3l.4 1.9l.4-1.1l.4-3l.4-2.5l.4-1.6l.4-1.4l.4-2.4l.4-.2l.4-4.5l.4-.8l.4-.5l.4 0l.4 1l.4 1.2l.4 2.9l.4-1l.4 1.1l.4-1.8l.4 1.4l.4 .9l.4 1.6l.4 3.3l.4 0l.4-.3l.4 2.4l.4 0l.4-.7l.4 .6l.4 1.9l.4-2.2l.4-2.4l.4 3.5l.4-4.3l.4-.9l.4-2.1l.4-.5l.4 1l.4 1l.4 2.8l.4 1.3l.4 1.2l.4 .2l.4 1.9l.4 .2l.4 0l.4 2.3l.4 2l.4 2l.4-.8l.4 .1l.4 1.2l.4-3l.4 0l.4 2.7l.4-1.8l.4 3.5l.4-.3l.4-.8l.4 1.5l.4-.8l.4-2.7l.4-.1l.4-.4l.4-2l.4 2l.4 .7l.4-.4l.4 1.2l.4-.6l.4-1.7l.4 .4l.4 .1l.4-.7l.4 1.3l.4-1.8l.4 .6l.4-.9l.4-1.7l.4-2.6l.4-1.9l.4-.7l.4 1.4l.4-3.3l.4-2.5l.4-2.7l.4-1.5l.4-.5l.4-4.6l.4-1.7l.4-.3l.4-2.1l.4 1l.4 4.1l.4 .1l.4 1.4l.4 3.5l.4 2.3l.4 1.1l.4 2.8l.4 .4l.4 3.3l.4 1.2l.4 2.5l.4-1l.4 1.4l.4 .4l.4-.1l.4 .5l.4-2.9l.4 1.1l.4 .5l.4 .4l.4 .5l.4 1l.4 .4l.4-.4l.4-2.1l.4-1.1l.4-2.8l.4 1.6l.4 1.4l.4-2.4l.4 .3l.4-1.5l.4-.1l.4-.1l.4 .3l.4-3.3l.4 1.7l.4-.5l.4 .6l.4 .8l.4 2.7l.4-1.8l.4 1.9l.4-.1l.4 2.2l.4 1.3l.4 .7l.4-.4l.4 2.7l.4-.4l.4 1.3l.4-3.2l.4 1.7l.4-.8l.4 .6l.4-1.4l.4 .8l.4 .7l.4 0l.4 .9l.4-.6l.4-1.5l.4-.1l.4 2.1l.4-.2l.4-.2l.4 .7l.4 1.8l.4-1.9l.4-.3l.4-2l.4-.7l.4 2.7l.4-.3l.4 1.1l.4-1.9l.4 1.6l.4-2l.4 .4l.4 .4l.4 1.6l.4 2.2l.4-2.6l.4-.8l.4-.6l.4-.9l.4 .8l.4-.1l.4 0l.4-1.4l.4 1.1l.4-.4l.4 1.4l.4-2.6l.4 2.5l.4 .8l.4 0l.4-2.2l.4 1.1l.4 .3l.4-2l.4 1l.4 .1l.4-1.2l.4 .3l.4-.8l.4-.7l.4 1.2l.4 .1l.4-.9l.4 1.1l.4-1.8l.4 2.6l.4-.6l.4 .9l.4-1.1l.4-.4l.4 1.9l.4 .3l.4-.5l.4 .3l.4-.8l.4 .5l.4 2l.4 .1l.4-1.6l.4 2.1l.4-1.3l.4 4.2l.4-3.5l.4 .1l.4-.4l.4-.8l.4 .8l.4 .2l.4-.5l.4 3.2l.4-3.2l.4 .3l.4 .4l.4-2.8l.4 1.7l.4 .4l.4 1.4l.4-2.5l.4 1.8l.4-1l.4 .9l.4 .4l.4-1.4l.4-.1l.4 .9l.4-.2l.4-.2l.4 1.1l.4-1.8l.4-.6l.4-2.2l.4 1.4l.4 1.2l.4-1.2l.4-.8l.4-.3l.4 .7l.4-1.8l.4-1.9l.4 .6l.4 .4l.4-.9l.4 1.2l.4 2l.4 .7l.4-1.5l.4-.3l.4-1.7l.4 4.5l.4-1.1l.4 1.6l.4 2.6l.4-1.4l.4 1.2l.4-1.8l.4-.5l.4-1.6l.4 1.6l.4 1.8l.4 .4l.4-.6l.4-.7l.4 1l.4-1.3l.4-.4l.4-1.3l.4-.6l.4 .3l.4 1.2l.4 2.9l.4-1.9l.4-3.2l.4-1.7l.4-.8l.4-1.6l.4 .3l.4-1.1l.4-2.2l.4 1.2l.4 .2l.4 2.7l.4-.8l.4 .6l.4 .6l.4-2l.4 2.8l.4 .4l.4-1l.4 1.5l.4 0l.4 .2l.4 1.7l.4-1.8l.4-.4l.4-.1l.4-1.5l.4-.8l.4-1.2l.4-.5l.4 .7l.4-1.1l.4 2l.4-.3l.4-1.5l.4 2.4l.4-1l.4 1.6l.4 1.3l.4 1.4l.4 1.5l.4-1.9l.4 4.2l.4 1.1l.4 .3l.4 .5l.4-.8l.4-.2l.4-1.7l.4 1.6l.4 1.4l.4 0l.4-1.7l.4 .1l.4 0l.4 .3l.4 .7l.4 .5l.4 .4l.4-.4l.4 1.8l.4-.9l.4 .6l.4-1.9l.4 2l.4-1.7l.4 .3l.4-1.3l.4 .7l.4-.3l.4-.2l.4 .7l.4-1.6l.4 2.4l.4-.2l.4-.8l.4 .2l.4-.7l.4-.4l.4 1.3l.4-1.6l.4-.1l.4-1l.4 1.1l.4 2.9l.4-.5l.4-2.5l.4-.5l.4 1l.4-3.2l.4 2l.4-1l.4 1.1l.4 .2l.4-1.5l.4 1.4l.4-1.3l.4-.3l.4-.6l.4 2.7l.4 .9l.4-1.4l.4 2.1l.4-1l.4-.3l.4-2.6l.4-.5l.4-2.6l.4-1.9l.4 0l.4 1.1l.4-.7l.4 1.1l.4-1.2l.4-2.3l.4 .3l.4-1.3l.4-2.8l.4-.4l.4 .1l.4 .1l.4-.6l.4 2.3l.4 0l.4 .6l.4-.1l.4 .8l.4-.5l.4 .2l.4 1.4l.4 1.3l.4 1.3l.4-.2l.4-3.5l.4 3.4l.4-.4l.4-.8l.4 1.7l.4 .1l.4-1.8l.4-1.2l.4-2.6l.4-.2l.4-1.3l.4-1.8l.4 2.4l.4-2.4l.4-.9l.4-.9l.4-2.9l.4-1.6l.4-.8l.4 1.8l.4-2.1l.4-.5l.4 3.3l.4-1.6l.4 1.9l.4 2.7l.4 1.4l.4 3.8l.4 1.3l.4 2l.4 1.8l.4-.5l.4 .3l.4-1.4l.4 3l.4-.3l.4 1.8l.4 .4l.4 2.1l.4-1.6l.4-.4l.4-.5l.4 .3l.4 .5l.4 .5l.4 2l.4-1.8l.4-.2l.4 .3l.4-2.2l.4 2.2l.4 .6l.4 .9l.4-1.4l.4-.2l.4-.5l.4-.6l.4 1.9l.4 .4l.4 .6l.4-2l.4-1.2l.4 .1l.4 1.1l.4-1.6l.4 .1l.4 .5l.4 1l.4 .5l.4-.8l.4-2.5l.4 2.2l.4-.1l.4 .5l.4-.5l.4-3.2l.4 0l.4-.7l.4 1.8l.4-3.4l.4-.3l.4-1.2l.4-1l.4-1.9l.4 2.1l.4-1l.4-.2l.4-4.5l.4-1.5l.4 .6l.4-.9l.4-.7l.4-1.4l.4-.1l.4 2.9l.4 .9l.4 .1l.4 .9l.4 .7l.4 4.8l.4-2l.4 1.9l.4-.1l.4 1.7l.4 1.4l.4 1.4l.4 1.9l.4-1l.4-1l.4 2.9l.4-2.3l.4-.3l.4-.1l.4 1.8l.4 .6l.4 .4l.4-1.3l.4 1.4l.4-1.2l.4-.9l.4 2l.4 .4l.4-.8l.4 .4l.4-.9l.4 .4l.4-1.2l.4-2.6l.4 1.2l.4-1l.4-1.2l.4 .5l.4 .2l.4-2.3l.4 .8l.4 1.1l.4-.2l.4 1.7l.4 .4l.4-.7l.4 1.6l.4 0l.4 .9l.4 .1l.4-2.4l.4-1.3l.4-1.2l.4 .9l.4-.9l.4-1.3l.4 1.3l.4-1.8l.4 1.5l.4-3.7l.4 .1l.4-2.4l.4-1.7l.4 .6l.4-.2l.4 2l.4-1.2l.4-.4l.4-2.9l.4-1.9l.4-.9l.4-1.3l.4 .4l.4 2.6l.4 3.3l.4-1.1l.4-.1l.4 .8l.4 .5l.4 .5l.4-1l.4 2l.4 0l.4 1.4l.4 .4l.4 3.4l.4-2.1l.4 .4l.4 1.7l.4 1.5l.4-.6l.4 3.2l.4-1.6l.4 2.7l.4-2.2l.4 .6l.4 1l.4 1.7l.4 .6l.4-1.4l.4 .8l.4 1.3l.4-1.8l.4 2.9l.4-1.2l.4-2.3l.4 1.7l.4 1l.4 .1l.4 .6l.4 0l.4 .7l.4-.7l.4 .2l.4-.9l.4 1l.4-1.2l.4 .9l.4 .3l.4 .5l.4 .6l.4 .3l.4-1.4l.4 .5l.4-1.2l.4 .5l.4-.6l.4-.9l.4 .1l.4-.8l.4 .2l.4 0l.4 .9l.4 .8l.4 1.3l.4-2.1l.4-.7l.4 .8l.4-.9l.4 .7l.4 .5l.4-.8l.4-.4l.4-.7l.4-1.1l.4-1.8l.4-1.2l.4 1.8l.4 1l.4-.3l.4-.4l.4 1.4l.4-1.5l.4 .6l.4-.8l.4-1.2l.4 1.3l.4 .8l.4-.7l.4-.8l.4 .9l.4 .2l.4 1l.4-.9l.4 .1l.4 1l.4-.8l.4 .4l.4 .3l.4-2.6l.4 0l.4-.7l.4 .3l.4 .3l.4-.7l.4 1.4l.4 1l.4 .5l.4-2.5l.4 1.3l.4-.5l.4 1.6l.4 .8l.4 .4l.4-.3l.4-3.1l.4 1.1l.4-.1l.4 0l.4-.1l.4 .5l.4-1l.4-1.5l.4 .5l.4 1.8l.4 .8l.4-2.1l.4 .1l.4-2.9l.4 .4l.4-1.3l.4 2.4l.4-2.6l.4 1.4l.4-4.8l.4 .6l.4 .8l.4-2.7l.4-2.6l.4-.3l.4-1.4l.4 1.4l.4-3.7l.4 1.8l.4-1.7l.4-.2l.4-1.1l.4-1l.4-1l.4-.7l.4-.8l.4 3l.4 .7l.4 .6l.4 .9l.4 2.9l.4 2.1l.4 1.2l.4-.3l.4 1.9l.4 .4l.4 1.1l.4 .1l.4 .1l.4 5.3l.4-1.2l.4 1l.4 1.7l.4-.8l.4 3.5l.4-1.3l.4-.4l.4-.9l.4 0l.4 .9l.4-2.1l.4 1.2l.4 1.4l.4-.7l.4-.5l.4 .2l.4-1l.4 1.1l.4 1.4l.4-.1l.4-1.5l.4 .8l.4-1.8l.4-.2l.4 3l.4-1l.4-.8l.4 .9l.4 2l.4-3.6l.4-.2l.4-.9l.4-.5l.4-1l.4 1.3l.4-1.1l.4-2.5l.4 4.9l.4-.7l.4 .1l.4 .1l.4-.6l.4 2.3l.4-1.4l.4 2.7l.4 .2l.4-1l.4 1.2l.4 1.3l.4 1l.4-1.4l.4-3l.4 3.3l.4-2.3l.4 .9l.4 1.3l.4 .1l.4 .1l.4-.6l.4 2.8l.4-2.9l.4 1.6l.4 1.4l.4-.7l.4-2.2l.4 3.4l.4 .3l.4-3.6l.4-.6l.4 1.6l.4-1.9l.4 1.3l.4 1.9l.4-1.4l.4 .3l.4-2.6l.4 2.4l.4-.3l.4-.1l.4 2.9l.4 1.7l.4-1.4l.4 1.4l.4-2.1l.4 1.2l.4 1.1l.4-2.4l.4-.3l.4-2.1l.4 .5l.4 2.5l.4-.2l.4-2.4l.4 .9l.4 1.1l.4 .5l.4-1.5l.4-.9l.4-.6l.4-.2l.4 1.1l.4 1.2l.4-1.9l.4 .5l.4 1.1l.4 .7l.4-.1l.4-.4l.4 .6l.4-.7l.4-.1l.4 .4l.4-2.8l.4 .2l.4-.6l.4-.2l.4 2.1l.4-1l.4 2l.4-3.3l.4 .6l.4 1.9l.4-1l.4 .5l.4-2.3l.4 2.6l.4-4.2l.4 .6l.4 .3l.4 1.1l.4-1l.4-2.1l.4 3.5l.4-3.1l.4 1.5l.4 .4l.4-3l.4-.1l.4 0l.4 .9l.4 4.2l.4-.8l.4-.8l.4-3.8l.4 1.5l.4-1.5l.4 2.4l.4 1.3l.4-2.4l.4-.8l.4 2.4l.4-2.3l.4 1.6l.4-.8l.4 0l.4-.1l.4-.2l.4 2.1l.4-1.6l.4 1.5l.4 .8l.4-.9l.4-1.3l.4-.9l.4-1.4l.4 1.6l.4-.7l.4-.2l.4 2.1l.4-3.1l.4-.6l.4-1.5l.4 .6l.4-.1l.4-2.2l.4 .8l.4 1.3l.4-2l.4 .6l.4 2.2l.4-3.9l.4 1.6l.4-.5l.4 .4l.4-1.4l.4-.4l.4 1.5l.4-2.9l.4-2.4l.4 1.7l.4 2.7l.4 4l.4 .5l.4 .5l.4-.8l.4 1.3l.4 1.9l.4-2.1l.4 2.7l.4 1l.4-2.6l.4 .8l.4 .2l.4 .7l.4 .7l.4 2.8l.4-.8l.4-1l.4-2l.4-.1l.4 .4l.4-1.4l.4-.6l.4-.3l.4-.8l.4 .6l.4 .3l.4-1.4l.4-1.6l.4 .5l.4 .2l.4 3.1l.4-.2l.4 1l.4 1.1l.4-1.8l.4 .3l.4 .6l.4-2.7l.4 .6l.4 2.4l.4-.6l.4 1l.4 .1l.4-.2l.4 .8l.4-1.5l.4-1.8l.4 1.1l.4-.5l.4 .5l.4-1.3l.4 1.3l.4-.1l.4-.1l.4-.8l.4 2l.4-2l.4 1.2l.4-1.3l.4-.1l.4-2.8l.4 3.8l.4-5.5l.4-.4l.4-.4l.4-1.5l.4-.5l.4-.7l.4-2.4l.4 1.3l.4-.5l.4-2.3l.4 .2l.4 1.5l.4 1l.4-.3l.4-1.1l.4 .3l.4 1.4l.4 .1l.4 5.7l.4-.1l.4 1.4l.4-.9l.4 1.8l.4-.2l.4 1.4l.4 .5l.4-.7l.4 .4l.4 1.3l.4-2.9l.4-.6l.4 .7l.4-.6l.4 1.9l.4-.8l.4 2l.4 0l.4-1.8l.4 .9l.4 1.6l.4-.2l.4-.6l.4 1.1l.4-1.4l.4 2.3l.4-.4l.4-.9l.4 .7l.4-2.5l.4 .8l.4 .6l.4-1.5l.4-1.6l.4 2.1l.4-1.6l.4-1.2l.4 1.2l.4-3l.4 .1l.4 .7l.4-2.7l.4-1.9l.4-.8l.4 .3l.4-1l.4 2.8l.4-2.8l.4 .3l.4 1.9l.4-1.2l.4 .5l.4-.1l.4 0l.4 .7l.4-1.6l.4-.4l.4 1.5l.4 3.6l.4 1l.4 1.2l.4 2l.4-1.2l.4-1.4l.4 1.1l.4 1.1l.4 .8l.4 .2l.4 .8l.4-.4l.4-.9l.4 4.5l.4-1l.4-.2l.4 1.2l.4 2.2l.4-2l.4 .5l.4 .1l.4-.2l.4-1.5l.4 2.6l.4-1.1l.4 .6l.4 2.1l.4-.9l.4 1.8l.4-2.6l.4 .5l.4 .1l.4 .5l.4-1.3l.4-1l.4-.3l.4-2.3l.4 .6l.4 2.7l.4 .8l.4 1.5l.4-1.6l.4 1.1l.4-.3l.4-2.3l.4 .5l.4-.8l.4 1.1l.4-.8l.4 .2l.4 .8l.4-.2l.4 1.5l.4-.9l.4 0l.4 0l.4-2.9l.4 .9l.4 1.1l.4-.4l.4 .5l.4-2l.4 .9l.4-2.1l.4 1.7l.4-1.1l.4 1.4l.4-1.5l.4 2.5l.4-1.1l.4-1.7l.4 1.4l.4 1.7l.4-1.5l.4 .2l.4-2.1l.4 1.5l.4-.1l.4-1.3l.4 .1l.4-1.9l.4 2.8l.4-2.3l.4-.6l.4 2.7l.4-.7l.4 .1l.4-2.1l.4-1.6l.4-.1l.4 2.4l.4-.9l.4 .8l.4 1.2l.4-.9l.4 .7l.4-.9l.4-1l.4 1.4l.4-1.8l.4 0l.4 1.3l.4-1.5l.4 .3l.4-.6l.4 .4l.4 .7l.4 1.3l.4-1.5l.4 .5l.4 3.4l.4-2.4l.4-.2l.4-1.5l.4 .9l.4 3.1l.4 .1l.4-1.8l.4 1.7l.4 1.3l.4 1.3l.4-1.4l.4-.2l.4-1.1l.4-.8l.4 3.2l.4 1.3l.4 0l.4 2l.4-.4l.4-2.3l.4 .8l.4 .8l.4-1l.4 .9l.4-.3l.4-.3l.4 3.6l.4-1.7l.4-2.1l.4-.4l.4-.2l.4 2.1l.4-1.5l.4 .4l.4-3.8l.4-.2l.4 2l.4-.2l.4 2.1l.4 .8l.4-.9l.4-1l.4 .8l.4-2.1l.4 1.5l.4-.8l.4 1.1l.4-1.9l.4-1.4l.4 1.4l.4-1.2l.4 2.3l.4-1.3l.4-.5l.4-.2l.4-.6l.4 2l.4-.9l.4 .8l.4-1.7l.4 .9l.4-1.6l.4 .3l.4 .6l.4-.1l.4-.3l.4 1.8l.4 1.2l.4-3.8l.4 1.7l.4-.4l.4-.9l.4-1.9l.4 3l.4-2l.4-.6l.4 1.3l.4 .3l.4 .9l.4 1.8l.4 .4l.4-2.9l.4 0l.4 1l.4 0l.4-.2l.4-1.2l.4 2.6l.4-1.7l.4-.5l.4 .7l.4-1.9l.4-.5l.4 .8l.4 2l.4-1.2l.4-2.3l.4-1.3l.4 1.9l.4-2.4l.4 1.1l.4 .1l.4-1.9l.4 1.3l.4 1.1l.4-1.4l.4 .2l.4 .7l.4-1.6l.4 .9l.4 2l.4 .9l.4 .5l.4 1.2l.4-1.2l.4-.3l.4 1.8l.4 2l.4-2.5l.4 2.9l.4-.7l.4-2l.4 2.8l.4-1.5l.4 .2l.4-2.2l.4 .4l.4-1.4l.4 2.3l.4-.4l.4 .8l.4-.9l.4 .3l.4 2.7l.4-2l.4 1.1l.4-1.9l.4 .9l.4-.9l.4 1.8l.4-1l.4-1l.4-2.2l.4 .4l.4 1.4l.4 .2l.4 2l.4-.2l.4-1l.4-1.6l.4 .1l.4 0l.4-1.4l.4 .7l.4-1.7l.4-2.5l.4 4.2l.4-1.8l.4-1.1l.4 .6l.4 .3l.4-1.2l.4 .5l.4 1l.4 .6l.4-.2l.4-3.7l.4 2.6l.4-1.8l.4 1.6l.4-4.2l.4 2.5l.4-.1l.4 0l.4-.9l.4-.2l.4-.3l.4 1.5l.4 2.5l.4-2.5l.4-1l.4 2.4l.4-2.3l.4 .4l.4 1.9l.4-1.6l.4-.3l.4-1l.4 1.4l.4-1.2l.4 .2l.4 0l.4 1.2l.4-2.2l.4 .2l.4-.6l.4 .9l.4-2.8l.4 3.4l.4 1.6l.4 .6l.4-1.5l.4-1l.4 1.4l.4 .4l.4 .8l.4 .3l.4-.9l.4-2.8l.4 2.2l.4-.7l.4 .1l.4 .6l.4-.5l.4-.4l.4 1.3l.4-1.1l.4 2.2l.4-2.1l.4 1.8l.4-2.2l.4 1.1l.4-.3l.4-.5l.4-.3l.4-.2l.4 1.6l.4-1.5l.4-1l.4-.2l.4 3.4l.4-.9l.4 2.6l.4 .2l.4-2.5l.4-.6l.4 1.8l.4 .1l.4 2.3l.4 .4l.4 1.5l.4-1.9l.4 2.5l.4 .2l.4-.2l.4 .5l.4 1.3l.4-3.8l.4 1.3l.4 1.9l.4-.7l.4-.8l.4 .4l.4-.9l.4-2.4l.4 2.9l.4-2.2l.4 0l.4-.9l.4-1.2l.4-.2l.4 .4l.4-2.1l.4 .5l.4-.9l.4 1.7l.4 .1l.4 1.9l.4-.7l.4 1.7l.4-.3l.4 .4l.4 .3l.4-2.5l.4 1.2l.4-1.3l.4-.4l.4 .8l.4 .7l.4-3.2l.4 2l.4 .9l.4-.9l.4-1.4l.4-2.1l.4 1.3l.4 1.7l.4 .4l.4-1.2l.4 0l.4 1.1l.4 1.3l.4 .2l.4-.4l.4-2.1l.4 1.8l.4-1.6l.4-.9l.4 2.8l.4 .8l.4-2.3l.4 4.5l.4-2.4l.4 1.4l.4-3.4l.4-.4l.4 .8l.4-.5l.4-1.3l.4 .4l.4 0l.4 4.8l.4-1.8l.4-1.7l.4-1l.4-1.7l.4 .5l.4 .4l.4-2.5l.4 .6l.4 1.3l.4 2.7l.4 2.3l.4-.7l.4 .3l.4-.6l.4-.1l.4-1.6l.4 .3l.4-.1l.4-2.2l.4 3.4l.4-1l.4 1.1l.4 .9l.4-.3l.4 .2l.4-.7l.4 2l.4 1l.4-1.3l.4-.8l.4 .2l.4-2.7l.4 2.5l.4 3.7l.4-1l.4-1.4l.4 .4l.4-.6l.4-1.3l.4 1.8l.4-1.5l.4 1.3l.4-.3l.4 1.9l.4 .4l.4-.5l.4 3.2l.4-1.6l.4 1.7l.4-3.1l.4-1l.4 .1l.4-1.1l.4 .4l.4 4.3l.4-3.2l.4-.3l.4 3l.4-.6l.4 .1l.4-.7l.4-.5l.4 1.5l.4-1.2l.4-2.2l.4 1.9l.4-1.3l.4-.6l.4 0l.4 1.8l.4-1.6l.4 1.5l.4 .5l.4-1l.4 .2l.4-1.7l.4 .6l.4 .5l.4-1.4l.4 1.4l.4-1l.4-2.8l.4-.5l.4 .8l.4-.1l.4 .9l.4 .5l.4-2.4l.4 2.5l.4-2.5l.4-.8l.4 .9l.4 3.3l.4 1.4l.4-.7l.4 0l.4-1.3l.4-1.3l.4 1.7l.4-2l.4 .4l.4 2.6l.4-3.5l.4 2.8l.4 .6l.4-.9l.4 1.4l.4-.3l.4-1.1l.4-.7l.4-2l.4 .8l.4 1l.4-.6l.4 1.9l.4-.2l.4-2.1l.4 .1l.4-.9l.4 2.9l.4 1.3l.4-3.3l.4 2.4l.4 1.6l.4-3.1l.4 2l.4-.8l.4-.2l.4 1.7l.4 .2l.4-1.9l.4 1l.4-.4l.4 1.1l.4 .7l.4-.4l.4-2.4l.4-1.8l.4 2.2l.4 .9l.4 .9l.4 .9l.4-.3l.4-2.1l.4 1.7l.4 .7l.4-2l.4 2.8l.4-5.3l.4 1.1l.4 .2l.4 2l.4-1l.4-1.5l.4-1.3l.4 1.5l.4-.3l.4 2.3l.4-3.3l.4-.4l.4-1.7l.4 .8l.4-2l.4 2.1l.4-1.1l.4-2.9l.4 1.6l.4 .8l.4-.3l.4 3.7l.4 1l.4 1.2l.4-.7l.4-1.9l.4 1.3l.4 .9l.4 1.3l.4 .8l.4 1.1l.4-.2l.4 .5l.4-1.3l.4 3.5l.4-2.5l.4-2l.4 0l.4-.7l.4 2.1l.4 .4l.4 1.8l.4-2.8l.4 2.7l.4-.5l.4-1.6l.4-.1l.4-2l.4 .6l.4-.4l.4 1.6l.4-.3l.4 1.4l.4 .6l.4-3.6l.4 2.1l.4 .5l.4 .1l.4-1.2l.4 .9l.4-.1l.4 1.5l.4-1.5l.4 1.3l.4 1.6l.4-3.2l.4 2.5l.4-.8l.4-2.1l.4 1.8l.4-.2l.4 1.4l.4-.8l.4-.5l.4-.3l.4 .8l.4-2l.4-.1l.4 1.1l.4-.6l.4 .2l.4 .7l.4-1l.4-1.5l.4-1.3l.4-.3l.4 3.1l.4 2.2l.4-3l.4 .4l.4 .6l.4-.9l.4 3.9l.4-1.7l.4-3.4l.4 2.1l.4-1.2l.4-.3l.4 0l.4-1.2l.4 .5l.4-1.3l.4 .2l.4 2.3l.4-1.1l.4 .6l.4-.1l.4-1l.4-1.2l.4 1.4l.4 1.4l.4-1.3l.4-1l.4 .3l.4-2.8l.4 .9l.4-.3l.4 .3l.4-.1l.4-1.4l.4-.4l.4 2.2l.4 .2l.4-.8l.4 .6l.4 1l.4-.9l.4-.4l.4-.5l.4 2.4l.4-1.4l.4 .1l.4-.6l.4 .2l.4-.2l.4 1.4l.4-3.3l.4 2.5l.4-1.5l.4 1.3l.4 .1l.4 1.1l.4-1l.4-.2l.4 .3l.4-.2l.4-.1l.4 .7l.4-1.1l.4 .8l.4 0l.4 .5l.4 .4l.4 0l.4-.1l.4 1.2l.4-.6l.4-1l.4 2l.4-.9l.4 .9l.4 1.8l.4-1.2l.4 .5l.4 1.5l.4 .3l.4 .6l.4-1.7l.4 .6l.4-.7l.4-.1l.4 .2l.4 1.3l.4 .9l.4-1.3l.4 .4l.4-.3l.4-2.7l.4 2.5l.4-.1l.4 .2l.4 .9l.4-1.1l.4 .5l.4-.7l.4-.1l.4 .7l.4-.1l.4 .9l.4-1.5l.4 2.4l.4-.5l.4 .2l.4-2.2l.4 .2l.4-1.1l.4 1.3l.4 .1l.4-.3l.4 1.4l.4-1.5l.4-.3l.4-.8l.4 .5l.4-.9l.4-.2l.4 1.3l.4-1.8l.4 1l.4 0l.4 1.8l.4-.5l.4-.3l.4 2.3l.4-3l.4 .3l.4-1.3l.4 1l.4 0l.4-.9l.4 .4l.4 .4l.4 .9l.4-.3l.4 0l.4 .4l.4-1.7l.4-.1l.4-.1l.4 .1l.4 .6l.4 .2l.4 .2l.4-1.2l.4 .4l.4 1.2l.4 1.2l.4-.1l.4-1.4l.4-.4l.4-.8l.4-.2l.4 1.8l.4 1.4l.4-2.9l.4 1.1l.4-.9l.4 .7l.4 1.9l.4-2.4l.4-1.6l.4 .1l.4 .5l.4-.5l.4 1.2l.4-.4l.4 2.7l.4-1.7l.4 1l.4 1.8l.4-1.6l.4-1.3l.4 .4l.4-2.1l.4 .9l.4-.3l.4 1l.4 .1l.4-.7l.4-.7l.4 .1l.4 1.5l.4-2.1l.4 1.4l.4 .8l.4 1.4l.4-2l.4 .7l.4-1l.4-1.3l.4 .5l.4 .6l.4 .2l.4-1.1l.4-.4l.4 1.5l.4 .2l.4-.8l.4 .3l.4-.4l.4 .2l.4 0l.4-.4l.4 .2l.4 2.1l.4-.7l.4 2.3l.4-1.5l.4-1.3l.4 .1l.4 .1l.4-.4l.4 .4l.4-.9l.4-.7l.4 1.1l.4-.9l.4 1.3l.4-.2l.4 .3l.4-2l.4 1l.4 1.3l.4 .3l.4 1.1l.4-2.2l.4-.7l.4-.2l.4 .9l.4 0l.4 .2l.4 2.1l.4-1.2l.4 2.7l.4-1.4l.4-1.7l.4 .5l.4-1l.4-.5l.4-.5l.4 2.6l.4-.8l.4 1.1l.4-.6l.4-1l.4 .9l.4-.4l.4 .1l.4 .3l.4 .3l.4-1.2l.4 1.3l.4 .5l.4 .9l.4 .5l.4-1.5l.4 .9l.4-.2l.4 0l.4 .3l.4-.3l.4-.9l.4 .7l.4-.7l.4 .3l.4-2.3l.4 .5l.4 .1l.4 1.4l.4 .9l.4-1.3l.4-.4l.4 .9l.4-.4l.4 1.9l.4 1.2l.4-2.2l.4 .6l.4-1.3l.4-1.4l.4 1.7l.4 1l.4-.1l.4-.7l.4 1.3l.4-2.5l.4-.3l.4 .7l.4 .3l.4-.2l.4 2.3l.4-3.1l.4 .4l.4 0l.4 .1l.4 .5l.4-.9l.4 .8l.4-.5l.4-.6l.4 1.7l.4 0l.4-.1l.4 .4l.4 .7l.4-1.2l.4 .4l.4-.1l.4-.9l.4 1.2l.4-.4l.4-.3l.4-1.4l.4-.3l.4 1.4l.4-1.3l.4 1.4l.4 .6l.4-2.8l.4 1.3l.4-2.2l.4 1.4l.4 1l.4 .8l.4-1.6l.4 0l.4 1.1l.4 .6l.4 1.3l.4-1.5l.4 .9l.4-2.4l.4 1.6l.4 1.6l.4-.7l.4-.6l.4-.4l.4 .5l.4-1.6l.4 .4l.4-1l.4 1.1l.4-.4l.4 .3l.4 2.1l.4-.4l.4-.5l.4-.2l.4-2.2l.4-1.3l.4 .7l.4 1.5l.4-.3l.4 .8l.4 .9l.4-1.8l.4-.3l.4 1.1l.4 .7l.4-.8l.4-.2l.4-.9l.4 1.8l.4-1.7l.4 .4l.4 1.7l.4-.9l.4 .5l.4-.6l.4 .4l.4-.1l.4-.8l.4 1.9l.4-2.2l.4 .4l.4 1.6l.4-1.5l.4-1l.4 1.7l.4-.8l.4 .7l.4 .8l.4-1l.4-1.8l.4 1.7l.4 .3l.4-.9l.4 .8l.4-.5l.4-.2l.4-2.5l.4 .9l.4 .2l.4 1l.4 .3l.4-.1l.4-.7l.4-.1l.4 .3l.4 1.5l.4 .7l.4-.5l.4-1.8l.4-.2l.4-.4l.4 1.2l.4-.5l.4 1.1l.4-.2l.4 1l.4-.8l.4-.5l.4 .8l.4-.2l.4-.4l.4-1.7l.4 1.6l.4 1.5" fill="none" stroke="#00ffff" stroke-width="1.35" stroke-linejoin="round"/>
<path d="M231.7 1085.2l.4-.8l.4 .2l.4-.1l.4 1.4l.4-1.7l.4 1.9l.4-1.9l.4 .6l.4-.5l.4 .4l.4-1.7l.4 1.1l.4 .4l.4 1l.4-1.4l.4 .3l.4-.2l.4 .7l.4 .8l.4-1.4l.4 .7l.4-.6l.4-.3l.4 .5l.4-.9l.4 .5l.4 .1l.4-.1l.4 .7l.4-.5l.4-.3l.4-.3l.4-.4l.4 .6l.4 .7l.4-.4l.4 .9l.4-.1l.4-.7l.4 0l.4-.1l.4 .3l.4 1l.4-.7l.4-.9l.4 .6l.4 1.8l.4-1.3l.4 0l.4-.2l.4-.8l.4-.8l.4 1.2l.4-.2l.4 0l.4 .5l.4-.2l.4-1l.4 .8l.4-1.5l.4 1.3l.4-.3l.4-.4l.4 1l.4-1l.4 1.3l.4 .4l.4-.2l.4-1.8l.4-.6l.4 .1l.4 1.3l.4 .7l.4 .5l.4-1.3l.4 .9l.4 .4l.4-1l.4-.1l.4-.8l.4 .2l.4 .2l.4 .3l.4-.2l.4 .1l.4-.6l.4 1.4l.4-.4l.4 .4l.4 1l.4-1.1l.4-.4l.4-.2l.4 .8l.4 .6l.4 .1l.4 .3l.4-1.4l.4 .2l.4-1l.4 .5l.4 .1l.4-.2l.4-.8l.4 1.3l.4-.1l.4-1.3l.4-.2l.4 0l.4-.8l.4 1.6l.4 .5l.4-1.1l.4 1.1l.4-1.1l.4 1l.4-.6l.4 1l.4-.7l.4-.1l.4 .1l.4 1.7l.4 .4l.4-2.2l.4 .6l.4-.3l.4-.1l.4-1.5l.4 2.4l.4-1l.4-1l.4-.1l.4 .6l.4 .9l.4-.7l.4 .4l.4-.8l.4 .9l.4-1l.4 .1l.4-1.3l.4 1.1l.4 .6l.4-.1l.4 .4l.4-1l.4-.5l.4 0l.4 .5l.4 .2l.4-.7l.4 2l.4 .1l.4-1.1l.4-.2l.4 .2l.4 .6l.4-.7l.4-.7l.4-.6l.4-.1l.4 1.3l.4-1l.4 1l.4-.4l.4 .1l.4 .2l.4 1.1l.4-3.7l.4 1.1l.4 0l.4 1.2l.4-3.4l.4-1.1l.4-1.7l.4-.4l.4-2.9l.4-.8l.4-2l.4-1.5l.4 1.7l.4 1.6l.4 1.5l.4 .2l.4 1l.4 2.2l.4 1l.4 .4l.4 0l.4 1.3l.4-.1l.4 1.3l.4-.7l.4-1.2l.4-3l.4 1.8l.4-.8l.4 .9l.4 1.6l.4 0l.4 2.1l.4-.8l.4 2.3l.4-5.6l.4-1.4l.4-.1l.4-.4l.4 .3l.4 3.8l.4-2l.4 0l.4 3.4l.4-1.4l.4-.7l.4 .1l.4 .2l.4-2.6l.4 1.8l.4 .6l.4 1.5l.4-.2l.4 1.3l.4-1.5l.4-1.2l.4 3.2l.4-4l.4 .2l.4-1.3l.4 2l.4 1.3l.4-.1l.4 .9l.4 .9l.4-2.9l.4-1l.4-.7l.4 1.5l.4 .1l.4 1.9l.4-.9l.4-1.7l.4-.2l.4-.1l.4 .6l.4 3.1l.4 .7l.4-2.1l.4 3.1l.4-4.1l.4 .4l.4-.9l.4-3.4l.4 4.4l.4-1.5l.4-1.2l.4 3.9l.4-2.4l.4-.7l.4-.9l.4 1.7l.4-1.3l.4 2.7l.4-.3l.4-.9l.4 1.9l.4-.9l.4-1.2l.4 0l.4-.9l.4 1.4l.4 1.8l.4-.3l.4-.9l.4-1.6l.4 .9l.4-.6l.4 2.9l.4-1.3l.4 .2l.4-3.3l.4 1.1l.4-.3l.4 2l.4 .6l.4 .4l.4 .4l.4-1.2l.4-1.9l.4 .4l.4 .4l.4-.2l.4 1.3l.4-.8l.4-.5l.4-.1l.4 .1l.4 .7l.4-1.1l.4 2.3l.4 .8l.4-4.2l.4-.6l.4-.2l.4 .4l.4 2.7l.4-.8l.4-1l.4 1.5l.4-1.5l.4 1l.4-.8l.4 1.8l.4-3.5l.4 4.3l.4-1.4l.4 .3l.4-.4l.4 .2l.4-.1l.4-.2l.4-1.6l.4-.5l.4-2.3l.4 1.2l.4 1l.4-1.4l.4 2.7l.4-1.5l.4 1.2l.4-1.6l.4 .6l.4-1l.4 .9l.4 1.2l.4-2.3l.4-2l.4-.6l.4 1.2l.4 0l.4 .6l.4 2.2l.4-2.5l.4 1l.4 .2l.4 1l.4-2l.4 .4l.4 .8l.4-2.6l.4 3l.4-.1l.4-.4l.4 2.7l.4 .3l.4-.3l.4 .1l.4-1.6l.4-.9l.4 .2l.4-1.4l.4 2.3l.4-4.8l.4 4l.4 2.2l.4 .3l.4 1l.4-4.5l.4 1.7l.4 .5l.4-1.4l.4-1.2l.4 1.7l.4-1.4l.4 3l.4-1.6l.4 1.4l.4-3.7l.4 0l.4 4.2l.4 .3l.4-.4l.4-2.1l.4 1l.4 .3l.4-2.1l.4 .3l.4-.5l.4-.2l.4 1.4l.4-2.8l.4 5.1l.4-.9l.4 .8l.4 .3l.4 .2l.4-4.5l.4 3.6l.4-.9l.4 1.8l.4-3.4l.4 1.7l.4-1.9l.4 2.2l.4-1.8l.4-.3l.4-.7l.4 .8l.4 .7l.4 1.4l.4-2.8l.4 2.3l.4 .6l.4-1.8l.4-1l.4-.1l.4 .4l.4 .8l.4-.9l.4-2.2l.4 2.2l.4 3.7l.4-1.7l.4-.8l.4 2.1l.4-3.5l.4-1.7l.4 .8l.4 1.6l.4 .9l.4 1.9l.4 .6l.4 0l.4-3l.4 2l.4-.1l.4-1l.4 1.2l.4 .2l.4 1l.4-2l.4-1.5l.4-1.2l.4 1l.4-1.7l.4-.7l.4-1.6l.4 1.9l.4-1.7l.4 1.3l.4-2.2l.4 1.7l.4-1.7l.4-1.1l.4 3l.4-1.4l.4 1.8l.4 2.8l.4 0l.4 .1l.4 .2l.4-1.6l.4 1.8l.4-.6l.4-.3l.4 1.4l.4-.1l.4 2.1l.4-.7l.4 .4l.4 1.6l.4-1l.4-.3l.4 1.1l.4-2.6l.4-.1l.4-1.1l.4 .4l.4 1.5l.4-.9l.4 1.4l.4-1.2l.4 1.1l.4 1.1l.4 .2l.4-2.2l.4 1.6l.4 1l.4-.2l.4-1.5l.4 .7l.4 .9l.4-.6l.4 1.9l.4-2.4l.4 1.3l.4 .9l.4-3.8l.4 1.5l.4 .7l.4-1.6l.4 2.6l.4-2.3l.4 .6l.4 .4l.4-.1l.4 1.6l.4 1l.4-2.1l.4 1.5l.4-.2l.4-2.3l.4 1.1l.4-2.6l.4 1.4l.4-1.6l.4-.3l.4 1.7l.4-.1l.4 .9l.4 0l.4-1.8l.4 2.5l.4 2.1l.4 .2l.4-.6l.4 .5l.4-2.5l.4 .6l.4 1.3l.4-.6l.4-3.6l.4 .5l.4 1.1l.4 0l.4 1.1l.4 .7l.4-2.4l.4-2.2l.4 .9l.4-.5l.4 .8l.4-1l.4 3.8l.4-4.7l.4 .2l.4 2.2l.4 1.6l.4 1l.4-2.3l.4 .8l.4-.7l.4 2.4l.4-3.3l.4 1.2l.4 1.4l.4 0l.4 1.8l.4-2.2l.4 1.6l.4-.2l.4-.8l.4 .4l.4-1l.4-2.6l.4 5.3l.4 0l.4-2.1l.4-2l.4 .7l.4-2.4l.4 1.5l.4 .9l.4 1.3l.4-1l.4-.3l.4-1.5l.4-.7l.4-.8l.4 2.5l.4 0l.4-2l.4-.4l.4 1.7l.4 .6l.4 .9l.4 2.8l.4-3.8l.4 0l.4-5.8l.4-.1l.4-.5l.4 .9l.4 3.3l.4-1l.4 2.6l.4-.3l.4 .4l.4-1.5l.4 2.2l.4-1.4l.4 3.4l.4-2.2l.4 .5l.4-2.3l.4-.3l.4 2l.4 1.1l.4 .1l.4 1.7l.4-2.1l.4 .4l.4-2.1l.4-.1l.4-1.3l.4-.4l.4 3.5l.4-4.3l.4 1.6l.4-2.1l.4 1.3l.4-2.1l.4 2.2l.4-2.3l.4-1.5l.4-1.6l.4 .2l.4-.9l.4 3.2l.4-2.5l.4 2.7l.4 3l.4-.6l.4 1.3l.4 .2l.4 1.5l.4-.3l.4 2.3l.4-1.2l.4 1.6l.4 1.5l.4 .2l.4-1.6l.4 .4l.4-1.7l.4 .5l.4-3.6l.4 2.1l.4-1.7l.4 1.2l.4 2.4l.4-.8l.4 2.6l.4-.8l.4-3.2l.4-.1l.4 .2l.4-.9l.4 .2l.4-1.2l.4 1.6l.4-2.5l.4 4l.4-.7l.4 2.2l.4-.2l.4-1l.4 2.7l.4-2.2l.4 1l.4-2.9l.4 2.2l.4 .3l.4 .2l.4-.4l.4-.9l.4-.6l.4 .1l.4-1.6l.4 1.2l.4 .7l.4-2.1l.4 .8l.4 3.8l.4-.8l.4-4l.4 .8l.4-.1l.4 .6l.4-2l.4-.9l.4 .4l.4-1l.4 1.4l.4-.5l.4 .3l.4-.9l.4-.2l.4-4l.4 0l.4 .5l.4 2.5l.4 1l.4 2.4l.4 .4l.4 .7l.4-2.4l.4 4.3l.4-2.6l.4-.1l.4 1.7l.4-1.4l.4 1.6l.4-.8l.4 .3l.4 2l.4-1.4l.4 2.2l.4 .4l.4-1.7l.4-.1l.4 1.9l.4-3.4l.4-1.3l.4-3.2l.4 2.9l.4-.1l.4 1.4l.4 .4l.4 .6l.4 .8l.4-.9l.4 1l.4-1.9l.4 1.1l.4 .3l.4 1.7l.4-1.5l.4-2.3l.4 .9l.4 1.6l.4-1l.4-3l.4 .7l.4 .7l.4 .7l.4-.5l.4-.6l.4 1l.4-.3l.4 3.4l.4-1.5l.4 .4l.4-3.6l.4 1.6l.4-.5l.4 1.2l.4 1.4l.4 1l.4-2.3l.4-.1l.4-2.5l.4 0l.4 3.2l.4-1l.4-3.4l.4 2.7l.4 .5l.4-2l.4 3.2l.4 .2l.4 .3l.4 .3l.4-2.3l.4 .8l.4 .1l.4-.3l.4 1l.4 1.8l.4-2.8l.4 2.5l.4-1.9l.4 .6l.4 .7l.4 .7l.4-3.3l.4 1.8l.4 .3l.4-1.5l.4 .8l.4-2.7l.4 3.5l.4-.8l.4 .2l.4-.7l.4-2.9l.4 3.1l.4-3.9l.4 3.2l.4-.6l.4 3.2l.4 1.8l.4-4.4l.4 2.1l.4-2.7l.4-.6l.4-.1l.4 1.1l.4-1.5l.4 .6l.4-2.1l.4 .8l.4 2.1l.4 .5l.4 3.7l.4-2.5l.4 1.2l.4-1.1l.4-1.1l.4 .1l.4 .3l.4-.7l.4-.8l.4-2l.4-.6l.4 1.7l.4 1.5l.4 .7l.4 .7l.4-1.8l.4 .3l.4 .9l.4-.8l.4 1.1l.4 1.1l.4 .8l.4-2.8l.4 .8l.4-2.1l.4 .8l.4 1.3l.4-1.4l.4 1l.4-3l.4 1.1l.4 .7l.4-3.8l.4-.1l.4 2.5l.4 2.5l.4-.9l.4-1.2l.4-.5l.4 1.3l.4-.9l.4 1.5l.4-2.1l.4 .4l.4 .9l.4-.3l.4 .2l.4 0l.4 .6l.4-3.2l.4 .9l.4-.1l.4 1l.4-.6l.4 1.2l.4 .2l.4 .1l.4-2.5l.4 3.7l.4-.4l.4-.9l.4 1.5l.4-1.1l.4-.6l.4 .1l.4-.9l.4 .4l.4 .9l.4-1.1l.4-.6l.4-1.4l.4-1.4l.4 1.6l.4 3.4l.4-2.2l.4-.6l.4 .6l.4-2.1l.4-.2l.4 2.6l.4-2.9l.4 2.8l.4-2.8l.4-1.3l.4 1.3l.4-4.4l.4-2l.4-2.5l.4-1.8l.4-.8l.4-4.9l.4-1.8l.4 .5l.4-2.8l.4 5.9l.4-1.3l.4 5l.4 2l.4-.4l.4 5.3l.4 2l.4-.1l.4-.4l.4-.2l.4-.7l.4 0l.4 3l.4-.5l.4 3.1l.4-1.2l.4-2.7l.4-.1l.4-1l.4 1.1l.4 2.1l.4-2.1l.4 1l.4-2.2l.4-1.4l.4 .8l.4 .4l.4-1.7l.4 .8l.4 .9l.4 .3l.4-2.1l.4 .3l.4-3.1l.4-.6l.4-.2l.4-2.4l.4-3.8l.4-2.8l.4-4.3l.4-6.3l.4-13.2l.4-11.5l.4-15.9l.4-19.6l.4-21.6l.4-26.8l.4-21.7l.4-16.4l.4-11.8l.4-3.1l.4 3l.4 3.2l.4 6.5l.4 3.1l.4-.4l.4-.7l.4-3.1l.4-5.5l.4-3.7l.4 0l.4 3.8l.4 10.2l.4 13.2l.4 16.1l.4 16.4l.4 24.6l.4 16.6l.4 14.8l.4 16.2l.4 13.1l.4 10.6l.4 8.7l.4 3.5l.4 4.2l.4 2.1l.4 1l.4 1.3l.4 1.5l.4 0l.4-3.4l.4-1.3l.4-1l.4-2.5l.4-1.4l.4 .2l.4-.9l.4-2l.4-.6l.4 3.3l.4 2.7l.4 3.1l.4 1l.4 .1l.4 4.3l.4 .6l.4 1.5l.4-.4l.4 1.5l.4 2.1l.4 0l.4 2.5l.4-.3l.4-1.8l.4-.7l.4 3.4l.4 .7l.4-1.7l.4 2.3l.4-2.4l.4-.5l.4 1.2l.4 1.5l.4 .4l.4-.1l.4-.8l.4-.1l.4 .5l.4-1.7l.4 1.5l.4-2.8l.4 0l.4 1.3l.4-.5l.4 1.9l.4-1.5l.4 2l.4 .4l.4 2.7l.4-4.3l.4-.7l.4-.5l.4-2.4l.4 3.8l.4 .9l.4-1.1l.4-2.5l.4 .6l.4 1.6l.4 .2l.4 1l.4-3.6l.4 .5l.4 1.4l.4-3.5l.4 2.4l.4 1.5l.4 1.8l.4 1.4l.4 0l.4-1.4l.4-1.7l.4-2.1l.4 .6l.4-1.3l.4-.9l.4-1l.4 1.9l.4 .6l.4 1.2l.4 2.5l.4-1.9l.4-1.9l.4 1.5l.4 .1l.4 .7l.4-2.6l.4-5.2l.4-2l.4-2.2l.4-5.8l.4-.7l.4-3.6l.4-6.9l.4-4.6l.4-3.2l.4 1.7l.4-.6l.4 2.3l.4 4.4l.4 4.6l.4 2.7l.4 8.9l.4 3l.4 2.2l.4 2.1l.4 .8l.4-.1l.4 1.3l.4 .4l.4 .5l.4-2.6l.4-.7l.4 1.7l.4-3.3l.4 1.1l.4 2.4l.4-1.1l.4-.1l.4 2.3l.4-.3l.4 3.2l.4-3.3l.4 2.5l.4-.2l.4 .3l.4 1.3l.4 .5l.4-1.8l.4 2.1l.4-.8l.4 1.9l.4-4.1l.4 2.1l.4-4.7l.4 3.6l.4-.1l.4 .2l.4 1.4l.4 1.3l.4 .8l.4-1.7l.4-2.3l.4 1.1l.4 3.3l.4-1.3l.4 .8l.4-.5l.4-.2l.4-.5l.4-.3l.4 .2l.4-2.5l.4-.4l.4-.5l.4-.8l.4-1l.4 3.8l.4-1.8l.4-1.1l.4-1.2l.4-.9l.4-.6l.4 .9l.4 2l.4 1.2l.4-2.2l.4 1.2l.4-1.6l.4 .8l.4 1l.4-1.8l.4-.9l.4-1.5l.4-1l.4-.9l.4-1l.4-4.2l.4-2l.4-3.5l.4-6.2l.4-1.8l.4-8.5l.4-7.1l.4-16.1l.4-15.2l.4-21.1l.4-20.6l.4-21.8l.4-18.9l.4-19.2l.4-12.1l.4-9.4l.4-1.4l.4 4l.4 10.4l.4 12l.4 16.8l.4 17.3l.4 15.9l.4 15.6l.4 9l.4 8.2l.4 6.3l.4-1.3l.4-1.1l.4 1.9l.4-1.9l.4 2l.4 4.8l.4 8.5l.4 6.5l.4 8.1l.4 8.7l.4 7l.4 5.6l.4 4.8l.4 5.8l.4 4.5l.4 1.2l.4 3.2l.4 4.4l.4 1l.4-1.2l.4 2.1l.4-.4l.4 .8l.4 .7l.4 1.2l.4-.2l.4 1.5l.4-1.4l.4 .3l.4 1l.4-2.6l.4-1.7l.4-2l.4-2.9l.4-.7l.4 1.2l.4 .3l.4 3.3l.4 1.2l.4 2.9l.4 2.7l.4 .2l.4 2.7l.4-.8l.4-.9l.4 2.7l.4 1.5l.4-2.8l.4 2.6l.4-1.7l.4 1.1l.4-.2l.4 3.8l.4-1.2l.4-.5l.4 3.2l.4-1.6l.4 .1l.4-.9l.4 2.6l.4-.4l.4-1.8l.4-1.6l.4-1l.4 3.3l.4 .1l.4-2.7l.4 1.2l.4-.7l.4-1.6l.4 1.2l.4-.8l.4-1l.4 .5l.4 1.7l.4-1.3l.4 1l.4 .1l.4-.6l.4-.1l.4-.9l.4 .7l.4-2.2l.4 1.4l.4 4.6l.4-1l.4 .4l.4 .9l.4-2.6l.4-.6l.4 .8l.4-2.4l.4 1.9l.4 1.7l.4-1.1l.4-1.9l.4 1.1l.4 .4l.4-.4l.4-1.3l.4-.6l.4 1.5l.4-.4l.4 .6l.4 .7l.4-1l.4 .5l.4-4.4l.4 2l.4-.9l.4-4l.4-3.1l.4-1.7l.4-3.5l.4-5.5l.4-3.6l.4-6.9l.4-6.1l.4-8.8l.4-4.4l.4-7.8l.4-5.1l.4-1.6l.4 1.9l.4 3.3l.4 3.7l.4 4.8l.4 5.3l.4 8.1l.4 3.9l.4 7.2l.4 2.2l.4 2.3l.4-1.2l.4-1.2l.4-4.1l.4-7.1l.4-8.6l.4-7.2l.4-8.1l.4-6.2l.4-7.3l.4-3.8l.4-.9l.4 1.4l.4 3.1l.4 8l.4 9.3l.4 9.2l.4 8.4l.4 7.8l.4 7.8l.4 2.7l.4 4.7l.4 3.3l.4 3.1l.4 2.4l.4 2.7l.4 1.9l.4-.5l.4-2.1l.4 2.2l.4-2.4l.4 1.2l.4-1.2l.4 2.4l.4 0l.4 2l.4 .3l.4-1.2l.4-1.1l.4 .9l.4-1.2l.4 3l.4-.6l.4 .1l.4 .5l.4-.3l.4-.8l.4-.3l.4 1.2l.4-1.6l.4 3.3l.4-4.1l.4 2.5l.4-1.3l.4 1.4l.4 .7l.4-.3l.4-2l.4-1.7l.4 2.3l.4-1l.4-.4l.4 .1l.4 3.3l.4-2.3l.4 1.9l.4-1.3l.4 2.2l.4-2.4l.4-3.1l.4 5.7l.4-2.4l.4 2l.4-.7l.4 .1l.4-1.9l.4 1.4l.4 .7l.4-1.6l.4 2l.4 1l.4-.2l.4-.2l.4 1l.4-1.5l.4 1.5l.4-2.3l.4 .1l.4 1.5l.4-.7l.4-3.1l.4 .6l.4 3.8l.4 1l.4-.4l.4-1.4l.4-1.2l.4-1.4l.4 2l.4-1.9l.4 2.3l.4-.4l.4 2l.4-.5l.4-1.5l.4 .3l.4-2.6l.4 .1l.4-.7l.4-.2l.4 .8l.4 2.3l.4-2.9l.4 2.8l.4 .2l.4 .2l.4 3.2l.4-2.2l.4 .3l.4 .7l.4-2.7l.4 3.2l.4-1l.4-1.6l.4-1.9l.4 1.8l.4 .5l.4-.8l.4 1.8l.4 0l.4-1l.4 1.1l.4 .8l.4-2.4l.4 1.3l.4-2l.4-1.8l.4 2.1l.4 .2l.4 .2l.4 4.6l.4-.6l.4 .4l.4-4.1l.4 .2l.4-2.9l.4 1.9l.4 1.9l.4 1.9l.4 1.3l.4-1.2l.4-1.1l.4 1.4l.4-1.1l.4 1l.4-2.6l.4 1.2l.4-.3l.4 2l.4-.1l.4-.2l.4-2.8l.4 2l.4 1.3l.4-1.1l.4-2.4l.4-.7l.4 2l.4-1.4l.4 .2l.4 2.3l.4-1l.4-.6l.4-.1l.4 2.3l.4-4.3l.4 2.2l.4-2.8l.4-1.4l.4 3l.4-1.8l.4 2.4l.4-.7l.4-1.4l.4-.5l.4 .4l.4-2.9l.4-1.5l.4-2.9l.4-2.7l.4-3.4l.4-3.3l.4-6.5l.4-3l.4-6.9l.4 0l.4-3.2l.4-2.9l.4 4.3l.4 1.1l.4 3.6l.4 3.6l.4 4.2l.4 5.9l.4 3.2l.4 3.6l.4 5.3l.4-2.1l.4 2.3l.4 1.6l.4 2.6l.4 .3l.4-.3l.4 .4l.4 2.1l.4 .2l.4-.4l.4-3l.4 1.7l.4-.8l.4 1.3l.4 .2l.4 .5l.4 1.3l.4 .9l.4-1.6l.4-.1l.4 .3l.4-1l.4 1.6l.4 0l.4 0l.4 .2l.4 2l.4 .4l.4-2.3l.4-1.7l.4 1.7l.4 .1l.4 .6l.4 2.2l.4-1.8l.4-3.3l.4 .4l.4-1.6l.4-2.2l.4-.7l.4 3.4l.4 .9l.4 .7l.4-2.4l.4 1.9l.4 1.3l.4-2.6l.4 2.4l.4-.9l.4 1.7l.4-3.9l.4 3.1l.4 2.2l.4-3.1l.4 .4l.4 2.2l.4-.9l.4 3.8l.4-1.1l.4-2.2l.4 1.5l.4-3l.4 3.5l.4-3.9l.4-.6l.4 .9l.4 .3l.4 2.8l.4-1.1l.4 .9l.4 1.1l.4-1.7l.4-.3l.4-1.9l.4 1.7l.4 0l.4-1.3l.4-.8l.4-.4l.4 .6l.4 1.5l.4-1.6l.4-.2l.4-1.6l.4 0l.4 0l.4 2.4l.4-.3l.4-1.1l.4 .9l.4-.6l.4 1.3l.4-.1l.4 .4l.4 1.4l.4-2.6l.4-1l.4 3.1l.4-.8l.4 .2l.4-1.4l.4-1.3l.4 .8l.4-1.5l.4 1.1l.4 2.7l.4-1.2l.4-1.8l.4-1.9l.4 0l.4 1.6l.4-1.2l.4 .4l.4 3.3l.4-3l.4 1.1l.4-.8l.4-2.5l.4 .5l.4-1.4l.4-1.3l.4-.2l.4 2.2l.4-2.1l.4 3l.4-1.7l.4 1.8l.4 1.4l.4-1.4l.4-1.5l.4 .4l.4 1.6l.4 .2l.4-.2l.4-.7l.4 3.6l.4-1l.4 .6l.4-.4l.4-.7l.4 1l.4-.4l.4-2l.4 4.2l.4-2.9l.4 2.9l.4-1.7l.4-2.4l.4 3.7l.4-1.8l.4 .1l.4 1.9l.4-.1l.4-6l.4 2.4l.4-.3l.4 2.6l.4 1.4l.4-4.7l.4 .1l.4-4l.4 2.6l.4-3.6l.4-1.3l.4-1l.4-2.7l.4 1.7l.4-3.2l.4 2.1l.4-3.2l.4 1.6l.4 1.4l.4 .8l.4 3l.4-.3l.4 3.5l.4 .2l.4-2.9l.4 6.4l.4-1.4l.4 .8l.4-1.4l.4-3.3l.4 2.9l.4-.8l.4 2.2l.4-.3l.4 .7l.4-1.4l.4 1.5l.4 .6l.4 .5l.4-2.7l.4 1.1l.4 1.9l.4-2.2l.4 1.7l.4 .5l.4-1.4l.4 2l.4-.4l.4 2.5l.4-2.4l.4-1.7l.4 1.2l.4-2.5l.4 .4l.4-.7l.4-1l.4 1.8l.4 2.6l.4-1.1l.4-2.2l.4-.9l.4-3.1l.4-2.3l.4 1.2l.4 .6l.4-2l.4-1.8l.4-2.8l.4-.5l.4-3.8l.4-4.6l.4-3.9l.4-2.4l.4-1.1l.4-4.5l.4-2.3l.4 1.1l.4 .2l.4 1.8l.4 2.8l.4-.1l.4 4.6l.4-2.5l.4 1.2l.4-.3l.4 .3l.4 1.2l.4 1.8l.4 1.6l.4 2l.4 .3l.4 .9l.4 4.6l.4 0l.4 1.6l.4 3.7l.4 2.2l.4 .4l.4 .5l.4 .2l.4 .6l.4 0l.4 .1l.4 .2l.4 2.8l.4 .2l.4 2.4l.4-1.6l.4 1l.4-1.8l.4-3.1l.4 1.9l.4 1.8l.4 .6l.4 .4l.4 .2l.4-4.1l.4 2.3l.4-2.4l.4-3.8l.4 .9l.4 .7l.4-4.1l.4 1.4l.4-1.5l.4-6.4l.4 .7l.4-3.3l.4-3.7l.4-2l.4-2l.4-.8l.4-.4l.4 1.8l.4 2.3l.4 1.9l.4 .7l.4 3.9l.4 2.4l.4 3.8l.4-1.1l.4 1.9l.4 1.4l.4 2.7l.4 1.9l.4 .9l.4 1.5l.4 1.3l.4-2l.4 .3l.4-.4l.4 .1l.4 3.4l.4-.5l.4 3.3l.4 .3l.4-3.8l.4 .2l.4-.7l.4 .1l.4 .5l.4 1.5l.4-1.3l.4 .7l.4-.7l.4-2.2l.4 2.1l.4-2.7l.4-1.6l.4-1.2l.4 .3l.4-1.5l.4 .8l.4-2.9l.4-5.4l.4-1.9l.4-1.3l.4-3.2l.4 1.9l.4-.4l.4 1l.4 1.3l.4 3.1l.4 4.5l.4 1.8l.4 1.9l.4 .1l.4 3.3l.4 0l.4-.7l.4 2.3l.4-1.7l.4-1.9l.4 3.2l.4-2.4l.4 .1l.4 .6l.4-1.5l.4-.2l.4-6.8l.4-3.2l.4-2.5l.4 .3l.4 1.4l.4 4l.4 3.4l.4 3.3l.4 .2l.4 1.8l.4 0l.4-3.1l.4 2.4l.4-2l.4 1.7l.4 2.1l.4-.5l.4-.2l.4-4.6l.4-1.3l.4-2.4l.4-.9l.4-.8l.4 1.2l.4-3.1l.4 .1l.4 .2l.4 2.9l.4 .2l.4 2.7l.4 .2l.4-.4l.4 1.9l.4 .1l.4 2.3l.4-.3l.4-.5l.4-.8l.4 2.5l.4 .3l.4-.6l.4-.7l.4-2.3l.4 1.2l.4-3.7l.4 1.4l.4 1.3l.4 3.1l.4-.7l.4 .4l.4-1.8l.4-1.9l.4 3.2l.4-.8l.4-1.2l.4 2l.4 .5l.4 .7l.4-3.2l.4-2.5l.4 1.7l.4-2.7l.4-.7l.4-.1l.4 .9l.4 3.5l.4-4.2l.4 3.1l.4-.1l.4 .2l.4 3.9l.4-.6l.4-.3l.4 3.8l.4-4.6l.4 1.1l.4-.3l.4 0l.4-.7l.4 0l.4 .2l.4-1.7l.4 1.2l.4 .9l.4-1.1l.4-.8l.4 1.7l.4-.1l.4 .5l.4 .3l.4 1.5l.4 2.1l.4 .3l.4-2.1l.4-2l.4 1.3l.4 1.2l.4-.3l.4 4.3l.4-1.6l.4 .1l.4-1.9l.4-.9l.4 .4l.4 .8l.4-.5l.4 1.7l.4-.1l.4 1.2l.4-1.5l.4-.9l.4 1.5l.4 .8l.4-1.1l.4-2.5l.4 1.9l.4 1.2l.4 .3l.4-.2l.4-1l.4 1.4l.4-2.4l.4 3.2l.4-1.5l.4-.4l.4-.2l.4-2l.4 1.9l.4-1.5l.4 .5l.4-2.5l.4-1.9l.4-1.9l.4 2l.4-4.4l.4 .9l.4-.4l.4-1.9l.4 1.6l.4 .2l.4 3.5l.4-.9l.4 2.4l.4 .2l.4-.7l.4 .8l.4 2l.4-.1l.4-1.1l.4 1.9l.4-.8l.4 4.8l.4-.4l.4-.9l.4 1.4l.4 1.1l.4-.9l.4-.7l.4 1.2l.4-2.5l.4 .6l.4-2.5l.4 1.7l.4-1.2l.4 1.2l.4-3.6l.4 1.9l.4 .6l.4 1l.4-1.8l.4-.4l.4 .8l.4 0l.4 2.2l.4-1l.4-.1l.4 .8l.4-3.6l.4 1.2l.4-.8l.4-2.3l.4-.9l.4-1.7l.4 .3l.4 2.1l.4-.7l.4 .6l.4-1.9l.4-1.1l.4-.3l.4 .9l.4-.2l.4 .7l.4-.6l.4-1.3l.4-1.1l.4 3l.4-2.2l.4 2.3l.4-.9l.4-2l.4 1.5l.4 .2l.4 2.5l.4 2l.4 1l.4-1.3l.4 3l.4 .3l.4-.2l.4-.5l.4-.1l.4 .2l.4-1.7l.4 3l.4-.8l.4-.3l.4 1l.4-.7l.4 .5l.4 1.5l.4-2.9l.4-.6l.4 1.2l.4-2.7l.4 3.9l.4-1.8l.4 0l.4 .9l.4-.9l.4 .6l.4 .4l.4-.1l.4-.5l.4 1.6l.4-3.9l.4 4.6l.4-.6l.4 .1l.4 .1l.4-1.8l.4 .8l.4-1.3l.4 .6l.4 .8l.4-.8l.4 1.2l.4 1.6l.4-2.9l.4 1.7l.4-1.8l.4 .8l.4 .4l.4 3.3l.4-1.7l.4 .8l.4-1.4l.4-3.2l.4-1.2l.4 2.6l.4-.3l.4-.9l.4 .1l.4 2.9l.4 .6l.4 .5l.4-.5l.4-1.9l.4-.7l.4-1.8l.4 1.2l.4 3.2l.4-2.1l.4 1.2l.4-2.2l.4 .4l.4 2.2l.4-.7l.4 2.1l.4-.3l.4 .1l.4-.7l.4 .2l.4 .9l.4-2.3l.4-.3l.4-1.1l.4 .9l.4 0l.4-1l.4-.7l.4-.3l.4 1.9l.4-.3l.4-1.9l.4-1.8l.4-1.8l.4-.7l.4-2.5l.4-1.9l.4-1.8l.4-4.1l.4-3.4l.4-.5l.4-.7l.4-4.9l.4-1.9l.4-1.3l.4 3l.4 2.2l.4 4.6l.4 1.2l.4 2.2l.4 2.3l.4 2.6l.4 1.1l.4 2.8l.4 2l.4 1.2l.4 2.1l.4-.8l.4 .1l.4 0l.4 1.7l.4-.5l.4 2.7l.4-1l.4 .7l.4 .1l.4-.8l.4 0l.4 2.7l.4-2.1l.4 2l.4-3.3l.4 .6l.4-1.1l.4-.1l.4 3.2l.4 .1l.4-.7l.4-.3l.4 .1l.4 .6l.4-1.9l.4-1.3l.4 2.8l.4-1.1l.4 1.9l.4-.3l.4-2.1l.4 3.6l.4-.7l.4-1.8l.4-.4l.4-1.7l.4 5.1l.4-3.1l.4 .1l.4 .3l.4-1.6l.4-.6l.4 .5l.4 .3l.4 1.1l.4 .4l.4-.7l.4 1.3l.4-2.4l.4 1.2l.4 1.6l.4-3.2l.4 1.6l.4-2.2l.4-.3l.4 3.9l.4-1.9l.4-2.3l.4-2.4l.4-.8l.4-2.6l.4 1.2l.4-.7l.4 1.6l.4-3.8l.4-.1l.4 3.7l.4 1.4l.4 .7l.4 .7l.4 2.2l.4-1.8l.4 3.6l.4 .3l.4-2l.4-1.4l.4 1.5l.4-1.6l.4-.9l.4 .6l.4-2l.4 1.2l.4-2.7l.4-3.8l.4-.7l.4-3.7l.4-4.2l.4-4.1l.4-3.8l.4-7.5l.4-2.6l.4-.2l.4-3.8l.4-.8l.4-1.4l.4 1.3l.4-.4l.4 4.8l.4 5.7l.4 5.5l.4 3.2l.4 4.7l.4 3.3l.4 3.7l.4 2.2l.4 3.3l.4 1.5l.4 2.4l.4-2.7l.4 1.6l.4 .2l.4-.8l.4 2l.4 1.1l.4-1.8l.4-.5l.4 5l.4-1.1l.4-2.5l.4 .1l.4-.2l.4-.4l.4-.9l.4 2.5l.4-1.4l.4-1.9l.4 2l.4-2l.4 3.6l.4 .7l.4 0l.4 1l.4 .1l.4-1l.4-.6l.4-.8l.4 2.9l.4-1.8l.4-.3l.4 1.5l.4-2.9l.4 1l.4 2.7l.4-1.8l.4 .8l.4-.5l.4-3l.4 3.1l.4-.5l.4-.7l.4 .4l.4-3.8l.4 5.2l.4-1.6l.4-1.8l.4 2.6l.4-3.2l.4 .8l.4 .7l.4-2.8l.4 3.8l.4-.5l.4 .4l.4 .7l.4-.2l.4-.4l.4-.5l.4-.2l.4-1.4l.4 1.7l.4-1.1l.4-1.4l.4-.1l.4-1.6l.4 .1l.4-2.7l.4 .2l.4 0l.4-2.1l.4-1l.4-.7l.4-2.5l.4 1.9l.4 1.3l.4 3.6l.4 .3l.4-1.7l.4 .2l.4 3.2l.4-.6l.4-.2l.4 1.5l.4 1.9l.4 .2l.4-2.8l.4 2l.4 2.3l.4-2.2l.4 2.7l.4-.2l.4-3.3l.4 .8l.4-1.5l.4 1.9l.4 3.1l.4-3l.4-.8l.4 2.2l.4-.9l.4 4.5l.4-1.9l.4 .9l.4-.9l.4 .4l.4 .8l.4-.5l.4-.3l.4-4l.4 2.6l.4-1.5l.4 1.6l.4-2.3l.4 2l.4-2l.4 .5l.4 1.7l.4-.8l.4 .7l.4 .3l.4-2.7l.4 .8l.4 1.1l.4 .4l.4 .8l.4-1.2l.4 1.1l.4 .1l.4 .2l.4-1.4l.4-2.1l.4 4.3l.4-1.5l.4-2.1l.4 .4l.4 .1l.4-.2l.4-1.1l.4 2l.4-1.7l.4-2.4l.4 2.9l.4-3.5l.4 1.8l.4-2.6l.4-3.1l.4 3.6l.4-.7l.4-4.7l.4 1.5l.4 1l.4-.4l.4 3.6l.4-.9l.4 1.5l.4 1.2l.4-2.7l.4 2.5l.4 3l.4-1.2l.4-1l.4 2.4l.4 2l.4-1.1l.4-3.6l.4 .1l.4-.6l.4-.6l.4 2.7l.4-1.5l.4 1.2l.4 1.9l.4-1.2l.4 .2l.4 1.4l.4-2l.4-.6l.4 .1l.4 .4l.4-2.8l.4 3.3l.4-.2l.4 .4l.4 .2l.4 .3l.4-.9l.4 .3l.4-.4l.4 .2l.4-2.5l.4-.9l.4-2.2l.4-.2l.4 2.1l.4-.6l.4-4l.4-.3l.4-5.7l.4-4.6l.4-3.3l.4-.8l.4-5.9l.4 .1l.4-5.3l.4-5.3l.4-3.8l.4-5.6l.4-.6l.4-.1l.4 2.4l.4 3.9l.4 3.3l.4 4.4l.4 5l.4 3.1l.4 5.2l.4 3.8l.4 1.9l.4 3l.4 4.1l.4-.1l.4 5l.4-.7l.4 1.5l.4 .7l.4-.7l.4 2.9l.4-.8l.4 3l.4-1l.4-1l.4 .8l.4 .5l.4 0l.4 4.7l.4-1l.4-1.6l.4-1.3l.4 0l.4 .5l.4-1l.4-1.1l.4 1.3l.4 1l.4-2l.4-1.3l.4 .8l.4-.1l.4 .6l.4 2.1l.4-2.2l.4 3l.4 .3l.4-.1l.4-1.3l.4 .5l.4-1.2l.4-.9l.4 1.4l.4-.5l.4-.6l.4 2.4l.4-4.6l.4 .2l.4 3.3l.4-3.2l.4-1.6l.4 .5l.4-4.5l.4 3.1l.4-2.4l.4-.7l.4 1.1l.4-2.4l.4 1.8l.4-.1l.4-1.8l.4 .1l.4 2.3l.4 .6l.4-1.3l.4-2.8l.4 1.2l.4-1.7l.4-3.3l.4 1.5l.4 .6l.4 .1l.4-.5l.4-1.5l.4 .9l.4-.9l.4-.7l.4-2.4l.4-.3l.4 .9l.4-.4l.4-1.2l.4 1.2l.4-.8l.4 2.2l.4 1.1l.4 1.3l.4-2l.4 1.3l.4-.1l.4 .9l.4 2.7l.4-1.6l.4 2.1l.4-2.6l.4 .9l.4-.7l.4 .6l.4 .8l.4-.2l.4 .7l.4-2l.4-2.2l.4 2.8l.4 .1l.4 2.2l.4-1.2l.4-.9l.4 .8l.4 3.4l.4-.9l.4-1.6l.4 1.4l.4 .2l.4-1.7l.4 .6l.4-1.4l.4 1l.4-2.8l.4 2.6l.4 1l.4 1.9l.4-.9l.4-.4l.4 1.7l.4-2.1l.4-.3l.4 1.4l.4 1.1l.4-2.2l.4-2.8l.4 .7l.4-2.4l.4 2.7l.4 1.5l.4-.3l.4-.7l.4 .3l.4-2.6l.4 .2l.4 1.8l.4 .3l.4 3l.4-2.7l.4 3.6l.4-2.9l.4-.7l.4 .5l.4-1.7l.4-.8l.4 4.1l.4-2.7l.4 .4l.4-.3l.4-1.2l.4-.4l.4 2.4l.4-2.9l.4 2l.4 .3l.4 1.2l.4 0l.4 .4l.4 .3l.4 1.7l.4-1l.4 .8l.4-1.4l.4 1.4l.4-1.4l.4 2.7l.4-2.7l.4 1.2l.4-1l.4 .5l.4-1.4l.4 3.1l.4 .3l.4 2.2l.4-2.3l.4 1.2l.4 2.7l.4-4.2l.4 2.4l.4 .4l.4-.1l.4 2.6l.4 .8l.4 .3l.4-2.7l.4 3.8l.4 1.3l.4 0l.4-1.7l.4 2.1l.4-5.1l.4 2.6l.4-1.8l.4 .9l.4-.5l.4 2.8l.4-2.9l.4 2.5l.4-3.2l.4-2.7l.4 1.2l.4 .4l.4 2.9l.4 1.3l.4-1.3l.4 0l.4 1.1l.4-1.8l.4 1.3l.4 1.3l.4 .3l.4-.1l.4-2.5l.4 1.3l.4-.2l.4-2.5l.4 1.5l.4 2.4l.4-2.7l.4 .6l.4-2.3l.4-.2l.4 .2l.4-1.2l.4-.7l.4-.2l.4 1.1l.4 .2l.4-1.3l.4-2.3l.4-.9l.4-3.7l.4 0l.4 1.6l.4-.9l.4 2.1l.4-1.2l.4 1l.4-1l.4 1.7l.4 .9l.4-1.3l.4 1.2l.4 2.2l.4 1.5l.4 2.5l.4 1l.4-2.7l.4 1.2l.4 .5l.4-.4l.4-.5l.4 3.6l.4-2.3l.4 2.2l.4-.4l.4 0l.4-1.8l.4 1.2l.4-3.6l.4 2.7l.4 3l.4-.6l.4 2l.4 .5l.4-2.5l.4-1.4l.4 0l.4-1l.4 .1l.4-1.5l.4 2.2l.4-.5l.4 1.4l.4-.6l.4 1.6l.4-1.9l.4-.1l.4-.8l.4 .2l.4-1.4l.4 1l.4 .6l.4-2.3l.4-.5l.4 .4l.4-.5l.4-.2l.4 5.8l.4 1.7l.4-1.4l.4-2.5l.4-.7l.4 .4l.4-1.4l.4 .7l.4-1.1l.4 2l.4 .7l.4-2.4l.4-.2l.4 .2l.4-2.3l.4 1.5l.4-.6l.4-1.9l.4 1.9l.4 .6l.4 .8l.4 .6l.4-3.2l.4 .9l.4-.1l.4-.1l.4 2.8l.4-.6l.4-1.2l.4-2.6l.4 2.5l.4-1.2l.4 .7l.4 .4l.4-3.3l.4 .9l.4 .3l.4-.9l.4 .1l.4 .3l.4-.4l.4 1.8l.4-.6l.4-1.3l.4 1l.4 2.1l.4-1.5l.4-.1l.4-.1l.4-.4l.4-.7l.4 1l.4-.9l.4 0l.4 3.4l.4-.5l.4 1.2l.4-2.9l.4 1.6l.4-1.2l.4 3l.4-1.5l.4 3.7l.4-4.4l.4 2.2l.4-.7l.4-.5l.4 2.4l.4-2.2l.4-1.7l.4 4.6l.4-.7l.4-.7l.4 1.2l.4-1.1l.4 .5l.4-1l.4-.3l.4-.6l.4-.8l.4 1.1l.4-1.8l.4-.8l.4 .4l.4 .7l.4-.4l.4 1l.4-2.5l.4-.8l.4 1l.4-1.2l.4 .6l.4 1.9l.4-3.7l.4 1.4l.4 3l.4-.1l.4 .4l.4-.5l.4-2l.4 0l.4-.9l.4 2l.4-.8l.4-.8l.4 .4l.4-.5l.4 .6l.4 1l.4-.5l.4 .4l.4 .5l.4-.5l.4-1.6l.4-.3l.4-.7l.4 1l.4 3.2l.4-.7l.4-.4l.4 .6l.4-.6l.4 .9l.4-1.3l.4 2.8l.4-2.1l.4 1.7l.4-.6l.4-.3l.4-1l.4-1.7l.4 1.6l.4 1.1l.4 .2l.4 .7l.4-2.3l.4 1.8l.4-.6l.4 2.8l.4-1.5l.4-.6l.4 1.1l.4-1.3l.4 1.8l.4-1.5l.4 1.5l.4 2.3l.4 .1l.4-2.6l.4 1.6l.4-1.2l.4 1.3l.4 2.1l.4-1.4l.4-.5l.4 .5l.4 .2l.4-4.3l.4 2.1l.4-2.1l.4 2.5l.4-.5l.4 2.1l.4-.5l.4-1.6l.4 .4l.4-1.3l.4 .4l.4 1.6l.4 1l.4 .9l.4-1.1l.4-2.4l.4-2.6l.4 .7l.4 0l.4 0l.4-3.4l.4-1.6l.4-.2l.4 0l.4 2.3l.4 1.4l.4 1.4l.4-.4l.4 .8l.4-1.7l.4-1.2l.4 2.4l.4 .3l.4-.2l.4 1.6l.4-.8l.4-.2l.4-1.4l.4 3l.4 .1l.4 1.7l.4-.6l.4-1l.4 .7l.4-.1l.4 1.4l.4-.6l.4 .1l.4 1.3l.4-1l.4-.8l.4 1.4l.4-2.1l.4-.3l.4 .4l.4-.4l.4-1.5l.4 3.1l.4-2l.4-.3l.4 2.5l.4-.9l.4 0l.4 2.1l.4-2.5l.4-1.1l.4 1.1l.4-.8l.4 .7l.4-.5l.4 2.7l.4-3.5l.4 1.5l.4 0l.4-.1l.4 .2l.4 1.4l.4 1.5l.4-.3l.4-1.1l.4-3.5l.4 1.5l.4-.5l.4 .8l.4-1.3l.4 .6l.4-.2l.4 .1l.4-.3l.4 1.2l.4-.3l.4 1.6l.4 1.3l.4-.2l.4-.1l.4-.6l.4 .6l.4-1.8l.4 .3l.4 .6l.4 .3l.4-1.7l.4 .9l.4 2.5l.4-1.6l.4-.6l.4-4.9l.4 2.2l.4 .2l.4 0l.4 .4l.4-1.4l.4 2.4l.4 .5l.4-1.5l.4 2.7l.4-1l.4 .5l.4-.6l.4-3.9l.4 .4l.4 .7l.4-3l.4 3l.4-2.1l.4 2.5l.4 .4l.4-1.2l.4-.5l.4-.5l.4 .3l.4-.3l.4-.1l.4 2.3l.4-.2l.4-.8l.4-.8l.4 .3l.4 1.4l.4 0l.4 .5l.4-1.5l.4 2.2l.4-1.8l.4 2.1l.4 2.1l.4 .5l.4-1.6l.4 .2l.4-2.7l.4-.6l.4 .5l.4 .1l.4 3.5l.4-4.6l.4 3.4l.4-1.8l.4-.6l.4 1l.4 .7l.4 .1l.4 1.9l.4-1.9l.4 0l.4 .2l.4 1l.4-.1l.4-.1l.4 1.8l.4-1.8l.4 2.6l.4-.1l.4-1.3l.4-1.4l.4-.5l.4-3.2l.4-2.3l.4 2.6l.4 0l.4 1.9l.4 1l.4-2.7l.4 1.3l.4-.6l.4 .9l.4-.4l.4 1.1l.4-2.4l.4 1.8l.4 1.6l.4-.6l.4-2.6l.4 2.4l.4 .5l.4-2.2l.4 1l.4-.4l.4 .7l.4 .6l.4-1.7l.4-.9l.4-.7l.4 0l.4-.3l.4 1.2l.4 1.1l.4-1.2l.4 .1l.4 .7l.4-.4l.4-2.1l.4 1.4l.4-.1l.4-1.9l.4 2.1l.4 .3l.4 .7l.4-1.6l.4 1.1l.4-2.3l.4 .1l.4 2.3l.4-2.3l.4 3.7l.4-1.4l.4 3.1l.4-2.6l.4 1.3l.4-.5l.4 1.2l.4 2.1l.4-2.7l.4 .6l.4-1.9l.4 2.9l.4 1.4l.4 .2l.4-2l.4-2.6l.4 2.2l.4-1.2l.4-2.9l.4 2.5l.4-1.8l.4 3.5l.4 .2l.4 1.7l.4 .9l.4-.5l.4-.7l.4-2l.4 .7l.4 1.1l.4-2.2l.4 .5l.4 2.4l.4 0l.4-2.8l.4-2.1l.4 .6l.4-.4l.4 .4l.4 .7l.4-3l.4-.2l.4 3.9l.4-.7l.4 2.6l.4-3.1l.4 2.3l.4-3.6l.4 .6l.4-.6l.4 2.7l.4-1.7l.4 .2l.4 1.2l.4 1.1l.4-1.5l.4-.3l.4 .9l.4 .3l.4-1.9l.4-1.3l.4 3.7l.4 .4l.4-4l.4 2.6l.4 .1l.4-1.4l.4-.6l.4-.3l.4-.2l.4 1.4l.4 1.7l.4-4.5l.4 2.6l.4-1.4l.4 .4l.4 2.9l.4-4.1l.4-.6l.4-2.4l.4-.6l.4 2.5l.4-.2l.4-2.3l.4 .5l.4 .9l.4 1l.4 3l.4-3.5l.4 .8l.4 1.6l.4-1.1l.4 1.3l.4-1.7l.4-2l.4 2.5l.4-.9l.4 1l.4 .5l.4-.3l.4 .9l.4 2.4l.4-3.1l.4 1.9l.4 .7l.4-.8l.4 .9l.4-3.7l.4 2l.4 .2l.4 .1l.4 1l.4-.5l.4-.6l.4 2.4l.4-2.5l.4 .9l.4 1.3l.4 .6l.4-3.3l.4 1.3l.4-2.5l.4 1.3l.4 .9l.4-1.8l.4 3.7l.4-.6l.4-2l.4 2.5l.4-.1l.4 .7l.4-3.1l.4 3.5l.4 1.1l.4-2.6l.4 .6l.4 0l.4 .5l.4-.5l.4 .6l.4-1.5l.4-.3l.4-.2l.4 .2l.4-.1l.4-.5l.4 .8l.4 .2l.4 .6l.4 1.3l.4 .9l.4-.5l.4-2.4l.4-2.6l.4 2.9l.4 .1l.4-.1l.4-1.6l.4-.6l.4 2.5l.4 1.3l.4-1.2l.4 2.1l.4-2.7l.4 1.1l.4-.7l.4-1l.4 2l.4 1.4l.4 .5l.4-2.1l.4 .8l.4 .6l.4-.5l.4-2.5l.4 .7l.4 .3l.4 1.2l.4-1l.4 1.1l.4-2.5l.4 2l.4 1.3l.4 1.2l.4-2.1l.4-.8l.4-1.5l.4-.7l.4 1.1l.4 1l.4-2l.4 1.9l.4-.2l.4 .1l.4 .6l.4-.8l.4-.4l.4 1.7l.4-2.1l.4 .7l.4 .6l.4-1.3l.4 2.4l.4-1.8l.4-1.1l.4-.9l.4 2.1l.4-.4l.4 1l.4-1.8l.4 1.3l.4-1.6l.4 .5l.4-.5l.4 .5l.4 3.5l.4 .4l.4-1.6l.4-.2l.4-2.1l.4 1.4l.4-3.6l.4 3.9l.4-2.4l.4 2.4l.4 2.2l.4-2l.4 0l.4 1.2l.4-.8l.4-5.1l.4 2.2l.4 1.1l.4-.2l.4 .6l.4-1.4l.4-.5l.4-1.3l.4 1.5l.4-4.7l.4 1.2l.4 1.1l.4-.6l.4-.5l.4-2.1l.4-2.6l.4-1.6l.4 1.6l.4-1l.4 1.5l.4 .8l.4 3.3l.4-.1l.4-3.3l.4 1.3l.4-2.3l.4 1.9l.4 1.8l.4 .1l.4 2.6l.4-1.6l.4 .5l.4-1.7l.4 4l.4-.9l.4 .6l.4 .9l.4-2.3l.4 4l.4-2l.4-.4l.4-2.3l.4-.1l.4 2.2l.4 .2l.4-.7l.4 .6l.4-.7l.4 .3l.4 1.8l.4-1.4l.4 .9l.4 1l.4-1.7l.4-.7l.4 0l.4-2.4l.4 5.1l.4-1.3l.4 1.1l.4-.3l.4 1.3l.4 .1l.4-1.8l.4 .7l.4-1.1l.4 4.1l.4-2.1l.4-.4l.4-1.7l.4-2.1l.4 1.8l.4-2.1l.4 .8l.4 2l.4-1.3l.4-2.4l.4 1.5l.4 3.1l.4-3.4" fill="none" stroke="#000000" stroke-width="1.35" stroke-linejoin="round"/>
<path d="M231.5 97.5V1143.5 M231.5 1143.5H1636.0 M210.8 97.5H231.5 M220.9 131.8H231.5 M210.8 166.1H231.5 M220.9 200.4H231.5 M210.8 234.7H231.5 M220.9 269.0H231.5 M210.8 303.3H231.5 M220.9 337.6H231.5 M210.8 371.9H231.5 M220.9 406.2H231.5 M210.8 440.5H231.5 M220.9 474.8H231.5 M210.8 509.1H231.5 M220.9 543.4H231.5 M210.8 577.7H231.5 M220.9 612.0H231.5 M210.8 646.3H231.5 M220.9 680.5H231.5 M210.8 714.8H231.5 M220.9 749.1H231.5 M210.8 783.4H231.5 M220.9 817.7H231.5 M210.8 852.0H231.5 M220.9 886.3H231.5 M210.8 920.6H231.5 M220.9 954.9H231.5 M210.8 989.2H231.5 M220.9 1023.5H231.5 M210.8 1057.8H231.5 M220.9 1092.1H231.5 M210.8 1126.4H231.5 M231.5 1143.5V1154.0 M465.6 1143.5V1164.2 M699.7 1143.5V1154.0 M933.7 1143.5V1164.2 M1167.8 1143.5V1154.0 M1401.9 1143.5V1164.2 M1636.0 1143.5V1154.0" fill="none" stroke="#000" stroke-width="3.7" stroke-linecap="round" stroke-linejoin="round"/>
<g fill="#00457d"><ellipse cx="737.6" cy="117.8" rx="17.3" ry="13"/><ellipse cx="769.8" cy="207.2" rx="17.3" ry="13"/><ellipse cx="754.7" cy="240.4" rx="17.3" ry="13"/><ellipse cx="604.4" cy="253.4" rx="17.3" ry="13"/><ellipse cx="672" cy="339.8" rx="17.3" ry="13"/><ellipse cx="800.2" cy="311.3" rx="17.3" ry="13"/><ellipse cx="927.1" cy="298.3" rx="17.3" ry="13"/><ellipse cx="1085.5" cy="296.3" rx="17.3" ry="13"/><ellipse cx="1159.4" cy="291.9" rx="17.3" ry="13"/><ellipse cx="1188.6" cy="321.4" rx="17.3" ry="13"/><ellipse cx="1239.5" cy="334.1" rx="17.3" ry="13"/><ellipse cx="764.1" cy="412.4" rx="17.3" ry="13"/><ellipse cx="740.3" cy="433.5" rx="17.3" ry="13"/><ellipse cx="607" cy="452" rx="17.3" ry="13"/><ellipse cx="766.7" cy="463.3" rx="17.3" ry="13"/><ellipse cx="670.7" cy="486.8" rx="17.3" ry="13"/><ellipse cx="796.2" cy="495.1" rx="17.3" ry="13"/><ellipse cx="927.4" cy="497.5" rx="17.3" ry="13"/><ellipse cx="1106.2" cy="491.8" rx="17.3" ry="13"/><ellipse cx="1156.4" cy="484.1" rx="17.3" ry="13"/><ellipse cx="1194.5" cy="486.8" rx="17.3" ry="13"/><ellipse cx="1234.5" cy="500.2" rx="17.3" ry="13"/><rect x="610.3" y="589.3" width="24.2" height="25.6"/><rect x="632.3" y="632.0" width="24.2" height="25.6"/><rect x="702.4" y="544.8" width="24.2" height="25.6"/><rect x="760.5" y="651.7" width="24.2" height="25.6"/><rect x="941.9" y="654.7" width="24.2" height="25.6"/><rect x="1131.8" y="668.8" width="24.2" height="25.6"/><rect x="603.0" y="779.1" width="24.2" height="25.6"/><rect x="629.6" y="797.7" width="24.2" height="25.6"/><rect x="765.9" y="819.3" width="24.2" height="25.6"/><rect x="936.9" y="827.2" width="24.2" height="25.6"/><rect x="600.1" y="910.1" width="24.2" height="25.6"/><rect x="618.9" y="987.4" width="24.2" height="25.6"/><rect x="752.5" y="968.8" width="24.2" height="25.6"/><rect x="830.0" y="1003.8" width="24.2" height="25.6"/><rect x="931.6" y="990.2" width="24.2" height="25.6"/><rect x="1140.0" y="990.4" width="24.2" height="25.6"/><path d="M674.7 562.8L690.0 589.5H659.4Z"/><path d="M1230.8 654.2L1246.1 681.6H1215.5Z"/><path d="M674.7 728.5L690.0 755.6H659.4Z"/><path d="M718.2 741.2L733.5 768H702.9Z"/><path d="M711.2 859.4L726.5 886.8H695.9Z"/><path d="M667.3 977.6L682.6 1005H652.0Z"/><path d="M1233.5 966.8L1248.8 994H1218.2Z"/><ellipse cx="1385.8" cy="57.4" rx="17.4" ry="13.1"/><rect x="1371.1" y="115.2" width="34.8" height="26.7"/><path d="M1387.9 187.6L1405.5 220.9H1370Z"/></g>
<g font-family="'Liberation Sans', Arial, sans-serif" fill="#000">
<text transform="translate(1435.0 75.0) scale(1.0 1.005)" font-size="54.4">HAp</text>
<text transform="translate(1428.35 147.9) scale(1.0 1.005)" font-size="54.4">Monetite</text>
<text transform="translate(1658.65 409.2) scale(0.985 1.025)" font-size="54.4">S5</text>
<text transform="translate(1660.45 572.0) scale(0.985 1.025)" font-size="54.4">S4</text>
<text transform="translate(1663.9 765.8) scale(0.985 1.025)" font-size="54.4">S3</text>
<text transform="translate(1666.8 910.4) scale(0.985 1.025)" font-size="54.4">S2</text>
<text transform="translate(465.3 1232.6) scale(1.0 1.02)" font-size="69.1" text-anchor="middle">20</text>
<text transform="translate(932.8 1232.6) scale(1.0 1.02)" font-size="69.1" text-anchor="middle">40</text>
<text transform="translate(1401.2 1232.6) scale(1.0 1.02)" font-size="69.1" text-anchor="middle">60</text>
<text transform="translate(112 955.1) rotate(-90) scale(1.0 0.995)" font-size="88.5">Intensity (a.u.)</text>
<text><tspan x="1433.9" y="231.1" font-family="'Liberation Serif', 'DejaVu Serif', serif" font-size="53.86" textLength="34.48" lengthAdjust="spacingAndGlyphs">α</tspan><tspan x="1469.6" y="230.3" font-family="'Liberation Serif', 'DejaVu Serif', serif" font-size="58.00" textLength="27.55" lengthAdjust="spacingAndGlyphs">–</tspan><tspan x="1496.9" y="231" font-family="'Liberation Sans', Arial, sans-serif" font-size="54.67" textLength="108.80" lengthAdjust="spacingAndGlyphs">TCP</tspan></text>
<text><tspan x="1663.8" y="1067.0" font-family="'Liberation Sans', Arial, sans-serif" font-size="55.76" textLength="35.74" lengthAdjust="spacingAndGlyphs">S</tspan><tspan x="1700.8" y="1067.0" font-family="'Liberation Sans', Arial, sans-serif" font-size="55.76" textLength="29.80" lengthAdjust="spacingAndGlyphs">1</tspan></text>
<text><tspan x="832.0" y="1350.2" font-family="'Liberation Sans', Arial, sans-serif" font-size="90.58" textLength="50.63" lengthAdjust="spacingAndGlyphs">2</tspan><tspan x="880.5" y="1350.4" font-family="'Liberation Serif', 'DejaVu Serif', serif" font-size="87.02" textLength="47.01" lengthAdjust="spacingAndGlyphs">θ</tspan> <tspan x="950.6" y="1350.0" font-family="'Liberation Serif', 'DejaVu Serif', serif" font-size="88.36" textLength="30.32" lengthAdjust="spacingAndGlyphs">(</tspan> <tspan x="1001.2" y="1305.6" font-family="'Liberation Serif', 'DejaVu Serif', serif" font-size="52.52" textLength="29.64" lengthAdjust="spacingAndGlyphs">o</tspan> <tspan x="1043.1" y="1350.0" font-family="'Liberation Serif', 'DejaVu Serif', serif" font-size="88.36" textLength="30.32" lengthAdjust="spacingAndGlyphs">)</tspan></text>
<rect x="1701" y="1061" width="13.1" height="7.5" fill="#fff"/><rect x="1719.4" y="1061" width="11" height="7.5" fill="#fff"/>
</g>
</svg>
</body>
</html>
